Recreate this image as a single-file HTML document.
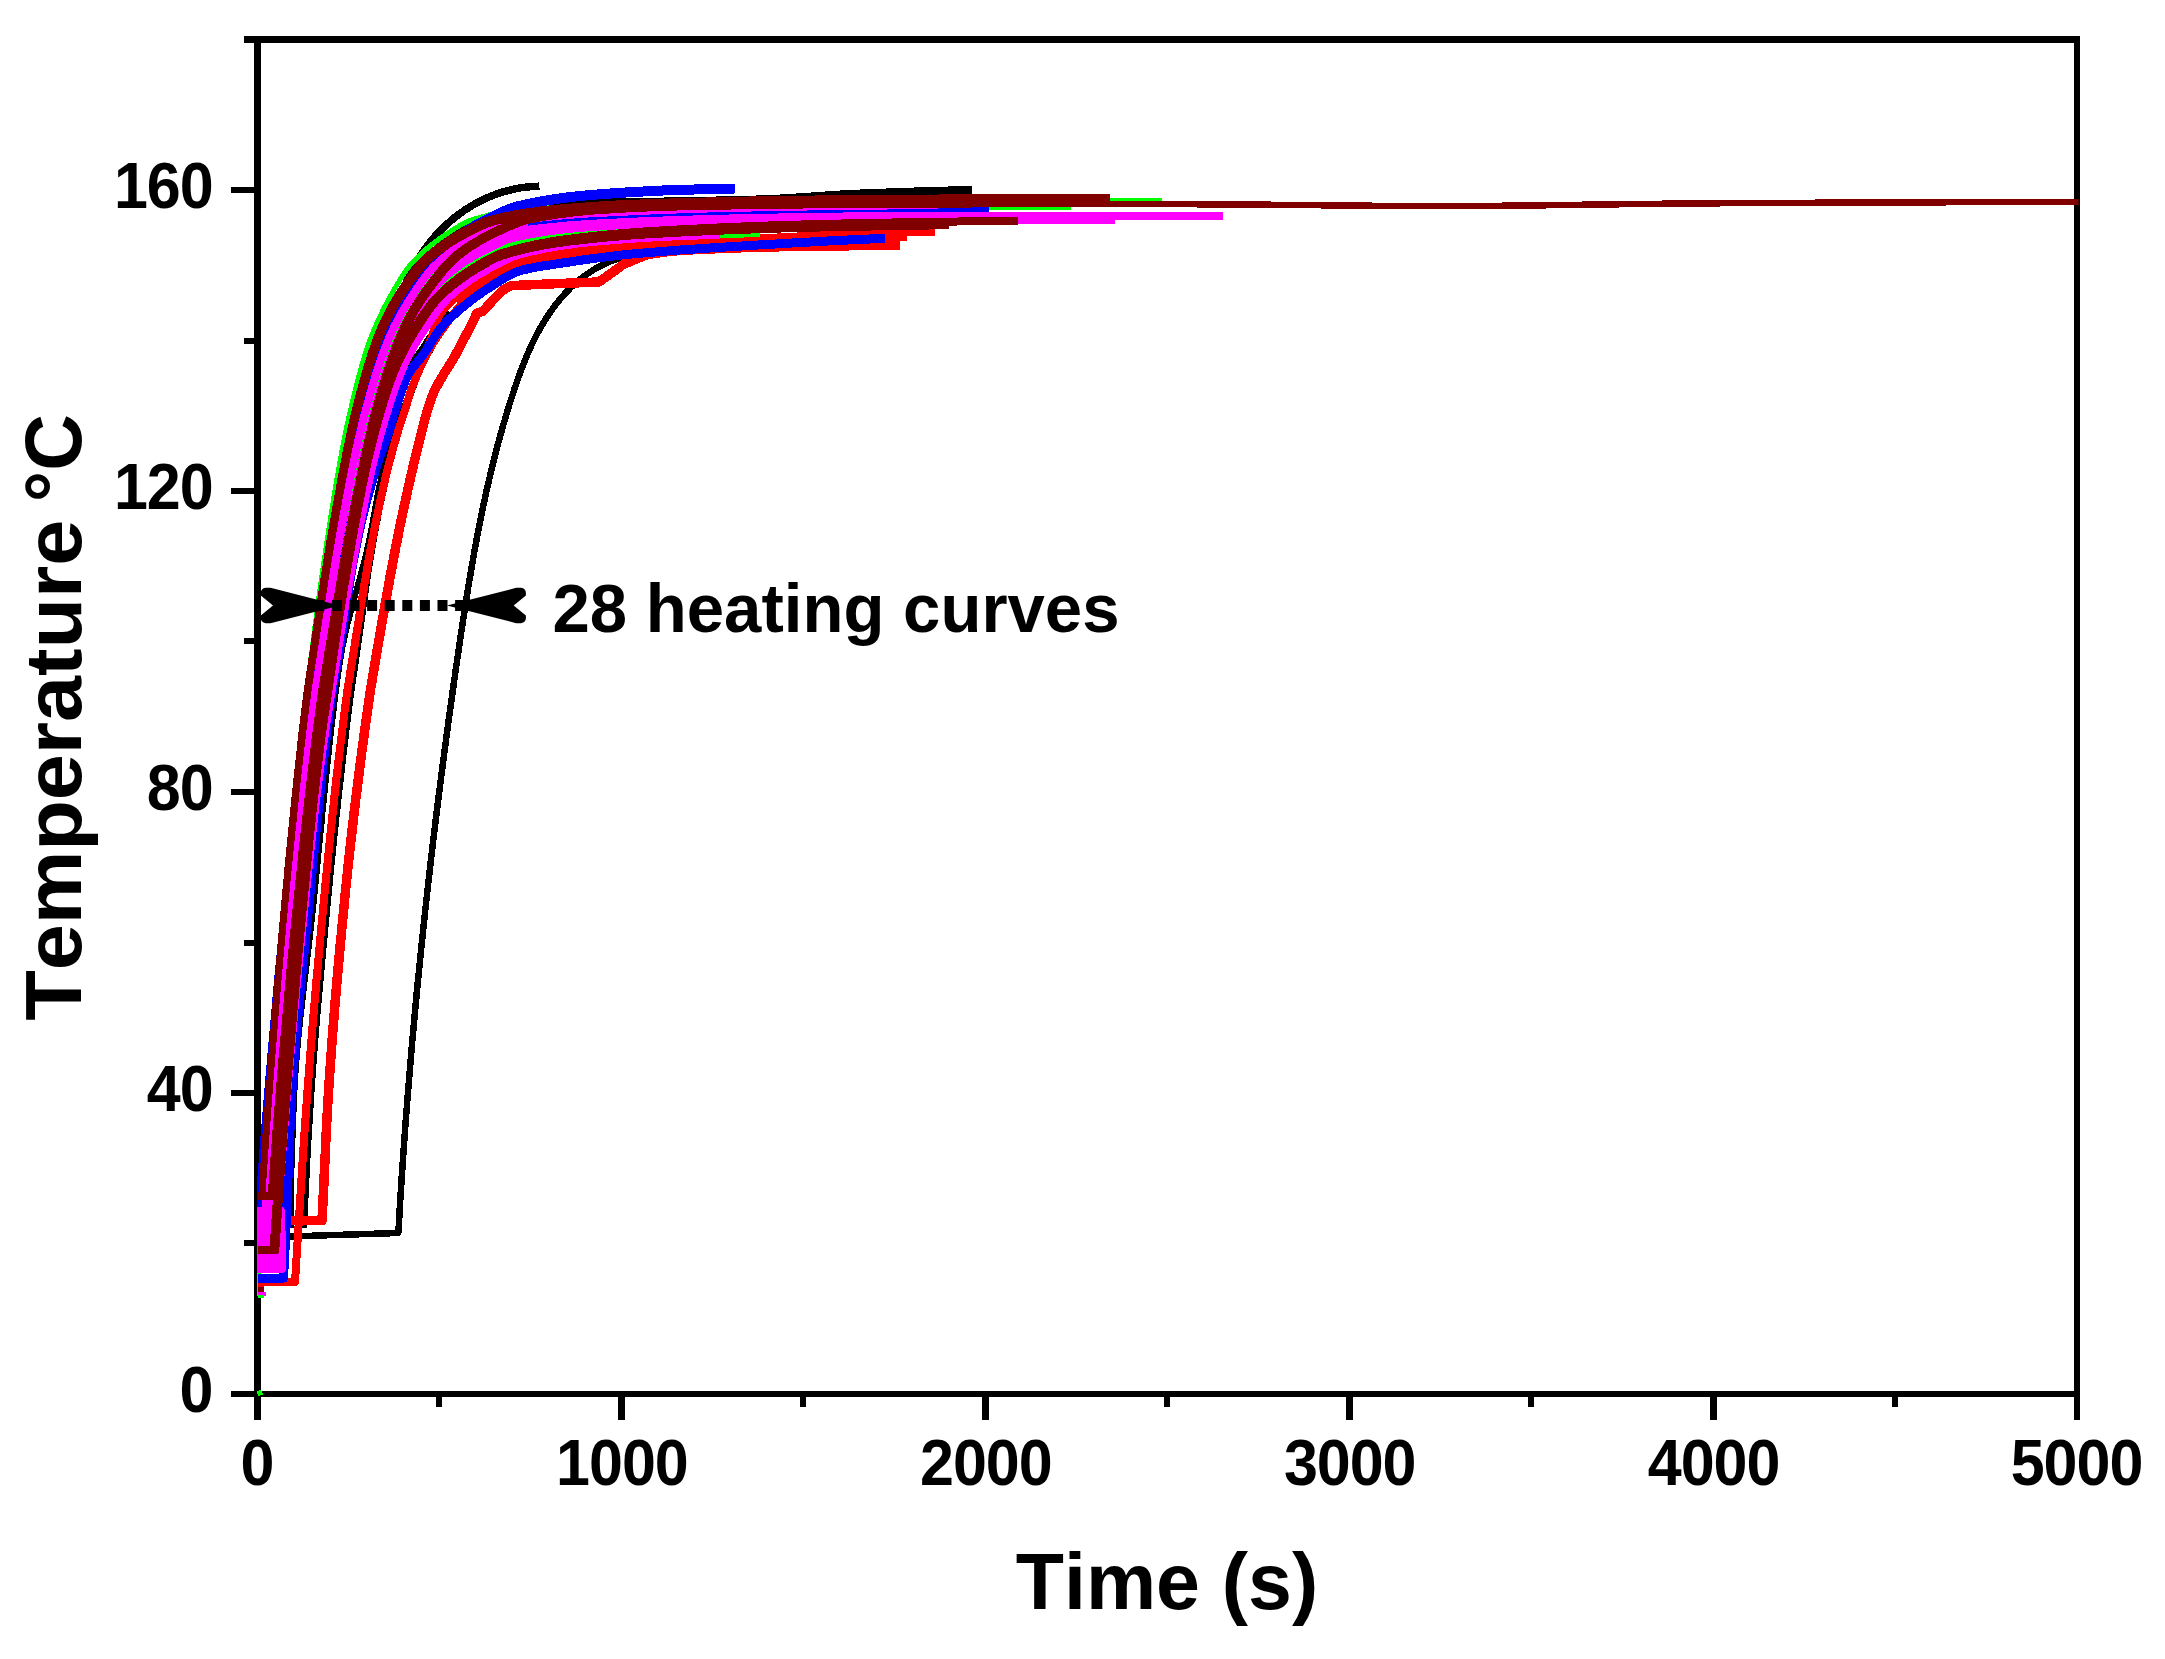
<!DOCTYPE html>
<html lang="en">
<head>
<meta charset="utf-8">
<title>28 heating curves</title>
<style>
html,body{margin:0;padding:0;background:#fff;}
body{width:2165px;height:1659px;overflow:hidden;}
svg{display:block;}
</style>
</head>
<body>
<svg width="2165" height="1659" viewBox="0 0 2165 1659">
<rect width="2165" height="1659" fill="#fff"/>
<g fill="#000" shape-rendering="crispEdges"><rect x="244" y="36" width="1836" height="7"/><rect x="254" y="36" width="7" height="1384"/><rect x="2074" y="36" width="6" height="1384"/><rect x="231" y="1391" width="1849" height="6"/><rect x="231" y="1090" width="23" height="6"/><rect x="231" y="789" width="23" height="6"/><rect x="231" y="488" width="23" height="6"/><rect x="231" y="187" width="23" height="6"/><rect x="244" y="1240" width="10" height="6"/><rect x="244" y="940" width="10" height="6"/><rect x="244" y="638" width="10" height="6"/><rect x="244" y="338" width="10" height="6"/><rect x="618" y="1397" width="7" height="23"/><rect x="982" y="1397" width="7" height="23"/><rect x="1346" y="1397" width="7" height="23"/><rect x="1710" y="1397" width="7" height="23"/><rect x="436" y="1397" width="6" height="10"/><rect x="800" y="1397" width="6" height="10"/><rect x="1164" y="1397" width="6" height="10"/><rect x="1528" y="1397" width="6" height="10"/><rect x="1892" y="1397" width="6" height="10"/></g>
<defs><clipPath id="plot"><rect x="257" y="43" width="1821.5" height="1354"/></clipPath></defs>
<g clip-path="url(#plot)" fill="none" stroke-linejoin="round" stroke-linecap="butt" shape-rendering="crispEdges">
<path stroke="#000000" stroke-width="7.5" d="M300.0,760.0L300.2,758.0L300.5,756.0L300.7,754.0L301.0,752.0L301.3,750.1L301.5,748.1L301.8,746.1L302.0,744.1L302.3,742.1L302.5,740.1L302.8,738.1L303.1,736.1L303.3,734.2L303.6,732.2L303.9,730.2L304.1,728.2L304.4,726.2L304.6,724.2L304.9,722.2L305.2,720.2L305.4,718.3L305.7,716.3L306.0,714.3L306.2,712.3L306.5,710.3L306.8,708.3L307.1,706.4L307.3,704.4L307.6,702.4L307.9,700.4L308.1,698.4L308.4,696.4L308.7,694.5L309.0,692.5L309.3,690.5L309.5,688.5L309.8,686.5L310.1,684.5L310.4,682.6L310.7,680.6L310.9,678.6L311.2,676.6L311.5,674.6L311.8,672.7L312.1,670.7L312.4,668.7L312.7,666.7L312.9,664.7L313.2,662.8L313.5,660.8L313.8,658.8L314.1,656.8L314.4,654.9L314.7,652.9L315.0,650.9L315.3,648.9L315.6,646.9L315.9,645.0L316.2,643.0L316.5,641.0L316.8,639.0L317.1,637.1L317.4,635.1L317.7,633.1L318.0,631.1L318.4,629.2L318.7,627.2L319.0,625.2L319.3,623.2L319.6,621.3L319.9,619.3L320.2,617.3L320.6,615.4L320.9,613.4L321.2,611.4L321.5,609.4L321.9,607.5L322.2,605.5L322.5,603.5L322.8,601.6L323.2,599.6L323.5,597.6L323.8,595.7L324.2,593.7L324.5,591.7L324.8,589.8L325.2,587.8L325.5,585.8L325.9,583.9L326.2,581.9L326.6,579.9L326.9,578.0L327.2,576.0L327.6,574.0L328.0,572.1L328.3,570.1L328.7,568.1L329.0,566.2L329.4,564.2L329.7,562.2L330.1,560.3L330.5,558.3L330.8,556.4L331.2,554.4L331.6,552.4L331.9,550.5L332.3,548.5L332.7,546.5L333.0,544.6L333.4,542.6L333.8,540.7L334.2,538.7L334.6,536.8L334.9,534.8L335.3,532.8L335.7,530.9L336.1,528.9L336.5,527.0L336.9,525.0L337.3,523.1L337.7,521.1L338.1,519.1L338.5,517.2L338.9,515.2L339.3,513.3L339.7,511.3L340.1,509.4L340.5,507.4L340.9,505.5L341.3,503.5L341.8,501.6L342.2,499.6L342.6,497.7L343.0,495.7L343.5,493.8L343.9,491.8L344.3,489.9L344.7,487.9L345.2,486.0L345.6,484.0L346.0,482.1L346.5,480.1L346.9,478.2L347.4,476.2L347.8,474.3L348.3,472.4L348.7,470.4L349.2,468.5L349.6,466.5L350.1,464.6L350.5,462.6L351.0,460.7L351.5,458.8L351.9,456.8L352.4,454.9L352.9,452.9L353.3,451.0L353.8,449.0L354.3,447.1L354.8,445.2L355.3,443.2L355.7,441.3L356.2,439.4L356.7,437.4L357.2,435.5L357.7,433.5L358.2,431.6L358.7,429.7L359.2,427.7L359.7,425.8L360.2,423.9L360.7,421.9L361.2,420.0L361.8,418.1L362.3,416.1L362.8,414.2L363.3,412.3L363.8,410.4L364.4,408.4L364.9,406.5L365.4,404.6L366.0,402.6L366.5,400.7L367.0,398.8L367.6,396.9L368.1,394.9L368.7,393.0L369.2,391.1L369.8,389.2L370.3,387.2L370.9,385.3L371.5,383.4L372.0,381.5L372.6,379.5L373.2,377.6L373.7,375.7L374.3,373.8L374.9,371.9L375.5,369.9L376.1,368.0L376.6,366.1L377.2,364.2L377.8,362.3L378.4,360.3L379.0,358.4L379.6,356.5L380.2,354.6L380.8,352.7L381.4,350.8L382.1,348.9L382.7,346.9L383.3,345.0L383.9,343.1L384.5,341.2L385.2,339.3L385.8,337.4L386.4,335.5L387.1,333.6L387.7,331.7L388.4,329.7L389.0,327.8L389.7,325.9L390.3,324.0L391.0,322.1L391.6,320.2L392.3,318.3L393.0,316.4L393.6,314.5L394.3,312.6L395.0,310.7L395.7,308.8L396.4,306.9L397.1,305.0L397.8,303.1L398.5,301.3L399.2,299.4L399.9,297.5L400.7,295.6L401.4,293.8L402.2,291.9L402.9,290.1L403.7,288.2L404.5,286.4L405.3,284.5L406.1,282.7L406.9,280.9L407.8,279.1L408.6,277.3L409.5,275.5L410.4,273.7L411.3,271.9L412.2,270.2L413.1,268.4L414.0,266.7L415.0,264.9L416.0,263.2L417.0,261.5L418.0,259.8L419.0,258.1L420.0,256.4L421.1,254.8L422.2,253.1L423.3,251.5L424.4,249.8L425.5,248.2L426.7,246.6L427.9,245.0L429.1,243.5L430.3,241.9L431.6,240.4L432.8,238.9L434.1,237.3L435.4,235.9L436.7,234.4L438.1,232.9L439.4,231.5L440.8,230.1L442.2,228.6L443.6,227.3L445.1,225.9L446.5,224.5L448.0,223.2L449.5,221.9L451.0,220.6L452.5,219.3L454.0,218.0L455.6,216.8L457.2,215.6L458.8,214.4L460.4,213.2L462.0,212.1L463.6,210.9L465.3,209.8L466.9,208.7L468.6,207.7L470.3,206.6L472.0,205.6L473.7,204.6L475.5,203.6L477.2,202.7L479.0,201.7L480.8,200.8L482.6,199.9L484.4,199.1L486.2,198.3L488.0,197.4L489.9,196.7L491.7,195.9L493.6,195.2L495.5,194.5L497.4,193.8L499.3,193.1L501.2,192.5L503.1,191.9L505.0,191.4L507.0,190.8L508.9,190.3L510.9,189.8L512.9,189.4L514.9,188.9L516.9,188.6L518.9,188.2L520.9,187.8L522.9,187.5L524.9,187.3L527.0,187.0L529.0,186.8L531.1,186.6L533.2,186.5L535.2,186.3L537.3,186.3L539.4,186.2"/>
<path stroke="#000000" stroke-width="8" d="M300.0,760.0L300.2,758.0L300.4,756.0L300.6,754.0L300.9,752.0L301.1,750.0L301.3,748.0L301.5,746.0L301.7,744.1L302.0,742.1L302.2,740.1L302.4,738.1L302.7,736.1L302.9,734.1L303.1,732.1L303.4,730.1L303.6,728.1L303.9,726.1L304.1,724.2L304.4,722.2L304.6,720.2L304.9,718.2L305.1,716.2L305.4,714.2L305.6,712.2L305.9,710.3L306.1,708.3L306.4,706.3L306.7,704.3L306.9,702.3L307.2,700.3L307.5,698.3L307.8,696.4L308.0,694.4L308.3,692.4L308.6,690.4L308.9,688.4L309.1,686.4L309.4,684.5L309.7,682.5L310.0,680.5L310.3,678.5L310.6,676.5L310.9,674.6L311.1,672.6L311.4,670.6L311.7,668.6L312.0,666.6L312.3,664.7L312.6,662.7L312.9,660.7L313.2,658.7L313.5,656.8L313.8,654.8L314.1,652.8L314.5,650.8L314.8,648.8L315.1,646.9L315.4,644.9L315.7,642.9L316.0,640.9L316.3,639.0L316.7,637.0L317.0,635.0L317.3,633.1L317.6,631.1L317.9,629.1L318.3,627.1L318.6,625.2L318.9,623.2L319.2,621.2L319.6,619.2L319.9,617.3L320.2,615.3L320.6,613.3L320.9,611.4L321.2,609.4L321.6,607.4L321.9,605.5L322.2,603.5L322.6,601.5L322.9,599.5L323.3,597.6L323.6,595.6L324.0,593.6L324.3,591.7L324.7,589.7L325.0,587.7L325.3,585.8L325.7,583.8L326.0,581.8L326.4,579.9L326.7,577.9L327.1,575.9L327.5,574.0L327.8,572.0L328.2,570.1L328.5,568.1L328.9,566.1L329.2,564.2L329.6,562.2L330.0,560.2L330.3,558.3L330.7,556.3L331.0,554.3L331.4,552.4L331.8,550.4L332.2,548.5L332.5,546.5L332.9,544.5L333.3,542.6L333.7,540.6L334.1,538.6L334.5,536.7L334.8,534.7L335.2,532.8L335.6,530.8L336.0,528.8L336.4,526.9L336.8,524.9L337.2,523.0L337.7,521.0L338.1,519.0L338.5,517.1L338.9,515.1L339.3,513.2L339.7,511.2L340.2,509.2L340.6,507.3L341.0,505.3L341.4,503.4L341.9,501.4L342.3,499.5L342.7,497.5L343.2,495.5L343.6,493.6L344.1,491.6L344.5,489.7L345.0,487.7L345.4,485.8L345.9,483.8L346.3,481.9L346.8,479.9L347.2,478.0L347.7,476.0L348.2,474.1L348.6,472.1L349.1,470.2L349.6,468.2L350.0,466.3L350.5,464.3L351.0,462.4L351.5,460.5L351.9,458.5L352.4,456.6L352.9,454.6L353.4,452.7L353.9,450.8L354.4,448.8L354.9,446.9L355.4,444.9L355.9,443.0L356.4,441.1L356.9,439.1L357.4,437.2L357.9,435.3L358.4,433.3L358.9,431.4L359.4,429.5L360.0,427.6L360.5,425.6L361.0,423.7L361.5,421.8L362.0,419.9L362.6,417.9L363.1,416.0L363.6,414.1L364.2,412.2L364.7,410.2L365.2,408.3L365.8,406.4L366.3,404.5L366.9,402.5L367.4,400.6L368.0,398.7L368.6,396.7L369.1,394.8L369.7,392.9L370.3,391.0L370.8,389.1L371.4,387.1L372.0,385.2L372.6,383.3L373.2,381.4L373.8,379.4L374.4,377.5L375.0,375.6L375.6,373.7L376.2,371.8L376.8,369.9L377.4,368.0L378.1,366.1L378.7,364.1L379.3,362.2L380.0,360.3L380.6,358.4L381.3,356.5L381.9,354.6L382.6,352.8L383.2,350.9L383.9,349.0L384.6,347.1L385.3,345.2L385.9,343.3L386.6,341.5L387.3,339.6L388.0,337.7L388.7,335.9L389.4,334.0L390.2,332.1L390.9,330.3L391.6,328.4L392.3,326.6L393.1,324.7L393.8,322.9L394.6,321.1L395.3,319.2L396.1,317.4L396.8,315.5L397.6,313.7L398.4,311.8L399.2,309.9L400.0,308.1L400.8,306.2L401.6,304.3L402.4,302.4L403.2,300.6L404.1,298.7L404.9,296.8L405.8,295.0L406.7,293.1L407.5,291.3L408.4,289.4L409.3,287.6L410.3,285.8L411.2,284.0L412.1,282.2L413.1,280.4L414.1,278.7L415.1,276.9L416.1,275.2L417.1,273.5L418.1,271.8L419.2,270.2L420.3,268.6L421.4,267.0L422.5,265.4L423.6,263.8L424.7,262.3L425.9,260.8L427.1,259.4L428.4,257.9L429.7,256.4L431.1,255.0L432.5,253.6L433.9,252.1L435.3,250.7L436.8,249.3L438.3,248.0L439.9,246.6L441.5,245.3L443.0,244.0L444.7,242.7L446.3,241.4L447.9,240.2L449.6,238.9L451.2,237.8L452.9,236.6L454.5,235.5L456.2,234.4L457.9,233.3L459.5,232.3L461.2,231.3L462.9,230.3L464.6,229.3L466.3,228.3L468.1,227.3L469.9,226.4L471.6,225.5L473.4,224.5L475.3,223.6L477.1,222.7L478.9,221.9L480.8,221.0L482.6,220.2L484.5,219.4L486.4,218.6L488.3,217.9L490.2,217.2L492.0,216.5L493.9,215.9L495.8,215.2L497.7,214.7L499.6,214.1L501.5,213.6L503.4,213.1L505.3,212.5L507.2,212.0L509.1,211.5L511.1,211.0L513.0,210.5L515.0,210.0L516.9,209.5L518.9,209.0L520.8,208.5L522.8,208.0L524.8,207.6L526.7,207.1L528.7,206.7L530.7,206.3L532.7,205.9L534.7,205.5L536.6,205.2L538.6,204.8L540.6,204.5L542.6,204.2L544.6,203.9L546.6,203.7L548.6,203.4L550.6,203.2L552.6,203.1L554.6,202.9L556.6,202.8L558.5,202.7L560.5,202.7L562.5,202.7L564.5,202.6L566.5,202.6L568.5,202.6L570.5,202.5L572.5,202.5L574.5,202.5L576.4,202.5L578.4,202.4L580.4,202.4L582.4,202.4L584.4,202.4L586.4,202.4L588.4,202.3L590.4,202.3L592.4,202.3L594.5,202.3L596.5,202.3L598.5,202.3L600.5,202.3L602.5,202.2L604.5,202.2L606.5,202.2L608.5,202.2L610.5,202.2L612.5,202.2L614.5,202.2L616.5,202.1L618.5,202.1L620.5,202.1L622.5,202.1L624.5,202.1L626.5,202.0L628.5,202.0L630.5,202.0L632.5,202.0L634.5,201.9L636.5,201.9L638.5,201.9L640.5,201.9L642.5,201.8L644.5,201.8L646.5,201.8L648.5,201.7L650.5,201.7L652.5,201.7L654.5,201.6L656.5,201.6L658.5,201.6L660.5,201.5L662.5,201.5L664.5,201.5L666.5,201.4L668.5,201.4L670.5,201.4L672.5,201.3L674.5,201.3L676.5,201.3L678.5,201.2L680.5,201.2L682.5,201.1L684.5,201.1L686.5,201.1L688.5,201.0L690.5,201.0L692.5,200.9L694.5,200.9L696.5,200.9L698.5,200.8L700.5,200.8L702.5,200.7L704.5,200.7L706.5,200.7L708.5,200.6L710.5,200.6L712.5,200.6L714.5,200.5L716.5,200.5L718.5,200.4L720.5,200.4L722.5,200.3L724.5,200.3L726.5,200.3L728.5,200.2L730.5,200.2L732.5,200.1L734.5,200.1L736.5,200.0L738.5,200.0L740.5,199.9L742.5,199.9L744.5,199.8L746.5,199.8L748.5,199.7L750.5,199.7L752.5,199.6L754.5,199.6L756.5,199.5L758.5,199.4L760.5,199.4L762.5,199.3L764.5,199.2L766.5,199.2L768.5,199.1L770.5,199.0L772.5,198.9L774.5,198.8L776.5,198.7L778.5,198.6L780.5,198.5L782.5,198.4L784.5,198.3L786.5,198.2L788.5,198.1L790.5,197.9L792.5,197.8L794.5,197.7L796.4,197.5L798.4,197.4L800.4,197.3L802.4,197.1L804.4,197.0L806.4,196.9L808.4,196.7L810.4,196.6L812.4,196.4L814.4,196.3L816.4,196.2L818.4,196.0L820.4,195.9L822.4,195.7L824.4,195.6L826.4,195.4L828.4,195.3L830.4,195.2L832.4,195.0L834.4,194.9L836.4,194.8L838.4,194.7L840.4,194.5L842.4,194.4L844.4,194.3L846.3,194.2L848.3,194.1L850.3,194.0L852.3,193.9L854.3,193.8L856.3,193.7L858.3,193.6L860.3,193.5L862.3,193.4L864.3,193.3L866.3,193.2L868.3,193.2L870.3,193.1L872.3,193.0L874.3,192.9L876.3,192.8L878.3,192.8L880.3,192.7L882.3,192.6L884.3,192.5L886.3,192.5L888.3,192.4L890.3,192.3L892.3,192.2L894.3,192.2L896.3,192.1L898.3,192.0L900.3,191.9L902.3,191.9L904.3,191.8L906.3,191.7L908.3,191.7L910.3,191.6L912.3,191.5L914.3,191.5L916.3,191.4L918.3,191.3L920.3,191.3L922.3,191.2L924.3,191.1L926.3,191.1L928.3,191.0L930.3,191.0L932.3,190.9L934.3,190.8L936.3,190.8L938.3,190.7L940.3,190.7L942.3,190.6L944.3,190.6L946.3,190.5L948.3,190.5L950.3,190.4L952.3,190.4L954.3,190.3L956.3,190.3L958.3,190.3L960.3,190.2L962.3,190.2L964.3,190.1L966.3,190.1L968.3,190.1L970.3,190.0L972.0,190.0"/>
<path stroke="#000000" stroke-width="6.5" d="M257.5,1237.5L398.0,1233.0L398.3,1232.9L398.5,1230.9L398.6,1228.9L398.7,1227.0L398.8,1225.0L398.9,1223.0L399.0,1221.0L399.1,1219.0L399.3,1217.0L399.4,1215.1L399.5,1213.1L399.6,1211.1L399.7,1209.1L399.9,1207.1L400.0,1205.1L400.1,1203.1L400.2,1201.2L400.3,1199.2L400.5,1197.2L400.6,1195.2L400.7,1193.2L400.8,1191.2L401.0,1189.2L401.1,1187.2L401.2,1185.3L401.4,1183.3L401.5,1181.3L401.6,1179.3L401.7,1177.3L401.9,1175.3L402.0,1173.3L402.1,1171.3L402.3,1169.4L402.4,1167.4L402.5,1165.4L402.7,1163.4L402.8,1161.4L403.0,1159.4L403.1,1157.4L403.2,1155.4L403.4,1153.4L403.5,1151.5L403.7,1149.5L403.8,1147.5L403.9,1145.5L404.1,1143.5L404.2,1141.5L404.4,1139.5L404.5,1137.5L404.7,1135.5L404.8,1133.6L404.9,1131.6L405.1,1129.6L405.2,1127.6L405.4,1125.6L405.5,1123.6L405.7,1121.6L405.8,1119.6L406.0,1117.6L406.1,1115.6L406.3,1113.7L406.5,1111.7L406.6,1109.7L406.8,1107.7L406.9,1105.7L407.1,1103.7L407.2,1101.7L407.4,1099.7L407.5,1097.7L407.7,1095.7L407.9,1093.7L408.0,1091.8L408.2,1089.8L408.3,1087.8L408.5,1085.8L408.7,1083.8L408.8,1081.8L409.0,1079.8L409.2,1077.8L409.3,1075.8L409.5,1073.8L409.7,1071.8L409.8,1069.8L410.0,1067.9L410.2,1065.9L410.3,1063.9L410.5,1061.9L410.7,1059.9L410.8,1057.9L411.0,1055.9L411.2,1053.9L411.4,1051.9L411.5,1049.9L411.7,1047.9L411.9,1046.0L412.1,1044.0L412.2,1042.0L412.4,1040.0L412.6,1038.0L412.8,1036.0L412.9,1034.0L413.1,1032.0L413.3,1030.0L413.5,1028.0L413.7,1026.0L413.8,1024.0L414.0,1022.0L414.2,1020.1L414.4,1018.1L414.6,1016.1L414.8,1014.1L414.9,1012.1L415.1,1010.1L415.3,1008.1L415.5,1006.1L415.7,1004.1L415.9,1002.1L416.1,1000.1L416.3,998.1L416.5,996.2L416.6,994.2L416.8,992.2L417.0,990.2L417.2,988.2L417.4,986.2L417.6,984.2L417.8,982.2L418.0,980.2L418.2,978.2L418.4,976.2L418.6,974.2L418.8,972.3L419.0,970.3L419.2,968.3L419.4,966.3L419.6,964.3L419.8,962.3L420.0,960.3L420.2,958.3L420.4,956.3L420.6,954.3L420.8,952.3L421.0,950.4L421.2,948.4L421.4,946.4L421.6,944.4L421.8,942.4L422.0,940.4L422.3,938.4L422.5,936.4L422.7,934.4L422.9,932.4L423.1,930.4L423.3,928.5L423.5,926.5L423.7,924.5L423.9,922.5L424.2,920.5L424.4,918.5L424.6,916.5L424.8,914.5L425.0,912.5L425.2,910.5L425.5,908.6L425.7,906.6L425.9,904.6L426.1,902.6L426.3,900.6L426.6,898.6L426.8,896.6L427.0,894.6L427.2,892.6L427.4,890.6L427.7,888.7L427.9,886.7L428.1,884.7L428.3,882.7L428.6,880.7L428.8,878.7L429.0,876.7L429.2,874.7L429.5,872.8L429.7,870.8L429.9,868.8L430.2,866.8L430.4,864.8L430.6,862.8L430.8,860.8L431.1,858.8L431.3,856.8L431.5,854.9L431.8,852.9L432.0,850.9L432.2,848.9L432.5,846.9L432.7,844.9L433.0,842.9L433.2,841.0L433.4,839.0L433.7,837.0L433.9,835.0L434.1,833.0L434.4,831.0L434.6,829.0L434.9,827.0L435.1,825.1L435.4,823.1L435.6,821.1L435.8,819.1L436.1,817.1L436.3,815.1L436.6,813.2L436.8,811.2L437.1,809.2L437.3,807.2L437.6,805.2L437.8,803.2L438.1,801.2L438.3,799.3L438.5,797.3L438.8,795.3L439.1,793.3L439.3,791.3L439.6,789.3L439.8,787.4L440.1,785.4L440.3,783.4L440.6,781.4L440.8,779.4L441.1,777.4L441.3,775.5L441.6,773.5L441.8,771.5L442.1,769.5L442.4,767.5L442.6,765.6L442.9,763.6L443.1,761.6L443.4,759.6L443.7,757.6L443.9,755.7L444.2,753.7L444.4,751.7L444.7,749.7L445.0,747.7L445.2,745.8L445.5,743.8L445.8,741.8L446.0,739.8L446.3,737.8L446.5,735.9L446.8,733.9L447.1,731.9L447.3,729.9L447.6,727.9L447.9,726.0L448.2,724.0L448.4,722.0L448.7,720.0L449.0,718.1L449.2,716.1L449.5,714.1L449.8,712.1L450.1,710.2L450.3,708.2L450.6,706.2L450.9,704.2L451.1,702.3L451.4,700.3L451.7,698.3L452.0,696.3L452.3,694.4L452.5,692.4L452.8,690.4L453.1,688.4L453.4,686.5L453.6,684.5L453.9,682.5L454.2,680.5L454.5,678.6L454.8,676.6L455.1,674.6L455.3,672.6L455.6,670.7L455.9,668.7L456.2,666.7L456.5,664.8L456.8,662.8L457.0,660.8L457.3,658.9L457.6,656.9L457.9,654.9L458.2,652.9L458.5,651.0L458.8,649.0L459.1,647.0L459.3,645.1L459.6,643.1L459.9,641.1L460.2,639.2L460.5,637.2L460.8,635.2L461.1,633.3L461.4,631.3L461.7,629.3L462.0,627.4L462.3,625.4L462.6,623.4L462.9,621.5L463.2,619.5L463.5,617.5L463.8,615.6L464.1,613.6L464.4,611.6L464.7,609.7L465.0,607.7L465.3,605.7L465.6,603.8L465.9,601.8L466.2,599.9L466.5,597.9L466.8,595.9L467.2,594.0L467.5,592.0L467.8,590.0L468.1,588.1L468.4,586.1L468.8,584.2L469.1,582.2L469.4,580.2L469.7,578.3L470.1,576.3L470.4,574.4L470.7,572.4L471.1,570.4L471.4,568.5L471.7,566.5L472.1,564.6L472.4,562.6L472.8,560.7L473.1,558.7L473.4,556.7L473.8,554.8L474.1,552.8L474.5,550.9L474.9,548.9L475.2,547.0L475.6,545.0L475.9,543.1L476.3,541.1L476.7,539.1L477.0,537.2L477.4,535.2L477.8,533.3L478.2,531.3L478.5,529.4L478.9,527.4L479.3,525.5L479.7,523.5L480.1,521.6L480.5,519.6L480.8,517.7L481.2,515.7L481.6,513.8L482.0,511.8L482.4,509.9L482.9,507.9L483.3,506.0L483.7,504.0L484.1,502.1L484.5,500.1L484.9,498.2L485.4,496.2L485.8,494.3L486.2,492.3L486.6,490.4L487.1,488.5L487.5,486.5L488.0,484.6L488.4,482.6L488.9,480.7L489.3,478.7L489.8,476.8L490.2,474.8L490.7,472.9L491.2,471.0L491.6,469.0L492.1,467.1L492.6,465.1L493.0,463.2L493.5,461.3L494.0,459.3L494.5,457.4L495.0,455.4L495.5,453.5L496.0,451.6L496.5,449.6L497.0,447.7L497.5,445.7L498.0,443.8L498.6,441.9L499.1,439.9L499.6,438.0L500.1,436.1L500.7,434.1L501.2,432.2L501.8,430.3L502.3,428.3L502.9,426.4L503.4,424.5L504.0,422.5L504.6,420.6L505.1,418.7L505.7,416.7L506.3,414.8L506.9,412.9L507.4,410.9L508.0,409.0L508.6,407.1L509.2,405.1L509.8,403.2L510.4,401.3L511.1,399.3L511.7,397.4L512.3,395.5L512.9,393.6L513.6,391.6L514.2,389.7L514.8,387.8L515.5,385.9L516.1,384.0L516.8,382.0L517.5,380.1L518.1,378.2L518.8,376.3L519.5,374.4L520.2,372.5L520.9,370.6L521.6,368.7L522.4,366.8L523.1,364.9L523.8,363.0L524.6,361.2L525.4,359.3L526.1,357.4L526.9,355.6L527.7,353.7L528.5,351.9L529.3,350.0L530.1,348.2L531.0,346.4L531.8,344.5L532.7,342.7L533.6,340.9L534.5,339.1L535.4,337.3L536.3,335.6L537.2,333.8L538.1,332.0L539.1,330.3L540.1,328.5L541.0,326.8L542.0,325.1L543.0,323.4L544.1,321.7L545.1,320.0L546.2,318.3L547.2,316.6L548.3,315.0L549.4,313.3L550.6,311.7L551.7,310.1L552.9,308.4L554.0,306.8L555.2,305.3L556.5,303.7L557.7,302.1L558.9,300.6L560.2,299.1L561.5,297.6L562.8,296.1L564.1,294.6L565.4,293.1L566.8,291.7L568.2,290.3L569.5,288.9L570.9,287.5L572.4,286.1L573.8,284.8L575.3,283.5L576.7,282.2L578.2,280.9L579.7,279.7L581.2,278.4L582.8,277.2L584.3,276.1L585.9,274.9L587.5,273.8L589.1,272.7L590.7,271.6L592.3,270.6L593.9,269.6L595.6,268.6L597.3,267.7L599.0,266.7L600.7,265.9L602.4,265.0L604.1,264.2L605.9,263.3L607.6,262.6L609.4,261.8L611.2,261.1L613.0,260.4L614.8,259.7L616.6,259.0L618.5,258.4L620.3,257.8L622.2,257.2L624.1,256.7L625.9,256.1L627.8,255.6L629.7,255.1L631.7,254.6L633.6,254.2L635.5,253.8L637.5,253.3L639.4,253.0L641.4,252.6L643.3,252.2L645.3,251.9L647.3,251.6L649.3,251.3L651.3,251.0L653.3,250.7L655.3,250.5L657.3,250.2L659.3,250.0L661.4,249.8L663.4,249.6L665.4,249.4L667.5,249.2L669.5,249.1L671.6,248.9L673.7,248.8L675.7,248.7L677.8,248.6L679.9,248.5L681.9,248.4L684.0,248.3L686.1,248.2L688.2,248.2L690.3,248.1L692.4,248.0L694.4,248.0L696.5,248.0L698.6,247.9L700.7,247.9L702.8,247.9L704.9,247.9L707.0,247.9L709.1,247.9L711.2,247.9L713.2,247.9L715.3,247.9L717.4,247.9L719.5,247.9L721.6,247.9L723.7,247.9L725.7,247.9L727.8,248.0L729.9,248.0L732.0,248.0L734.0,248.0L736.1,248.0L738.1,248.0L740.2,248.0L742.2,248.0L744.3,248.0L746.3,248.0L748.3,248.0L750.4,248.0L752.4,247.9L754.4,247.9L756.4,247.9L758.4,247.8L760.4,247.8L762.4,247.7L764.3,247.6L766.3,247.6L768.3,247.5L770.2,247.4L772.1,247.3L774.1,247.2L776.0,247.1L777.9,246.9L779.8,246.8L781.7,246.6L783.6,246.4L785.4,246.3L787.3,246.1L789.1,245.8L791.0,245.6L792.8,245.4L794.6,245.1L796.4,244.8L798.2,244.5L800.0,244.2"/>
<path stroke="#000000" stroke-width="6" d="M290.5,1228.0L290.5,1226.0L290.5,1224.0L290.5,1222.0L290.5,1220.0L290.5,1218.0L290.5,1216.0L290.6,1214.0L290.6,1212.0L290.6,1210.0L290.6,1208.0L290.6,1206.0L290.7,1204.0L290.7,1202.0L290.7,1200.0L290.8,1198.0L290.8,1196.0L290.8,1194.0L290.9,1192.0L290.9,1190.0L291.0,1188.0L291.0,1186.0L291.0,1184.0L291.1,1182.0L291.1,1180.0L291.2,1178.0L291.2,1176.0L291.3,1174.0L291.4,1172.0L291.4,1170.0L291.5,1168.0L291.5,1166.0L291.6,1164.0L291.7,1162.0L291.7,1160.0L291.8,1158.0L291.8,1156.0L291.9,1154.0L292.0,1152.0L292.1,1150.0L292.1,1148.0L292.2,1146.0L292.3,1144.0L292.3,1142.0L292.4,1140.0L292.5,1138.0L292.6,1136.0L292.6,1134.0L292.7,1132.0L292.8,1130.0L292.9,1128.0L292.9,1126.0L293.0,1124.0L293.1,1122.0L293.2,1120.0L293.3,1118.0L293.3,1116.0L293.4,1114.0L293.5,1112.0L293.6,1110.0L293.7,1108.0L293.8,1106.0L293.8,1104.0L293.9,1102.0L294.0,1100.0L294.1,1098.1L294.2,1096.1L294.3,1094.1L294.4,1092.1L294.5,1090.1L294.6,1088.1L294.7,1086.1L294.8,1084.1L294.9,1082.1L295.0,1080.1L295.2,1078.1L295.3,1076.1L295.4,1074.1L295.6,1072.1L295.7,1070.1L295.8,1068.1L296.0,1066.2L296.1,1064.2L296.3,1062.2L296.5,1060.2L296.6,1058.2L296.8,1056.2L296.9,1054.2L297.1,1052.2L297.3,1050.2L297.5,1048.2L297.6,1046.2L297.8,1044.2L298.0,1042.3L298.2,1040.3L298.4,1038.3L298.6,1036.3L298.8,1034.3L299.0,1032.3L299.2,1030.3L299.4,1028.3L299.6,1026.3L299.8,1024.3L300.0,1022.4L300.2,1020.4L300.4,1018.4L300.6,1016.4L300.8,1014.4L301.0,1012.4L301.3,1010.4L301.5,1008.4L301.7,1006.4L301.9,1004.4L302.1,1002.5L302.4,1000.5L302.6,998.5L302.8,996.5L303.1,994.5L303.3,992.5L303.5,990.5L303.7,988.5L304.0,986.5L304.2,984.6L304.4,982.6L304.7,980.6L304.9,978.6L305.1,976.6L305.4,974.6L305.6,972.6L305.9,970.6L306.1,968.7L306.3,966.7L306.6,964.7L306.8,962.7L307.0,960.7L307.3,958.7L307.5,956.7L307.7,954.7L308.0,952.7L308.2,950.8L308.5,948.8L308.7,946.8L308.9,944.8L309.2,942.8L309.4,940.8L309.6,938.8L309.9,936.8L310.1,934.8L310.3,932.9L310.5,930.9L310.8,928.9L311.0,926.9L311.2,924.9L311.4,922.9L311.7,920.9L311.9,918.9L312.1,916.9L312.3,915.0L312.5,913.0L312.8,911.0L313.0,909.0L313.2,907.0L313.4,905.0L313.6,903.0L313.8,901.0L314.0,899.0L314.2,897.1L314.4,895.1L314.6,893.1L314.8,891.1L315.0,889.1L315.2,887.1L315.4,885.1L315.6,883.1L315.8,881.1L316.0,879.1L316.2,877.1L316.4,875.2L316.6,873.2L316.8,871.2L317.0,869.2L317.2,867.2L317.4,865.2L317.6,863.2L317.8,861.2L318.0,859.2L318.2,857.2L318.3,855.2L318.5,853.3L318.7,851.3L318.9,849.3L319.1,847.3L319.3,845.3L319.5,843.3L319.7,841.3L319.9,839.3L320.1,837.3L320.3,835.3L320.5,833.3L320.7,831.4L320.9,829.4L321.1,827.4L321.3,825.4L321.5,823.4L321.7,821.4L321.8,819.4L322.0,817.4L322.2,815.4L322.4,813.4L322.6,811.4L322.8,809.5L323.0,807.5L323.2,805.5L323.4,803.5L323.6,801.5L323.8,799.5L324.0,797.5L324.2,795.5L324.4,793.5L324.6,791.5L324.8,789.6L325.0,787.6L325.2,785.6L325.4,783.6L325.6,781.6L325.8,779.6L326.0,777.6L326.3,775.6L326.5,773.6L326.7,771.6L326.9,769.7L327.1,767.7L327.3,765.7L327.5,763.7L327.7,761.7L327.9,759.7L328.1,757.7L328.4,755.7L328.6,753.7L328.8,751.8L329.0,749.8L329.2,747.8L329.4,745.8L329.7,743.8L329.9,741.8L330.1,739.8L330.3,737.8L330.5,735.9L330.8,733.9L331.0,731.9L331.2,729.9L331.4,727.9L331.7,725.9L331.9,723.9L332.1,722.0L332.4,720.0L332.6,718.0L332.8,716.0L333.1,714.0L333.3,712.0L333.6,710.0L333.8,708.1L334.0,706.1L334.3,704.1L334.5,702.1L334.8,700.1L335.0,698.1L335.3,696.2L335.5,694.2L335.8,692.2L336.0,690.2L336.3,688.2L336.6,686.2L336.8,684.2L337.1,682.3L337.3,680.3L337.6,678.3L337.9,676.3L338.2,674.3L338.5,672.3L338.7,670.4L339.0,668.4L339.3,666.4L339.6,664.4L339.9,662.4L340.2,660.5L340.6,658.5L340.9,656.5L341.2,654.6L341.5,652.6L341.9,650.6L342.2,648.7L342.6,646.7L343.0,644.7L343.4,642.8L343.8,640.8L344.2,638.9L344.6,636.9L345.0,635.0L345.4,633.0L345.9,631.1L346.3,629.1L346.8,627.2L347.2,625.3L347.7,623.3L348.2,621.4L348.7,619.4L349.2,617.5L349.7,615.6L350.2,613.6L350.7,611.7L351.2,609.7L351.7,607.8L352.2,605.9L352.7,603.9L353.2,602.0L353.8,600.1L354.3,598.1L354.8,596.2L355.4,594.3L355.9,592.3L356.4,590.4L357.0,588.5L357.5,586.5L358.0,584.6L358.5,582.7L359.1,580.7L359.6,578.8L360.1,576.9L360.6,574.9L361.2,573.0L361.7,571.1L362.2,569.1L362.7,567.2L363.2,565.3L363.7,563.3L364.2,561.4L364.7,559.4L365.2,557.5L365.6,555.6L366.1,553.6L366.6,551.7L367.0,549.7L367.5,547.8L367.9,545.8L368.3,543.9L368.8,541.9L369.2,540.0L369.6,538.0L370.0,536.0L370.4,534.1L370.8,532.1L371.1,530.1L371.5,528.2L371.9,526.2L372.3,524.2L372.6,522.3L373.0,520.3L373.3,518.3L373.7,516.3L374.1,514.4L374.4,512.4L374.8,510.4L375.1,508.4L375.5,506.5L375.8,504.5L376.2,502.5L376.6,500.6L376.9,498.6L377.3,496.6L377.7,494.7L378.1,492.7L378.5,490.7L378.9,488.8L379.3,486.8L379.7,484.9L380.1,482.9L380.5,481.0L380.9,479.0L381.4,477.1L381.8,475.1L382.3,473.2L382.8,471.3L383.3,469.3L383.8,467.4L384.3,465.5L384.8,463.6L385.3,461.7L385.9,459.7L386.4,457.8L387.0,455.9L387.6,454.0L388.2,452.1L388.8,450.2L389.4,448.3L390.0,446.4L390.6,444.5L391.3,442.6L391.9,440.7L392.6,438.8L393.2,436.9L393.9,435.0L394.6,433.1L395.2,431.2L395.9,429.3L396.6,427.4L397.3,425.5L398.0,423.7L398.7,421.8L399.4,419.9L400.1,418.0L400.8,416.2L401.5,414.3L402.2,412.4L402.9,410.5L403.7,408.7L404.4,406.8L405.1,404.9L405.8,403.1L406.5,401.2L407.3,399.3L408.0,397.5L408.7,395.6L409.4,393.8L410.2,391.9L410.9,390.0L411.7,388.2L412.4,386.3L413.2,384.5L414.0,382.6L414.8,380.8L415.5,378.9L416.3,377.1L417.1,375.3L418.0,373.4L418.8,371.6L419.6,369.8L420.4,368.0L421.3,366.1L422.1,364.3L423.0,362.5L423.8,360.7L424.7,358.9L425.6,357.1L426.5,355.4L427.4,353.6L428.3,351.8L429.3,350.1L430.3,348.3L431.2,346.6L432.2,344.8L433.2,343.1L434.2,341.4L434.7,340.6"/>
<path stroke="#000000" stroke-width="8" d="M303.2,1228.0L303.3,1226.0L303.4,1224.0L303.4,1222.0L303.5,1220.0L303.6,1218.0L303.7,1216.0L303.8,1214.0L303.9,1212.0L304.0,1210.0L304.1,1208.0L304.1,1206.0L304.2,1204.0L304.3,1202.0L304.4,1200.0L304.5,1198.0L304.6,1196.0L304.7,1194.0L304.8,1192.0L304.9,1190.0L305.0,1188.0L305.1,1186.0L305.2,1184.0L305.3,1182.0L305.4,1180.0L305.5,1178.0L305.6,1176.0L305.7,1174.0L305.8,1172.0L305.9,1170.1L306.0,1168.1L306.1,1166.1L306.2,1164.1L306.3,1162.1L306.4,1160.1L306.5,1158.1L306.6,1156.1L306.8,1154.1L306.9,1152.1L307.0,1150.1L307.1,1148.1L307.2,1146.1L307.3,1144.1L307.4,1142.1L307.5,1140.1L307.7,1138.1L307.8,1136.1L307.9,1134.1L308.0,1132.1L308.1,1130.1L308.3,1128.1L308.4,1126.1L308.5,1124.1L308.6,1122.1L308.7,1120.1L308.9,1118.1L309.0,1116.1L309.1,1114.1L309.2,1112.2L309.4,1110.2L309.5,1108.2L309.6,1106.2L309.7,1104.2L309.9,1102.2L310.0,1100.2L310.1,1098.2L310.2,1096.2L310.4,1094.2L310.5,1092.2L310.6,1090.2L310.8,1088.2L310.9,1086.2L311.1,1084.2L311.2,1082.2L311.3,1080.2L311.5,1078.2L311.6,1076.2L311.8,1074.2L311.9,1072.3L312.0,1070.3L312.2,1068.3L312.3,1066.3L312.5,1064.3L312.6,1062.3L312.8,1060.3L312.9,1058.3L313.1,1056.3L313.2,1054.3L313.4,1052.3L313.6,1050.3L313.7,1048.3L313.9,1046.3L314.0,1044.3L314.2,1042.3L314.3,1040.3L314.5,1038.4L314.7,1036.4L314.8,1034.4L315.0,1032.4L315.2,1030.4L315.3,1028.4L315.5,1026.4L315.7,1024.4L315.8,1022.4L316.0,1020.4L316.2,1018.4L316.3,1016.4L316.5,1014.4L316.7,1012.4L316.8,1010.4L317.0,1008.5L317.2,1006.5L317.4,1004.5L317.5,1002.5L317.7,1000.5L317.9,998.5L318.1,996.5L318.2,994.5L318.4,992.5L318.6,990.5L318.8,988.5L318.9,986.5L319.1,984.5L319.3,982.5L319.5,980.6L319.7,978.6L319.8,976.6L320.0,974.6L320.2,972.6L320.4,970.6L320.6,968.6L320.8,966.6L320.9,964.6L321.1,962.6L321.3,960.6L321.5,958.6L321.7,956.7L321.9,954.7L322.1,952.7L322.3,950.7L322.4,948.7L322.6,946.7L322.8,944.7L323.0,942.7L323.2,940.7L323.4,938.7L323.6,936.7L323.8,934.7L324.0,932.8L324.1,930.8L324.3,928.8L324.5,926.8L324.7,924.8L324.9,922.8L325.1,920.8L325.3,918.8L325.5,916.8L325.7,914.8L325.9,912.8L326.1,910.9L326.2,908.9L326.4,906.9L326.6,904.9L326.8,902.9L327.0,900.9L327.2,898.9L327.4,896.9L327.6,894.9L327.8,892.9L328.0,891.0L328.2,889.0L328.4,887.0L328.6,885.0L328.8,883.0L329.0,881.0L329.2,879.0L329.4,877.0L329.5,875.0L329.7,873.0L329.9,871.1L330.1,869.1L330.3,867.1L330.5,865.1L330.7,863.1L330.9,861.1L331.1,859.1L331.4,857.1L331.6,855.1L331.8,853.1L332.0,851.2L332.2,849.2L332.4,847.2L332.6,845.2L332.8,843.2L333.0,841.2L333.2,839.2L333.4,837.2L333.6,835.2L333.8,833.2L334.0,831.3L334.2,829.3L334.5,827.3L334.7,825.3L334.9,823.3L335.1,821.3L335.3,819.3L335.5,817.3L335.7,815.3L335.9,813.4L336.2,811.4L336.4,809.4L336.6,807.4L336.8,805.4L337.0,803.4L337.2,801.4L337.5,799.4L337.7,797.4L337.9,795.5L338.1,793.5L338.3,791.5L338.6,789.5L338.8,787.5L339.0,785.5L339.2,783.5L339.5,781.5L339.7,779.6L339.9,777.6L340.1,775.6L340.4,773.6L340.6,771.6L340.8,769.6L341.1,767.6L341.3,765.6L341.5,763.7L341.7,761.7L342.0,759.7L342.2,757.7L342.4,755.7L342.7,753.7L342.9,751.7L343.1,749.8L343.4,747.8L343.6,745.8L343.9,743.8L344.1,741.8L344.3,739.8L344.6,737.8L344.8,735.9L345.1,733.9L345.3,731.9L345.5,729.9L345.8,727.9L346.0,725.9L346.3,723.9L346.5,722.0L346.8,720.0L347.0,718.0L347.3,716.0L347.5,714.0L347.8,712.0L348.0,710.1L348.3,708.1L348.5,706.1L348.8,704.1L349.0,702.1L349.3,700.1L349.5,698.2L349.8,696.2L350.1,694.2L350.3,692.2L350.6,690.2L350.9,688.2L351.2,686.3L351.4,684.3L351.7,682.3L352.0,680.3L352.3,678.3L352.6,676.4L352.9,674.4L353.2,672.4L353.5,670.4L353.8,668.5L354.1,666.5L354.4,664.5L354.7,662.5L354.9,660.5L355.2,658.6L355.5,656.6L355.8,654.6L356.1,652.6L356.4,650.6L356.7,648.7L357.0,646.7L357.3,644.7L357.5,642.7L357.8,640.7L358.1,638.8L358.4,636.8L358.7,634.8L358.9,632.8L359.2,630.8L359.5,628.9L359.8,626.9L360.0,624.9L360.3,622.9L360.6,620.9L360.9,618.9L361.1,617.0L361.4,615.0L361.7,613.0L362.0,611.0L362.2,609.0L362.5,607.1L362.8,605.1L363.1,603.1L363.3,601.1L363.6,599.1L363.9,597.1L364.2,595.2L364.4,593.2L364.7,591.2L365.0,589.2L365.3,587.2L365.6,585.3L365.9,583.3L366.2,581.3L366.4,579.3L366.7,577.3L367.0,575.4L367.3,573.4L367.6,571.4L367.9,569.4L368.2,567.5L368.5,565.5L368.8,563.5L369.2,561.5L369.5,559.6L369.8,557.6L370.1,555.6L370.4,553.6L370.8,551.7L371.1,549.7L371.4,547.7L371.8,545.8L372.1,543.8L372.5,541.8L372.8,539.9L373.2,537.9L373.5,535.9L373.9,534.0L374.2,532.0L374.6,530.0L375.0,528.1L375.3,526.1L375.7,524.1L376.1,522.2L376.5,520.2L376.9,518.2L377.2,516.3L377.6,514.3L378.0,512.3L378.4,510.4L378.8,508.4L379.2,506.5L379.6,504.5L380.1,502.5L380.5,500.6L380.9,498.6L381.3,496.7L381.7,494.7L382.2,492.8L382.6,490.8L383.0,488.9L383.5,486.9L383.9,484.9L384.4,483.0L384.8,481.0L385.2,479.1L385.7,477.2L386.2,475.2L386.6,473.3L387.1,471.3L387.5,469.4L388.0,467.4L388.5,465.5L389.0,463.6L389.5,461.6L390.0,459.7L390.5,457.8L391.0,455.8L391.6,453.9L392.1,452.0L392.6,450.0L393.2,448.1L393.7,446.2L394.3,444.3L394.8,442.3L395.4,440.4L395.9,438.5L396.5,436.6L397.1,434.7L397.7,432.7L398.2,430.8L398.8,428.9L399.4,427.0L400.0,425.1L400.6,423.2L401.2,421.3L401.7,419.3L402.3,417.4L402.9,415.5L403.5,413.6L404.1,411.7L404.7,409.8L405.3,407.9L406.0,405.9L406.6,404.0L407.2,402.1L407.8,400.2L408.5,398.3L409.1,396.4L409.8,394.5L410.4,392.6L411.1,390.8L411.8,388.9L412.5,387.0L413.2,385.1L413.9,383.3L414.6,381.4L415.3,379.6L416.0,377.7L416.8,375.9L417.6,374.0L418.3,372.2L419.1,370.4L419.9,368.6L420.8,366.8L421.6,365.0L422.5,363.2L423.4,361.4L424.3,359.6L425.2,357.8L426.1,356.0L427.0,354.2L428.0,352.5L429.0,350.7L429.9,349.0L430.9,347.2L431.9,345.4L432.9,343.7L433.9,342.0L434.7,340.6"/>
<path stroke="#000000" stroke-width="6" d="M372.0,480.0L372.5,478.1L372.9,476.1L373.4,474.2L373.9,472.2L374.4,470.3L374.8,468.3L375.3,466.4L375.8,464.5L376.3,462.5L376.8,460.6L377.3,458.6L377.8,456.7L378.4,454.8L378.9,452.8L379.4,450.9L379.9,449.0L380.4,447.1L381.0,445.1L381.5,443.2L382.0,441.3L382.6,439.3L383.1,437.4L383.7,435.5L384.2,433.6L384.7,431.6L385.3,429.7L385.8,427.8L386.4,425.9L387.0,424.0L387.5,422.0L388.1,420.1L388.7,418.2L389.3,416.3L389.9,414.4L390.5,412.5L391.1,410.6L391.7,408.7L392.3,406.8L392.9,404.9L393.5,403.0L394.2,401.0L394.8,399.1L395.4,397.2L396.0,395.2L396.6,393.3L397.2,391.4L397.9,389.5L398.5,387.6L399.2,385.7L399.9,383.8L400.6,381.9L401.3,380.1L402.1,378.2L402.9,376.4L403.7,374.7L404.5,372.9L405.5,371.2L406.4,369.5L407.5,367.8L408.7,366.2L409.8,364.6L411.1,363.0L412.3,361.4L413.6,359.9L414.9,358.3L416.2,356.7L417.4,355.1L418.6,353.5L419.8,351.9L421.0,350.2L422.1,348.6L423.2,346.9L424.3,345.3L425.4,343.6L426.5,341.9L427.6,340.2L428.7,338.5L429.8,336.9L431.0,335.2L432.1,333.6L433.2,331.9L434.4,330.3L435.6,328.7L436.9,327.2L438.1,325.6L439.4,324.1L440.7,322.6L442.0,321.1L443.4,319.7L444.8,318.2L446.2,316.8L447.6,315.4L449.0,313.9L450.0,313.0"/>
<path stroke="#ff0000" stroke-width="8" d="M257.5,1282.0L295.0,1282.0L295.1,1280.0L295.2,1278.0L295.4,1276.0L295.5,1274.0L295.6,1272.0L295.7,1270.0L295.9,1268.0L296.0,1266.0L296.1,1264.0L296.2,1262.0L296.4,1260.0L296.5,1258.0L296.6,1256.1L296.7,1254.1L296.9,1252.1L297.0,1250.1L297.1,1248.1L297.2,1246.1L297.4,1244.1L297.5,1242.1L297.6,1240.1L297.8,1238.1L297.9,1236.1L298.0,1234.1L298.1,1232.1L298.3,1230.1L298.4,1228.1L298.5,1226.1L298.6,1224.1L298.8,1222.1L298.9,1220.1L299.0,1218.1L299.1,1216.1L299.3,1214.1L299.4,1212.1L299.5,1210.1L299.6,1208.1L299.8,1206.1L299.9,1204.2L300.0,1202.2L300.1,1200.2L300.3,1198.2L300.4,1196.2L300.5,1194.2L300.6,1192.2L300.8,1190.2L300.9,1188.2L301.0,1186.2L301.1,1184.2L301.3,1182.2L301.4,1180.2L301.5,1178.2L301.6,1176.2L301.8,1174.2L301.9,1172.2L302.0,1170.2L302.1,1168.2L302.3,1166.2L302.4,1164.2L302.5,1162.2L302.7,1160.2L302.8,1158.2L302.9,1156.2L303.1,1154.2L303.2,1152.3L303.3,1150.3L303.4,1148.3L303.6,1146.3L303.7,1144.3L303.8,1142.3L304.0,1140.3L304.1,1138.3L304.2,1136.3L304.4,1134.3L304.5,1132.3L304.7,1130.3L304.8,1128.3L304.9,1126.3L305.1,1124.3L305.2,1122.3L305.3,1120.3L305.5,1118.3L305.6,1116.3L305.8,1114.3L305.9,1112.3L306.0,1110.4L306.2,1108.4L306.3,1106.4L306.5,1104.4L306.6,1102.4L306.8,1100.4L306.9,1098.4L307.1,1096.4L307.2,1094.4L307.4,1092.4L307.5,1090.4L307.7,1088.4L307.8,1086.4L308.0,1084.4L308.1,1082.4L308.3,1080.4L308.4,1078.4L308.6,1076.5L308.7,1074.5L308.9,1072.5L309.0,1070.5L309.2,1068.5L309.3,1066.5L309.5,1064.5L309.6,1062.5L309.8,1060.5L310.0,1058.5L310.1,1056.5L310.3,1054.5L310.4,1052.5L310.6,1050.5L310.8,1048.5L310.9,1046.5L311.1,1044.5L311.2,1042.6L311.4,1040.6L311.6,1038.6L311.7,1036.6L311.9,1034.6L312.0,1032.6L312.2,1030.6L312.4,1028.6L312.5,1026.6L312.7,1024.6L312.9,1022.6L313.0,1020.6L313.2,1018.6L313.4,1016.6L313.5,1014.6L313.7,1012.7L313.9,1010.7L314.0,1008.7L314.2,1006.7L314.4,1004.7L314.5,1002.7L314.7,1000.7L314.9,998.7L315.1,996.7L315.2,994.7L315.4,992.7L315.6,990.7L315.7,988.7L315.9,986.7L316.1,984.8L316.3,982.8L316.4,980.8L316.6,978.8L316.8,976.8L317.0,974.8L317.1,972.8L317.3,970.8L317.5,968.8L317.7,966.8L317.9,964.8L318.0,962.8L318.2,960.8L318.4,958.9L318.6,956.9L318.8,954.9L318.9,952.9L319.1,950.9L319.3,948.9L319.5,946.9L319.7,944.9L319.9,942.9L320.0,940.9L320.2,938.9L320.4,936.9L320.6,935.0L320.8,933.0L321.0,931.0L321.1,929.0L321.3,927.0L321.5,925.0L321.7,923.0L321.9,921.0L322.1,919.0L322.3,917.0L322.5,915.0L322.6,913.0L322.8,911.1L323.0,909.1L323.2,907.1L323.4,905.1L323.6,903.1L323.8,901.1L324.0,899.1L324.2,897.1L324.4,895.1L324.6,893.1L324.8,891.2L325.0,889.2L325.1,887.2L325.3,885.2L325.5,883.2L325.7,881.2L325.9,879.2L326.1,877.2L326.3,875.2L326.5,873.2L326.7,871.2L326.9,869.3L327.1,867.3L327.3,865.3L327.5,863.3L327.7,861.3L327.9,859.3L328.1,857.3L328.3,855.3L328.5,853.3L328.7,851.3L328.9,849.4L329.1,847.4L329.3,845.4L329.5,843.4L329.7,841.4L329.9,839.4L330.1,837.4L330.3,835.4L330.5,833.4L330.7,831.4L330.9,829.5L331.1,827.5L331.3,825.5L331.6,823.5L331.8,821.5L332.0,819.5L332.2,817.5L332.4,815.5L332.6,813.5L332.8,811.5L333.0,809.6L333.2,807.6L333.5,805.6L333.7,803.6L333.9,801.6L334.1,799.6L334.3,797.6L334.5,795.6L334.8,793.6L335.0,791.7L335.2,789.7L335.4,787.7L335.6,785.7L335.9,783.7L336.1,781.7L336.3,779.7L336.5,777.7L336.8,775.7L337.0,773.8L337.2,771.8L337.4,769.8L337.7,767.8L337.9,765.8L338.1,763.8L338.4,761.8L338.6,759.9L338.8,757.9L339.1,755.9L339.3,753.9L339.5,751.9L339.8,749.9L340.0,747.9L340.2,746.0L340.5,744.0L340.7,742.0L341.0,740.0L341.2,738.0L341.5,736.0L341.7,734.0L342.0,732.1L342.2,730.1L342.5,728.1L342.7,726.1L343.0,724.1L343.2,722.1L343.5,720.2L343.7,718.2L344.0,716.2L344.2,714.2L344.5,712.2L344.7,710.2L345.0,708.3L345.3,706.3L345.5,704.3L345.8,702.3L346.1,700.3L346.3,698.4L346.6,696.4L346.9,694.4L347.2,692.4L347.4,690.4L347.7,688.5L348.0,686.5L348.3,684.5L348.6,682.5L349.0,680.6L349.3,678.6L349.6,676.6L349.9,674.6L350.2,672.7L350.5,670.7L350.9,668.7L351.2,666.7L351.5,664.8L351.8,662.8L352.1,660.8L352.5,658.8L352.8,656.9L353.1,654.9L353.4,652.9L353.8,650.9L354.1,649.0L354.4,647.0L354.7,645.0L355.0,643.0L355.3,641.1L355.6,639.1L356.0,637.1L356.3,635.1L356.6,633.2L356.9,631.2L357.2,629.2L357.5,627.2L357.8,625.3L358.2,623.3L358.5,621.3L358.8,619.3L359.1,617.3L359.4,615.4L359.7,613.4L360.0,611.4L360.4,609.4L360.7,607.5L361.0,605.5L361.3,603.5L361.6,601.5L361.9,599.6L362.3,597.6L362.6,595.6L362.9,593.6L363.2,591.7L363.6,589.7L363.9,587.7L364.2,585.8L364.5,583.8L364.9,581.8L365.2,579.8L365.5,577.9L365.9,575.9L366.2,573.9L366.6,571.9L366.9,570.0L367.2,568.0L367.6,566.0L367.9,564.1L368.3,562.1L368.6,560.1L369.0,558.2L369.3,556.2L369.7,554.2L370.0,552.3L370.4,550.3L370.8,548.3L371.1,546.4L371.5,544.4L371.9,542.4L372.3,540.5L372.6,538.5L373.0,536.5L373.4,534.6L373.8,532.6L374.2,530.7L374.5,528.7L374.9,526.7L375.3,524.8L375.7,522.8L376.1,520.8L376.5,518.9L376.9,516.9L377.3,515.0L377.7,513.0L378.1,511.0L378.5,509.1L379.0,507.1L379.4,505.2L379.8,503.2L380.2,501.3L380.6,499.3L381.1,497.3L381.5,495.4L381.9,493.4L382.4,491.5L382.8,489.5L383.2,487.6L383.7,485.6L384.1,483.7L384.6,481.7L385.1,479.8L385.5,477.8L386.0,475.9L386.4,474.0L386.9,472.0L387.4,470.1L387.9,468.1L388.3,466.2L388.8,464.3L389.3,462.3L389.8,460.4L390.4,458.5L390.9,456.5L391.4,454.6L391.9,452.7L392.5,450.7L393.0,448.8L393.5,446.9L394.1,445.0L394.6,443.0L395.2,441.1L395.8,439.2L396.3,437.3L396.9,435.4L397.5,433.4L398.0,431.5L398.6,429.6L399.2,427.7L399.8,425.8L400.4,423.9L401.0,422.0L401.7,420.1L402.3,418.2L402.9,416.3L403.6,414.4L404.2,412.5L404.8,410.6L405.4,408.7L406.0,406.8L406.6,404.9L407.1,402.9L407.7,401.0L408.3,399.1L408.8,397.2L409.4,395.3L410.0,393.4L410.6,391.5L411.3,389.6L412.0,387.7L412.7,385.8L413.4,384.0L414.2,382.1L414.9,380.2L415.7,378.4L416.5,376.6L417.3,374.7L418.1,372.9L418.9,371.1L419.7,369.2L420.5,367.4L421.4,365.6L422.3,363.8L423.1,362.0L424.0,360.2L424.9,358.4L425.8,356.7L426.7,354.9L427.7,353.1L428.6,351.3L429.5,349.6L430.5,347.8L431.5,346.0L432.5,344.3L433.5,342.6L434.5,340.9L435.6,339.2L436.7,337.5L437.8,335.9L439.0,334.3L440.2,332.6L441.3,331.0L442.5,329.4L443.7,327.8L444.9,326.2L446.0,324.5L447.2,322.9L448.3,321.3L449.5,319.6L450.6,318.0L451.8,316.3L452.9,314.7L454.1,313.1L455.3,311.5L456.5,309.9L457.7,308.3L459.0,306.8L460.3,305.2L461.5,303.7L462.8,302.1L464.2,300.6L465.5,299.1L466.9,297.7L468.3,296.2L469.7,294.8L471.1,293.5L472.6,292.1L474.0,290.7L475.5,289.4L477.1,288.1L478.6,286.8L480.2,285.6L481.8,284.3L483.4,283.1L485.0,281.9L486.6,280.8L488.2,279.7L489.9,278.5L491.6,277.5L493.3,276.4L495.0,275.3L496.7,274.3L498.5,273.3L500.2,272.3L502.0,271.4L503.8,270.6L505.6,269.7L507.4,268.9L509.2,268.1L511.1,267.4L513.0,266.6L514.8,265.9L516.7,265.1L518.6,264.5L520.5,263.8L522.4,263.2L524.3,262.6L526.2,262.0L528.2,261.5L530.1,261.0L532.0,260.5L534.0,260.1L535.9,259.6L537.9,259.2L539.8,258.8L541.8,258.5L543.8,258.1L545.7,257.7L547.7,257.4L549.7,257.1L551.7,256.7L553.7,256.4L555.6,256.1L557.6,255.8L559.6,255.6L561.6,255.3L563.6,255.0L565.5,254.7L567.5,254.5L569.5,254.2L571.5,253.9L573.5,253.7L575.4,253.4L577.4,253.2L579.4,253.0L581.4,252.7L583.4,252.5L585.4,252.3L587.4,252.0L589.3,251.8L591.3,251.6L593.3,251.4L595.3,251.2L597.3,250.9L599.3,250.7L601.3,250.5L603.3,250.3L605.3,250.1L607.3,249.9L609.3,249.7L611.2,249.5L613.2,249.3L615.2,249.2L617.2,249.0L619.2,248.8L621.2,248.6L623.2,248.4L625.2,248.2L627.2,248.1L629.2,247.9L631.2,247.7L633.2,247.5L635.2,247.3L637.1,247.2L639.1,247.0L641.1,246.8L643.1,246.7L645.1,246.5L647.1,246.4L649.1,246.2L651.1,246.0L653.1,245.9L655.1,245.7L657.1,245.6L659.1,245.4L661.1,245.3L663.1,245.1L665.1,245.0L667.1,244.8L669.0,244.7L671.0,244.5L673.0,244.4L675.0,244.3L677.0,244.1L679.0,244.0L681.0,243.8L683.0,243.7L685.0,243.5L687.0,243.4L689.0,243.3L691.0,243.1L693.0,243.0L695.0,242.9L697.0,242.7L699.0,242.6L701.0,242.4L703.0,242.3L705.0,242.2L707.0,242.0L709.0,241.9L710.9,241.7L712.9,241.6L714.9,241.5L716.9,241.3L718.9,241.2L720.9,241.0L722.9,240.9L724.9,240.8L726.9,240.6L728.9,240.5L730.9,240.3L732.9,240.2L734.9,240.1L736.9,239.9L738.9,239.8L740.9,239.7L742.9,239.5L744.9,239.4L746.9,239.3L748.9,239.1L750.9,239.0L752.9,238.9L754.8,238.8L756.8,238.6L758.8,238.5L760.8,238.4L762.8,238.3L764.8,238.1L766.8,238.0L768.8,237.9L770.8,237.8L772.8,237.7L774.8,237.6L776.8,237.5L778.8,237.4L780.8,237.3L782.8,237.2L784.8,237.1L786.8,237.0L788.8,236.8L790.8,236.7L792.8,236.7L794.8,236.6L796.8,236.5L798.8,236.4L800.8,236.3L802.8,236.2L804.8,236.1L806.8,236.0L808.8,235.9L810.8,235.8L812.8,235.7L814.8,235.6L816.8,235.5L818.8,235.4L820.8,235.4L822.8,235.3L824.8,235.2L826.8,235.1L828.8,235.0L830.7,234.9L832.7,234.8L834.7,234.8L836.7,234.7L838.7,234.6L840.7,234.5L842.7,234.4L844.7,234.4L846.7,234.3L848.7,234.2L850.7,234.1L852.7,234.1L854.7,234.0L856.7,233.9L858.7,233.8L860.7,233.8L862.7,233.7L864.7,233.6L866.7,233.6L868.7,233.5L870.7,233.4L872.7,233.4L874.7,233.3L876.7,233.2L878.7,233.1L880.7,233.1L882.7,233.0L884.7,232.9L886.7,232.9L888.7,232.8L890.7,232.8L892.7,232.7L894.7,232.6L896.7,232.6L898.7,232.5L900.7,232.4L902.7,232.4L904.7,232.3L906.7,232.3L908.7,232.2L910.7,232.1L912.7,232.1L914.7,232.0L916.7,232.0L918.7,231.9L920.7,231.9L922.7,231.8L924.7,231.8L926.7,231.7L928.7,231.7L930.7,231.6L932.7,231.6L934.7,231.5L935.0,231.5"/>
<path stroke="#ff0000" stroke-width="9.5" d="M257.5,1220.7L322.0,1220.7L322.1,1218.7L322.2,1216.7L322.3,1214.7L322.4,1212.7L322.5,1210.7L322.6,1208.7L322.7,1206.7L322.8,1204.7L322.9,1202.7L323.0,1200.7L323.1,1198.7L323.2,1196.7L323.3,1194.7L323.4,1192.7L323.5,1190.7L323.6,1188.7L323.7,1186.7L323.8,1184.7L323.9,1182.7L323.9,1180.7L324.0,1178.7L324.1,1176.8L324.2,1174.8L324.3,1172.8L324.4,1170.8L324.5,1168.8L324.6,1166.8L324.7,1164.8L324.8,1162.8L324.9,1160.8L325.0,1158.8L325.1,1156.8L325.2,1154.8L325.3,1152.8L325.4,1150.8L325.4,1148.8L325.5,1146.8L325.6,1144.8L325.7,1142.8L325.8,1140.8L325.9,1138.8L326.0,1136.8L326.1,1134.8L326.2,1132.8L326.3,1130.8L326.4,1128.8L326.5,1126.8L326.6,1124.8L326.7,1122.8L326.8,1120.8L326.9,1118.8L327.0,1116.8L327.1,1114.8L327.3,1112.8L327.4,1110.8L327.5,1108.8L327.6,1106.8L327.7,1104.8L327.8,1102.8L327.9,1100.8L328.1,1098.9L328.2,1096.9L328.3,1094.9L328.4,1092.9L328.6,1090.9L328.7,1088.9L328.8,1086.9L328.9,1084.9L329.1,1082.9L329.2,1080.9L329.3,1078.9L329.5,1076.9L329.6,1074.9L329.7,1072.9L329.9,1070.9L330.0,1068.9L330.2,1066.9L330.3,1064.9L330.4,1062.9L330.6,1060.9L330.7,1058.9L330.9,1056.9L331.0,1055.0L331.2,1053.0L331.3,1051.0L331.4,1049.0L331.6,1047.0L331.7,1045.0L331.9,1043.0L332.0,1041.0L332.2,1039.0L332.3,1037.0L332.5,1035.0L332.7,1033.0L332.8,1031.0L333.0,1029.0L333.1,1027.0L333.3,1025.0L333.4,1023.0L333.6,1021.0L333.8,1019.1L333.9,1017.1L334.1,1015.1L334.3,1013.1L334.4,1011.1L334.6,1009.1L334.7,1007.1L334.9,1005.1L335.1,1003.1L335.2,1001.1L335.4,999.1L335.6,997.1L335.8,995.1L335.9,993.1L336.1,991.1L336.3,989.1L336.4,987.2L336.6,985.2L336.8,983.2L337.0,981.2L337.1,979.2L337.3,977.2L337.5,975.2L337.7,973.2L337.9,971.2L338.0,969.2L338.2,967.2L338.4,965.2L338.6,963.2L338.8,961.3L338.9,959.3L339.1,957.3L339.3,955.3L339.5,953.3L339.7,951.3L339.9,949.3L340.0,947.3L340.2,945.3L340.4,943.3L340.6,941.3L340.8,939.3L341.0,937.4L341.2,935.4L341.4,933.4L341.5,931.4L341.7,929.4L341.9,927.4L342.1,925.4L342.3,923.4L342.5,921.4L342.7,919.4L342.9,917.4L343.1,915.5L343.3,913.5L343.5,911.5L343.7,909.5L343.9,907.5L344.1,905.5L344.3,903.5L344.4,901.5L344.6,899.5L344.8,897.6L345.0,895.6L345.2,893.6L345.4,891.6L345.6,889.6L345.8,887.6L346.0,885.6L346.3,883.6L346.5,881.6L346.7,879.6L346.9,877.7L347.1,875.7L347.3,873.7L347.5,871.7L347.7,869.7L347.9,867.7L348.1,865.7L348.3,863.7L348.6,861.7L348.8,859.8L349.0,857.8L349.2,855.8L349.4,853.8L349.6,851.8L349.9,849.8L350.1,847.8L350.3,845.8L350.5,843.9L350.7,841.9L351.0,839.9L351.2,837.9L351.4,835.9L351.7,833.9L351.9,831.9L352.1,829.9L352.3,828.0L352.6,826.0L352.8,824.0L353.0,822.0L353.3,820.0L353.5,818.0L353.7,816.0L354.0,814.0L354.2,812.1L354.4,810.1L354.7,808.1L354.9,806.1L355.2,804.1L355.4,802.1L355.6,800.1L355.9,798.2L356.1,796.2L356.4,794.2L356.6,792.2L356.9,790.2L357.1,788.2L357.4,786.2L357.6,784.3L357.9,782.3L358.1,780.3L358.4,778.3L358.6,776.3L358.9,774.3L359.1,772.3L359.4,770.4L359.6,768.4L359.9,766.4L360.2,764.4L360.4,762.4L360.7,760.4L360.9,758.5L361.2,756.5L361.5,754.5L361.7,752.5L362.0,750.5L362.3,748.5L362.5,746.6L362.8,744.6L363.1,742.6L363.3,740.6L363.6,738.6L363.9,736.6L364.1,734.7L364.4,732.7L364.7,730.7L364.9,728.7L365.2,726.7L365.5,724.8L365.8,722.8L366.0,720.8L366.3,718.8L366.6,716.8L366.9,714.9L367.2,712.9L367.4,710.9L367.7,708.9L368.0,706.9L368.3,705.0L368.6,703.0L368.9,701.0L369.1,699.0L369.4,697.1L369.7,695.1L370.0,693.1L370.3,691.1L370.6,689.1L370.9,687.2L371.3,685.2L371.6,683.2L371.9,681.2L372.2,679.3L372.5,677.3L372.9,675.3L373.2,673.4L373.5,671.4L373.9,669.4L374.2,667.4L374.5,665.5L374.9,663.5L375.2,661.5L375.6,659.5L375.9,657.6L376.2,655.6L376.6,653.6L376.9,651.7L377.3,649.7L377.6,647.7L377.9,645.8L378.3,643.8L378.6,641.8L379.0,639.8L379.3,637.9L379.6,635.9L380.0,633.9L380.3,632.0L380.7,630.0L381.0,628.0L381.3,626.0L381.7,624.1L382.0,622.1L382.4,620.1L382.7,618.2L383.1,616.2L383.4,614.2L383.8,612.2L384.1,610.3L384.4,608.3L384.8,606.3L385.1,604.4L385.5,602.4L385.8,600.4L386.2,598.5L386.6,596.5L386.9,594.5L387.3,592.5L387.6,590.6L388.0,588.6L388.3,586.6L388.7,584.7L389.0,582.7L389.4,580.7L389.8,578.8L390.1,576.8L390.5,574.8L390.9,572.9L391.2,570.9L391.6,568.9L392.0,567.0L392.3,565.0L392.7,563.0L393.1,561.1L393.5,559.1L393.8,557.1L394.2,555.2L394.6,553.2L395.0,551.3L395.3,549.3L395.7,547.3L396.1,545.4L396.5,543.4L396.9,541.4L397.3,539.5L397.7,537.5L398.1,535.6L398.4,533.6L398.8,531.6L399.2,529.7L399.6,527.7L400.0,525.8L400.4,523.8L400.8,521.9L401.3,519.9L401.7,517.9L402.1,516.0L402.5,514.0L402.9,512.1L403.3,510.1L403.7,508.2L404.2,506.2L404.6,504.3L405.0,502.3L405.4,500.3L405.9,498.4L406.3,496.4L406.7,494.5L407.2,492.5L407.6,490.6L408.0,488.6L408.5,486.7L408.9,484.7L409.4,482.8L409.8,480.8L410.3,478.9L410.7,476.9L411.2,475.0L411.6,473.0L412.1,471.1L412.5,469.1L413.0,467.2L413.4,465.2L413.9,463.3L414.4,461.3L414.8,459.4L415.3,457.4L415.8,455.5L416.2,453.6L416.7,451.6L417.2,449.7L417.7,447.7L418.1,445.8L418.6,443.8L419.1,441.9L419.6,440.0L420.1,438.0L420.6,436.1L421.0,434.1L421.5,432.2L422.0,430.3L422.5,428.3L423.0,426.4L423.5,424.5L424.0,422.5L424.5,420.6L425.0,418.6L425.6,416.7L426.1,414.8L426.7,412.9L427.2,410.9L427.8,409.0L428.4,407.1L429.0,405.2L429.7,403.3L430.3,401.4L431.0,399.5L431.7,397.7L432.4,395.8L433.2,393.9L433.9,392.1L434.8,390.3L435.6,388.5L436.5,386.7L437.5,385.0L438.4,383.2L439.4,381.5L440.5,379.7L441.5,378.0L442.5,376.3L443.5,374.6L444.5,372.8L445.6,371.1L446.6,369.4L447.7,367.8L448.8,366.1L449.9,364.4L451.0,362.7L452.0,361.0L453.1,359.3L454.1,357.6L455.0,355.8L456.0,354.1L456.9,352.3L457.9,350.5L458.8,348.8L459.7,347.0L460.6,345.2L461.5,343.4L462.5,341.6L463.4,339.9L464.3,338.1L465.3,336.4L466.2,334.6L467.2,332.8L468.1,331.1L469.1,329.3L470.0,327.5L470.9,325.8L471.8,324.0L472.7,322.2L473.5,320.4L474.4,318.5L475.2,316.7L475.5,316.0L476.5,313.6L483.0,311.0L494.6,298.4L503.1,290.0L511.3,285.6L560.0,283.5L599.0,282.0L624.0,264.0L648.0,254.4L650.0,254.1L652.0,253.8L653.9,253.5L655.9,253.3L657.9,253.0L659.9,252.7L661.9,252.4L663.9,252.1L665.9,251.9L667.8,251.6L669.8,251.4L671.8,251.2L673.8,251.0L675.8,250.8L677.8,250.7L679.8,250.5L681.8,250.4L683.7,250.3L685.7,250.2L687.7,250.0L689.7,249.9L691.7,249.8L693.7,249.7L695.7,249.6L697.7,249.5L699.7,249.4L701.7,249.3L703.7,249.2L705.7,249.1L707.7,249.0L709.7,248.9L711.7,248.8L713.7,248.8L715.7,248.7L717.7,248.6L719.7,248.5L721.7,248.4L723.7,248.3L725.7,248.3L727.7,248.2L729.7,248.1L731.7,248.1L733.7,248.0L735.7,247.9L737.7,247.8L739.7,247.8L741.7,247.7L743.7,247.7L745.7,247.6L747.7,247.5L749.7,247.5L751.7,247.4L753.7,247.4L755.7,247.3L757.7,247.3L759.7,247.2L761.7,247.2L763.7,247.1L765.7,247.1L767.7,247.0L769.7,247.0L771.7,246.9L773.7,246.9L775.7,246.8L777.7,246.8L779.7,246.7L781.7,246.7L783.7,246.7L785.7,246.6L787.7,246.6L789.7,246.5L791.7,246.5L793.7,246.5L795.7,246.4L797.7,246.4L799.7,246.4L801.7,246.3L803.7,246.3L805.7,246.3L807.7,246.2L809.7,246.2L811.7,246.2L813.7,246.2L815.7,246.1L817.7,246.1L819.7,246.1L821.7,246.1L823.7,246.0L825.7,246.0L827.7,246.0L829.7,246.0L831.7,245.9L833.7,245.9L835.7,245.9L837.7,245.9L839.7,245.9L841.7,245.8L843.7,245.8L845.7,245.8L847.7,245.8L849.7,245.7L851.7,245.7L853.7,245.7L855.7,245.7L857.7,245.6L859.7,245.6L861.7,245.6L863.7,245.6L865.7,245.5L867.7,245.5L869.7,245.5L871.7,245.4L873.7,245.4L875.7,245.4L877.7,245.4L879.7,245.3L881.7,245.3L883.7,245.3L885.7,245.2L887.7,245.2L889.7,245.2L891.7,245.1L893.7,245.1L895.7,245.1L897.7,245.0L899.7,245.0L900.0,245.0"/>
<path stroke="#ff0000" stroke-width="7.5" d="M295.0,1282.0L295.1,1280.0L295.2,1278.0L295.4,1276.0L295.5,1274.0L295.6,1272.0L295.7,1270.0L295.9,1268.0L296.0,1266.0L296.1,1264.0L296.2,1262.0L296.4,1260.0L296.5,1258.0L296.6,1256.1L296.7,1254.1L296.9,1252.1L297.0,1250.1L297.1,1248.1L297.2,1246.1L297.4,1244.1L297.5,1242.1L297.6,1240.1L297.8,1238.1L297.9,1236.1L298.0,1234.1L298.1,1232.1L298.3,1230.1L298.4,1228.1L298.5,1226.1L298.6,1224.1L298.8,1222.1L298.9,1220.1L299.0,1218.1L299.1,1216.1L299.3,1214.1L299.4,1212.1L299.5,1210.1L299.6,1208.1L299.8,1206.1L299.9,1204.2L300.0,1202.2L300.1,1200.2L300.3,1198.2L300.4,1196.2L300.5,1194.2L300.6,1192.2L300.8,1190.2L300.9,1188.2L301.0,1186.2L301.1,1184.2L301.3,1182.2L301.4,1180.2L301.5,1178.2L301.6,1176.2L301.8,1174.2L301.9,1172.2L302.0,1170.2L302.1,1168.2L302.3,1166.2L302.4,1164.2L302.5,1162.2L302.7,1160.2L302.8,1158.2L302.9,1156.2L303.1,1154.2L303.2,1152.3L303.3,1150.3L303.4,1148.3L303.6,1146.3L303.7,1144.3L303.8,1142.3L304.0,1140.3L304.1,1138.3L304.2,1136.3L304.4,1134.3L304.5,1132.3L304.7,1130.3L304.8,1128.3L304.9,1126.3L305.1,1124.3L305.2,1122.3L305.3,1120.3L305.5,1118.3L305.6,1116.3L305.8,1114.3L305.9,1112.3L306.0,1110.4L306.2,1108.4L306.3,1106.4L306.5,1104.4L306.6,1102.4L306.8,1100.4L306.9,1098.4L307.1,1096.4L307.2,1094.4L307.4,1092.4L307.5,1090.4L307.7,1088.4L307.8,1086.4L308.0,1084.4L308.1,1082.4L308.3,1080.4L308.4,1078.4L308.6,1076.5L308.7,1074.5L308.9,1072.5L309.0,1070.5L309.2,1068.5L309.3,1066.5L309.5,1064.5L309.6,1062.5L309.8,1060.5L310.0,1058.5L310.1,1056.5L310.3,1054.5L310.4,1052.5L310.6,1050.5L310.8,1048.5L310.9,1046.5L311.1,1044.5L311.2,1042.6L311.4,1040.6L311.6,1038.6L311.7,1036.6L311.9,1034.6L312.0,1032.6L312.2,1030.6L312.4,1028.6L312.5,1026.6L312.7,1024.6L312.9,1022.6L313.0,1020.6L313.2,1018.6L313.4,1016.6L313.5,1014.6L313.7,1012.7L313.9,1010.7L314.0,1008.7L314.2,1006.7L314.4,1004.7L314.5,1002.7L314.7,1000.7L314.9,998.7L315.1,996.7L315.2,994.7L315.4,992.7L315.6,990.7L315.7,988.7L315.9,986.7L316.1,984.8L316.3,982.8L316.4,980.8L316.6,978.8L316.8,976.8L317.0,974.8L317.1,972.8L317.3,970.8L317.5,968.8L317.7,966.8L317.9,964.8L318.0,962.8L318.2,960.8L318.4,958.9L318.6,956.9L318.8,954.9L318.9,952.9L319.1,950.9L319.3,948.9L319.5,946.9L319.7,944.9L319.9,942.9L320.0,940.9L320.2,938.9L320.4,936.9L320.6,935.0L320.8,933.0L321.0,931.0L321.1,929.0L321.3,927.0L321.5,925.0L321.7,923.0L321.9,921.0L322.1,919.0L322.3,917.0L322.5,915.0L322.6,913.0L322.8,911.1L323.0,909.1L323.2,907.1L323.4,905.1L323.6,903.1L323.8,901.1L324.0,899.1L324.2,897.1L324.4,895.1L324.6,893.1L324.8,891.2L325.0,889.2L325.1,887.2L325.3,885.2L325.5,883.2L325.7,881.2L325.9,879.2L326.1,877.2L326.3,875.2L326.5,873.2L326.7,871.2L326.9,869.3L327.1,867.3L327.3,865.3L327.5,863.3L327.7,861.3L327.9,859.3L328.1,857.3L328.3,855.3L328.5,853.3L328.7,851.3L328.9,849.4L329.1,847.4L329.3,845.4L329.5,843.4L329.7,841.4L329.9,839.4L330.1,837.4L330.3,835.4L330.5,833.4L330.7,831.4L330.9,829.5L331.1,827.5L331.3,825.5L331.6,823.5L331.8,821.5L332.0,819.5L332.2,817.5L332.4,815.5L332.6,813.5L332.8,811.5L333.0,809.6L333.2,807.6L333.5,805.6L333.7,803.6L333.9,801.6L334.1,799.6L334.3,797.6L334.5,795.6L334.8,793.6L335.0,791.7L335.2,789.7L335.4,787.7L335.6,785.7L335.9,783.7L336.1,781.7L336.3,779.7L336.5,777.7L336.8,775.7L337.0,773.8L337.2,771.8L337.4,769.8L337.7,767.8L337.9,765.8L338.1,763.8L338.4,761.8L338.6,759.9L338.8,757.9L339.1,755.9L339.3,753.9L339.5,751.9L339.8,749.9L340.0,747.9L340.2,746.0L340.5,744.0L340.7,742.0L341.0,740.0L341.2,738.0L341.5,736.0L341.7,734.0L342.0,732.1L342.2,730.1L342.5,728.1L342.7,726.1L343.0,724.1L343.2,722.1L343.5,720.2L343.7,718.2L344.0,716.2L344.2,714.2L344.5,712.2L344.7,710.2L345.0,708.3L345.3,706.3L345.5,704.3L345.8,702.3L346.1,700.3L346.3,698.4L346.6,696.4L346.9,694.4L347.2,692.4L347.4,690.4L347.7,688.5L348.0,686.5L348.3,684.5L348.6,682.5L349.0,680.6L349.3,678.6L349.6,676.6L349.9,674.6L350.2,672.7L350.5,670.7L350.9,668.7L351.2,666.7L351.5,664.8L351.8,662.8L352.1,660.8L352.5,658.8L352.8,656.9L353.1,654.9L353.4,652.9L353.8,650.9L354.1,649.0L354.4,647.0L354.7,645.0L355.0,643.0L355.3,641.1L355.6,639.1L356.0,637.1L356.3,635.1L356.6,633.2L356.9,631.2L357.2,629.2L357.5,627.2L357.8,625.3L358.2,623.3L358.5,621.3L358.8,619.3L359.1,617.3L359.4,615.4L359.7,613.4L360.0,611.4L360.4,609.4L360.7,607.5L361.0,605.5L361.3,603.5L361.6,601.5L361.9,599.6L362.3,597.6L362.6,595.6L362.9,593.6L363.2,591.7L363.6,589.7L363.9,587.7L364.2,585.8L364.5,583.8L364.9,581.8L365.2,579.8L365.5,577.9L365.9,575.9L366.2,573.9L366.6,571.9L366.9,570.0L367.2,568.0L367.6,566.0L367.9,564.1L368.3,562.1L368.6,560.1L369.0,558.2L369.3,556.2L369.7,554.2L370.0,552.3L370.4,550.3L370.8,548.3L371.1,546.4L371.5,544.4L371.9,542.4L372.3,540.5L372.6,538.5L373.0,536.5L373.4,534.6L373.8,532.6L374.2,530.7L374.5,528.7L374.9,526.7L375.3,524.8L375.7,522.8L376.1,520.8L376.5,518.9L376.9,516.9L377.3,515.0L377.7,513.0L378.1,511.0L378.5,509.1L379.0,507.1L379.4,505.2L379.8,503.2L380.2,501.3L380.6,499.3L381.1,497.3L381.5,495.4L381.9,493.4L382.4,491.5L382.8,489.5L383.2,487.6L383.7,485.6L384.1,483.7L384.6,481.7L385.1,479.8L385.5,477.8L386.0,475.9L386.4,474.0L386.9,472.0L387.4,470.1L387.9,468.1L388.3,466.2L388.8,464.3L389.3,462.3L389.8,460.4L390.4,458.5L390.9,456.5L391.4,454.6L391.9,452.7L392.5,450.7L393.0,448.8L393.5,446.9L394.1,445.0L394.6,443.0L395.2,441.1L395.8,439.2L396.3,437.3L396.9,435.4L397.5,433.4L398.0,431.5L398.6,429.6L399.2,427.7L399.8,425.8L400.4,423.9L401.0,422.0L401.7,420.1L402.3,418.2L402.9,416.3L403.6,414.4L404.2,412.5L404.8,410.6L405.4,408.7L406.0,406.8L406.6,404.9L407.1,402.9L407.7,401.0L408.3,399.1L408.8,397.2L409.4,395.3L410.0,393.4L410.6,391.5L411.3,389.6L412.0,387.7L412.7,385.8L413.5,384.0L414.2,382.1L415.0,380.3L415.8,378.4L416.5,376.6L417.3,374.7L418.0,372.9L418.8,371.0L419.5,369.2L420.3,367.3L421.1,365.5L421.8,363.6L422.5,361.8L423.3,359.9L424.0,358.0L424.7,356.2L425.4,354.3L426.0,352.4L426.7,350.5L427.3,348.6L428.0,346.7L428.6,344.8L429.2,342.9L429.9,341.0L430.6,339.1L431.3,337.3L431.9,335.4L432.6,333.4L433.3,331.5L433.9,329.6L434.6,327.7L435.2,325.7L435.9,323.8L436.7,322.0L437.4,320.1L438.2,318.3L439.1,316.6L440.0,314.9L441.1,313.3L442.2,311.7L443.5,310.2L444.8,308.6L446.2,307.1L447.6,305.7L449.1,304.3L450.6,302.9L452.0,301.5L453.5,300.1L455.0,298.8L456.5,297.5L458.0,296.3L459.6,295.0L461.2,293.8L462.8,292.6L464.5,291.4L466.1,290.3L467.7,289.1L469.4,287.9L471.0,286.8L472.6,285.7L474.3,284.6L476.0,283.5L477.7,282.4L479.4,281.3L481.1,280.3L482.8,279.3L484.5,278.3L486.3,277.3L488.0,276.3L489.8,275.4L491.6,274.5L493.4,273.6L495.2,272.7L497.0,271.9L498.8,271.0L500.6,270.2L502.5,269.4L504.3,268.6L506.1,267.7L507.9,266.9L509.8,266.1L511.6,265.3L513.5,264.5L515.3,263.7L517.2,263.0L519.0,262.2L520.9,261.5L522.8,260.8L524.7,260.2L526.6,259.5L528.5,258.9L530.4,258.4L532.3,257.9L534.2,257.4L536.1,256.9L538.1,256.4L540.0,255.9L542.0,255.4L543.9,255.0L545.9,254.6L547.9,254.2L549.8,253.8L551.8,253.4L553.8,253.0L555.7,252.7L557.7,252.4L559.7,252.0L561.7,251.7L563.6,251.4L565.6,251.2L567.6,250.9L569.6,250.6L571.5,250.3L573.5,250.0L575.5,249.7L577.5,249.4L579.5,249.2L581.4,248.9L583.4,248.6L585.4,248.4L587.4,248.1L589.4,247.9L591.4,247.6L593.4,247.4L595.4,247.2L597.4,246.9L599.3,246.7L601.3,246.5L603.3,246.3L605.3,246.1L607.3,245.9L609.3,245.7L611.3,245.5L613.3,245.4L615.3,245.2L617.3,245.1L619.3,244.9L621.3,244.8L623.3,244.7L625.3,244.5L627.3,244.4L629.3,244.3L631.3,244.2L633.3,244.2L635.2,244.1L637.2,244.0L639.2,243.9L641.2,243.8L643.2,243.8L645.2,243.7L647.2,243.6L649.2,243.5L651.2,243.5L653.2,243.4L655.2,243.3L657.2,243.3L659.2,243.2L661.2,243.1L663.2,243.1L665.2,243.0L667.2,243.0L669.2,242.9L671.2,242.8L673.2,242.8L675.2,242.7L677.2,242.7L679.2,242.6L681.2,242.6L683.2,242.5L685.2,242.5L687.2,242.4L689.2,242.4L691.2,242.4L693.2,242.3L695.2,242.3L697.2,242.2L699.2,242.2L701.2,242.1L703.2,242.1L705.2,242.1L707.2,242.0L709.2,242.0L711.2,241.9L713.2,241.9L715.2,241.9L717.2,241.8L719.2,241.8L721.2,241.7L723.2,241.7L725.2,241.7L727.2,241.6L729.2,241.6L731.2,241.6L733.2,241.5L735.2,241.5L737.2,241.4L739.2,241.4L741.2,241.4L743.2,241.3L745.2,241.3L747.2,241.2L749.2,241.2L751.2,241.2L753.2,241.1L755.2,241.1L757.2,241.0L759.2,241.0L761.2,241.0L763.2,240.9L765.2,240.9L767.2,240.8L769.2,240.8L771.2,240.7L773.2,240.7L775.2,240.6L777.2,240.6L779.2,240.5L781.2,240.5L783.2,240.4L785.2,240.4L787.2,240.3L789.2,240.3L791.2,240.2L793.2,240.1L795.2,240.1L797.2,240.0L799.2,240.0L801.2,239.9L803.2,239.9L805.2,239.8L807.2,239.8L809.2,239.7L811.2,239.7L813.2,239.6L815.2,239.6L817.2,239.5L819.2,239.4L821.2,239.4L823.2,239.3L825.2,239.3L827.2,239.2L829.2,239.2L831.2,239.1L833.2,239.1L835.2,239.0L837.2,239.0L839.2,238.9L841.2,238.8L843.2,238.8L845.2,238.7L847.2,238.7L849.2,238.6L851.2,238.6L853.2,238.5L855.2,238.5L857.2,238.4L859.2,238.3L861.2,238.3L863.2,238.2L865.2,238.2L867.2,238.1L869.2,238.1L871.2,238.0L873.2,238.0L875.2,237.9L877.2,237.8L879.2,237.8L881.2,237.7L883.2,237.7L885.2,237.6L887.2,237.6L889.2,237.5L891.2,237.5L893.2,237.4L895.2,237.3L897.2,237.3L899.2,237.2L901.2,237.2L903.2,237.1L905.2,237.1L907.0,237.0"/>
<path stroke="#00ff00" stroke-width="5" d="M257.5,1296.2L258.6,1277.2L259.7,1258.4L260.8,1239.9L261.9,1221.7L263.0,1203.9L264.1,1186.6L265.1,1169.8L266.2,1153.2L267.3,1136.9L268.4,1120.7L269.5,1104.7L270.6,1089.0L271.7,1073.4L272.8,1058.1L273.9,1043.0L275.0,1028.2L276.1,1013.6L277.2,999.3L278.2,985.2L279.3,971.4L280.4,957.9L281.5,944.5L282.6,931.2L283.7,918.0L284.8,904.9L285.9,892.0L287.0,879.3L288.1,866.7L289.2,854.3L290.3,842.1L291.3,830.1L292.4,818.4L293.5,806.9L294.6,795.6L295.7,784.6L296.8,773.8L297.9,763.4L299.0,753.2L300.1,743.4L301.2,734.2L302.3,725.4L303.4,716.9L304.4,708.5L305.5,700.1L306.6,691.7L307.7,683.1L308.8,674.6L309.9,666.0L311.0,657.5L312.1,649.0L313.2,640.5L314.3,632.0L315.4,623.7L316.5,615.4L317.5,607.2L318.6,599.1L319.7,591.1L320.8,583.3L321.9,575.6L323.0,568.1L324.1,560.8L325.2,553.5L326.3,546.3L327.4,539.1L328.5,532.0L329.6,524.9L330.6,517.9L331.7,511.0L332.8,504.1L333.9,497.3L335.0,490.6L336.1,484.0L337.2,477.5L338.3,471.1L339.4,464.9L340.5,458.8L341.6,452.9L342.7,447.1L343.7,441.4L344.8,436.0L345.9,430.7L347.0,425.6L348.1,420.7L349.2,415.8L350.3,411.0L351.4,406.2L352.5,401.6L353.6,397.0L354.7,392.5L355.8,388.1L356.8,383.8L357.9,379.6L359.0,375.5L360.1,371.5L361.2,367.6L362.3,363.7L363.4,360.0L364.5,356.4L365.6,353.0L366.7,349.6L367.8,346.4L368.9,343.2L369.9,340.2L371.0,337.3L372.1,334.5L373.2,331.8L374.3,329.1L375.4,326.5L376.5,324.0L377.6,321.5L378.7,319.1L379.8,316.7L380.9,314.4L382.0,312.2L383.0,310.0L384.1,307.9L385.2,305.7L386.3,303.7L387.4,301.6L388.5,299.6L389.6,297.6L390.7,295.6L391.8,293.7L392.9,291.8L394.0,289.8L395.1,287.9L396.1,286.0L397.2,284.2L398.3,282.4L399.4,280.6L400.5,278.8L401.6,277.1L402.7,275.4L403.8,273.7L404.9,272.1L406.0,270.6L407.1,269.1L408.2,267.7L409.2,266.3L410.3,265.0L411.4,263.8L412.5,262.5L413.6,261.4L414.7,260.2L415.8,259.1L416.9,257.9L418.0,256.9L419.1,255.8L420.2,254.7L421.3,253.7L422.3,252.7L423.4,251.7L424.5,250.7L425.6,249.7L426.7,248.8L427.8,247.8L428.9,246.9L430.0,246.0L431.1,245.1L432.2,244.2L433.3,243.4L434.4,242.5L435.4,241.7L436.5,240.9L437.6,240.1L438.7,239.3L439.8,238.5L440.9,237.7L442.0,236.9L443.1,236.2L444.2,235.4L445.3,234.7L446.4,234.0L447.5,233.3L448.5,232.5L449.6,231.8L450.7,231.1L451.8,230.4L452.9,229.7L454.0,229.0L455.1,228.3L456.2,227.6L457.3,227.0L458.4,226.3L459.5,225.7L460.6,225.0L461.6,224.4L462.7,223.8L463.8,223.3L464.9,222.7L466.0,222.2L467.1,221.7L468.2,221.2L469.3,220.8L470.4,220.4L471.5,220.0L472.6,219.6L473.7,219.3L474.7,219.0L475.8,218.6L476.9,218.3L478.0,218.0L479.1,217.6L480.2,217.3L481.3,217.0L482.4,216.7L483.5,216.4L484.6,216.1L485.7,215.8L486.8,215.5L487.8,215.2L488.9,214.9L490.0,214.6L491.1,214.4L492.2,214.1L493.3,213.8L494.4,213.6L495.5,213.3L496.6,213.1L497.7,212.8L498.8,212.6L499.9,212.3L500.9,212.1L502.0,211.8L503.1,211.6L504.2,211.4L505.3,211.2L506.4,210.9L507.5,210.7L508.6,210.5L509.7,210.3L510.8,210.1L511.9,209.9L513.0,209.7L514.0,209.5L515.1,209.3L516.2,209.1L517.3,208.9L518.4,208.8L519.5,208.6L520.6,208.4L521.7,208.2L522.8,208.1L523.9,207.9L525.0,207.8L526.1,207.6L527.1,207.4L528.2,207.3L529.3,207.1L530.4,207.0L531.5,206.9L532.6,206.7L533.7,206.6L534.8,206.5L535.9,206.3L537.0,206.2L538.1,206.1L539.2,205.9L540.3,205.8L541.3,205.7L542.4,205.5L543.5,205.4L544.6,205.3L545.7,205.2L546.8,205.1L547.9,204.9L548.6,204.9"/>
<path stroke="#00ff00" stroke-width="7" d="M257.5,1243.5L270.7,1243.5L271.8,1227.8L272.9,1212.2L273.9,1196.9L275.0,1181.7L276.1,1166.8L277.2,1152.3L278.3,1138.1L279.4,1124.2L280.5,1110.5L281.6,1097.0L282.7,1083.6L283.8,1070.4L284.9,1057.3L286.0,1044.3L287.0,1031.6L288.1,1018.9L289.2,1006.5L290.3,994.3L291.4,982.2L292.5,970.3L293.6,958.6L294.7,947.1L295.8,935.8L296.9,924.7L298.0,913.6L299.1,902.7L300.1,891.8L301.2,881.0L302.3,870.3L303.4,859.8L304.5,849.3L305.6,839.0L306.7,828.8L307.8,818.8L308.9,808.9L310.0,799.2L311.1,789.7L312.2,780.3L313.2,771.2L314.3,762.2L315.4,753.4L316.5,744.9L317.6,736.5L318.7,728.5L319.8,720.8L320.9,713.5L322.0,706.4L323.1,699.5L324.2,692.6L325.3,685.7L326.3,678.7L327.4,671.7L328.5,664.7L329.6,657.6L330.7,650.6L331.8,643.5L332.9,636.5L334.0,629.6L335.1,622.6L336.2,615.8L337.3,608.9L338.4,602.2L339.4,595.5L340.5,588.9L341.6,582.5L342.7,576.1L343.8,569.8L344.9,563.7L346.0,557.7L347.1,551.7L348.2,545.8L349.3,539.9L350.4,534.0L351.5,528.2L352.5,522.4L353.6,516.6L354.7,510.9L355.8,505.3L356.9,499.7L358.0,494.2L359.1,488.7L360.2,483.4L361.3,478.1L362.4,472.9L363.5,467.9L364.6,462.9L365.6,458.0L366.7,453.3L367.8,448.6L368.9,444.1L370.0,439.7L371.1,435.5L372.2,431.4L373.3,427.3L374.4,423.3L375.5,419.4L376.6,415.5L377.7,411.7L378.7,407.9L379.8,404.2L380.9,400.6L382.0,397.0L383.1,393.5L384.2,390.1L385.3,386.7L386.4,383.4L387.5,380.2L388.6,377.1L389.7,374.0L390.8,371.0L391.8,368.1L392.9,365.3L394.0,362.6L395.1,359.9L396.2,357.3L397.3,354.9L398.4,352.5L399.5,350.2L400.6,347.9L401.7,345.7L402.8,343.5L403.9,341.4L404.9,339.3L406.0,337.3L407.1,335.3L408.2,333.4L409.3,331.5L410.4,329.7L411.5,327.9L412.6,326.1L413.7,324.3L414.8,322.6L415.9,320.9L417.0,319.3L418.0,317.6L419.1,316.0L420.2,314.4L421.3,312.8L422.4,311.2L423.5,309.6L424.6,308.0L425.7,306.5L426.8,305.0L427.9,303.4L429.0,301.9L430.1,300.5L431.1,299.0L432.2,297.6L433.3,296.2L434.4,294.8L435.5,293.5L436.6,292.2L437.7,290.9L438.8,289.7L439.9,288.5L441.0,287.4L442.1,286.3L443.2,285.2L444.2,284.2L445.3,283.2L446.4,282.3L447.5,281.3L448.6,280.4L449.7,279.5L450.8,278.6L451.9,277.7L453.0,276.8L454.1,276.0L455.2,275.1L456.3,274.3L457.3,273.5L458.4,272.7L459.5,271.9L460.6,271.1L461.7,270.4L462.8,269.6L463.9,268.9L465.0,268.2L466.1,267.5L467.2,266.7L468.3,266.1L469.4,265.4L470.4,264.7L471.5,264.0L472.6,263.4L473.7,262.7L474.8,262.1L475.9,261.5L477.0,260.8L478.1,260.2L479.2,259.6L480.3,259.0L481.4,258.4L482.5,257.8L483.5,257.2L484.6,256.7L485.7,256.1L486.8,255.5L487.9,255.0L489.0,254.4L490.1,253.8L491.2,253.3L492.3,252.7L493.4,252.2L494.5,251.6L495.6,251.1L496.6,250.6L497.7,250.0L498.8,249.5L499.9,249.0L501.0,248.5L502.1,248.1L503.2,247.6L504.3,247.2L505.4,246.7L506.5,246.3L507.6,246.0L508.7,245.6L509.8,245.3L510.8,244.9L511.9,244.6L513.0,244.4L514.1,244.1L515.2,243.8L516.3,243.6L517.4,243.3L518.5,243.1L519.6,242.8L520.7,242.6L521.8,242.3L522.9,242.1L523.9,241.8L525.0,241.6L526.1,241.4L527.2,241.1L528.3,240.9L529.4,240.7L530.5,240.5L531.6,240.2L532.7,240.0L533.8,239.8L534.9,239.6L536.0,239.4L537.0,239.2L538.1,239.0L539.2,238.8L540.3,238.6L541.4,238.4L542.5,238.2L543.6,238.1L544.7,237.9L545.8,237.7L546.9,237.5L548.0,237.3L549.1,237.2L550.1,237.0L551.2,236.8L552.3,236.7L553.4,236.5L554.5,236.4L555.6,236.2L556.7,236.0L557.8,235.9L558.9,235.8L560.0,235.6L561.1,235.5L562.2,235.3L563.2,235.2L564.3,235.1L565.4,234.9L566.5,234.8L567.6,234.7L568.7,234.5L569.8,234.4L570.9,234.3L572.0,234.2L573.1,234.1L574.2,233.9L575.3,233.8L576.3,233.7L577.4,233.6L578.5,233.5L579.6,233.4L580.7,233.3L581.8,233.2L582.9,233.1L584.0,233.0L585.1,232.9L586.2,232.8L587.3,232.7L588.4,232.7L589.4,232.6L590.5,232.5L591.6,232.4L592.7,232.3L593.8,232.2L594.9,232.1L596.0,232.0L597.1,231.9L598.2,231.9L605.5,231.3L612.7,230.8L620.0,230.3L627.3,229.9L634.6,229.4L641.8,229.0L649.1,228.7L656.4,228.4L663.7,228.1L671.0,227.8L678.2,227.6L685.5,227.4L692.8,227.2L700.1,227.0L707.3,226.8L714.6,226.6L721.9,226.4L729.2,226.2L736.5,226.0L743.7,225.9L751.0,225.7L758.3,225.5L765.6,225.4L767.0,225.4"/>
<path stroke="#00ff00" stroke-width="7" d="M257.5,1243.5L264.2,1243.5L265.3,1227.6L266.3,1211.8L267.4,1196.2L268.5,1180.8L269.6,1165.7L270.7,1150.9L271.8,1136.5L272.9,1122.4L274.0,1108.5L275.1,1094.8L276.2,1081.2L277.3,1067.7L278.4,1054.4L279.4,1041.3L280.5,1028.3L281.6,1015.5L282.7,1002.9L283.8,990.4L284.9,978.1L286.0,966.1L287.1,954.2L288.2,942.5L289.3,931.0L290.4,919.7L291.5,908.5L292.5,897.3L293.6,886.2L294.7,875.3L295.8,864.4L296.9,853.7L298.0,843.1L299.1,832.6L300.2,822.2L301.3,812.0L302.4,802.0L303.5,792.1L304.6,782.4L305.6,772.9L306.7,763.6L307.8,754.4L308.9,745.5L310.0,736.8L311.1,728.3L312.2,720.1L313.3,712.3L314.4,704.9L315.5,697.7L316.6,690.6L317.7,683.6L318.7,676.6L319.8,669.4L320.9,662.3L322.0,655.1L323.1,647.9L324.2,640.8L325.3,633.6L326.4,626.5L327.5,619.4L328.6,612.3L329.7,605.3L330.8,598.4L331.8,591.5L332.9,584.7L334.0,578.0L335.1,571.4L336.2,564.9L337.3,558.5L338.4,552.2L339.5,546.1L340.6,540.0L341.7,534.0L342.8,528.0L343.9,522.0L344.9,516.0L346.0,510.1L347.1,504.2L348.2,498.4L349.3,492.7L350.4,487.0L351.5,481.3L352.6,475.8L353.7,470.3L354.8,464.9L355.9,459.7L357.0,454.5L358.0,449.4L359.1,444.4L360.2,439.6L361.3,434.8L362.4,430.2L363.5,425.7L364.6,421.4L365.7,417.2L366.8,413.1L367.9,409.0L369.0,405.0L370.1,401.0L371.2,397.1L372.2,393.2L373.3,389.5L374.4,385.7L375.5,382.1L376.6,378.5L377.7,375.0L378.8,371.5L379.9,368.2L381.0,364.9L382.1,361.7L383.2,358.5L384.3,355.5L385.3,352.5L386.4,349.6L387.5,346.8L388.6,344.1L389.7,341.5L390.8,338.9L391.9,336.5L393.0,334.1L394.1,331.7L395.2,329.5L396.3,327.2L397.4,325.1L398.4,323.0L399.5,320.9L400.6,318.9L401.7,316.9L402.8,315.0L403.9,313.1L405.0,311.2L406.1,309.4L407.2,307.6L408.3,305.8L409.4,304.0L410.5,302.3L411.5,300.6L412.6,299.0L413.7,297.3L414.8,295.7L415.9,294.0L417.0,292.4L418.1,290.8L419.2,289.2L420.3,287.6L421.4,286.1L422.5,284.5L423.6,283.0L424.6,281.5L425.7,280.0L426.8,278.6L427.9,277.2L429.0,275.8L430.1,274.5L431.2,273.2L432.3,271.9L433.4,270.7L434.5,269.5L435.6,268.3L436.7,267.3L437.7,266.2L438.8,265.2L439.9,264.2L441.0,263.2L442.1,262.3L443.2,261.3L444.3,260.4L445.4,259.5L446.5,258.6L447.6,257.7L448.7,256.8L449.8,256.0L450.8,255.1L451.9,254.3L453.0,253.5L454.1,252.7L455.2,251.9L456.3,251.1L457.4,250.4L458.5,249.6L459.6,248.9L460.7,248.1L461.8,247.4L462.9,246.7L463.9,246.0L465.0,245.3L466.1,244.6L467.2,243.9L468.3,243.3L469.4,242.6L470.5,242.0L471.6,241.3L472.7,240.7L473.8,240.1L474.9,239.4L476.0,238.8L477.0,238.2L478.1,237.6L479.2,237.0L480.3,236.4L481.4,235.8L482.5,235.3L483.6,234.7L484.7,234.1L485.8,233.5L486.9,232.9L488.0,232.4L489.1,231.8L490.1,231.2L491.2,230.7L492.3,230.2L493.4,229.6L494.5,229.1L495.6,228.6L496.7,228.2L497.8,227.7L498.9,227.3L500.0,226.8L501.1,226.4L502.2,226.0L503.2,225.7L504.3,225.3L505.4,225.0L506.5,224.7L507.6,224.5L508.7,224.2L509.8,223.9L510.9,223.6L512.0,223.3L513.1,223.1L514.2,222.8L515.3,222.6L516.3,222.3L517.4,222.0L518.5,221.8L519.6,221.5L520.7,221.3L521.8,221.0L522.9,220.8L524.0,220.6L525.1,220.3L526.2,220.1L527.3,219.9L528.4,219.7L529.4,219.4L530.5,219.2L531.6,219.0L532.7,218.8L533.8,218.6L534.9,218.4L536.0,218.2L537.1,218.0L538.2,217.8L539.3,217.6L540.4,217.4L541.5,217.2L542.5,217.0L543.6,216.8L544.7,216.7L545.8,216.5L546.9,216.3L548.0,216.1L549.1,216.0L550.2,215.8L551.3,215.6L552.4,215.5L553.5,215.3L554.6,215.2L555.6,215.0L556.7,214.9L557.8,214.7L558.9,214.6L560.0,214.4L561.1,214.3L562.2,214.2L563.3,214.0L564.4,213.9L565.5,213.8L566.6,213.6L567.7,213.5L568.7,213.4L569.8,213.3L570.9,213.1L572.0,213.0L573.1,212.9L574.2,212.8L575.3,212.7L576.4,212.6L577.5,212.5L578.6,212.4L579.7,212.3L580.8,212.2L581.8,212.1L582.9,212.0L584.0,211.9L585.0,211.8"/>
<path stroke="#00ff00" stroke-width="7" d="M257.5,1243.5L274.5,1243.5L275.6,1228.3L276.7,1213.3L277.7,1198.5L278.8,1183.9L279.9,1169.5L281.0,1155.4L282.1,1141.6L283.2,1128.2L284.3,1115.0L285.4,1101.9L286.5,1088.9L287.6,1076.1L288.7,1063.4L289.8,1050.9L290.8,1038.5L291.9,1026.3L293.0,1014.2L294.1,1002.3L295.2,990.6L296.3,979.0L297.4,967.6L298.5,956.5L299.6,945.4L300.7,934.6L301.8,923.9L302.9,913.3L303.9,902.7L305.0,892.2L306.1,881.8L307.2,871.5L308.3,861.4L309.4,851.3L310.5,841.4L311.6,831.6L312.7,821.9L313.8,812.4L314.9,803.1L316.0,793.9L317.0,784.9L318.1,776.0L319.2,767.4L320.3,758.9L321.4,750.6L322.5,742.6L323.6,734.8L324.7,727.4L325.8,720.3L326.9,713.4L328.0,706.7L329.1,700.1L330.1,693.4L331.2,686.6L332.3,679.8L333.4,673.0L334.5,666.2L335.6,659.4L336.7,652.6L337.8,645.8L338.9,639.0L340.0,632.3L341.1,625.6L342.2,619.0L343.2,612.4L344.3,605.9L345.4,599.5L346.5,593.2L347.6,587.0L348.7,580.9L349.8,574.8L350.9,568.9L352.0,563.2L353.1,557.4L354.2,551.7L355.3,546.0L356.3,540.3L357.4,534.6L358.5,529.0L359.6,523.5L360.7,517.9L361.8,512.5L362.9,507.1L364.0,501.8L365.1,496.5L366.2,491.3L367.3,486.2L368.4,481.2L369.4,476.3L370.5,471.5L371.6,466.7L372.7,462.1L373.8,457.6L374.9,453.3L376.0,449.0L377.1,444.9L378.2,440.9L379.3,436.9L380.4,433.1L381.5,429.2L382.5,425.4L383.6,421.7L384.7,418.0L385.8,414.4L386.9,410.9L388.0,407.4L389.1,404.0L390.2,400.6L391.3,397.3L392.4,394.1L393.5,390.9L394.6,387.8L395.6,384.8L396.7,381.9L397.8,379.0L398.9,376.2L400.0,373.5L401.1,370.9L402.2,368.4L403.3,365.9L404.4,363.5L405.5,361.2L406.6,359.0L407.7,356.8L408.7,354.6L409.8,352.5L410.9,350.5L412.0,348.5L413.1,346.5L414.2,344.6L415.3,342.7L416.4,340.9L417.5,339.1L418.6,337.3L419.7,335.6L420.8,333.9L421.8,332.2L422.9,330.6L424.0,328.9L425.1,327.3L426.2,325.7L427.3,324.1L428.4,322.6L429.5,321.0L430.6,319.5L431.7,318.0L432.8,316.4L433.9,314.9L434.9,313.5L436.0,312.0L437.1,310.5L438.2,309.1L439.3,307.7L440.4,306.3L441.5,305.0L442.6,303.7L443.7,302.4L444.8,301.1L445.9,299.9L447.0,298.7L448.0,297.6L449.1,296.4L450.2,295.4L451.3,294.4L452.4,293.4L453.5,292.4L454.6,291.5L455.7,290.6L456.8,289.7L457.9,288.8L459.0,287.9L460.1,287.0L461.2,286.2L462.2,285.4L463.3,284.5L464.4,283.7L465.5,282.9L466.6,282.1L467.7,281.4L468.8,280.6L469.9,279.9L471.0,279.1L472.1,278.4L473.2,277.7L474.3,277.0L475.3,276.3L476.4,275.6L477.5,274.9L478.6,274.2L479.7,273.6L480.8,272.9L481.9,272.3L483.0,271.7L484.1,271.0L485.2,270.4L486.3,269.8L487.4,269.2L488.4,268.6L489.5,268.0L490.6,267.4L491.7,266.8L492.8,266.3L493.9,265.7L495.0,265.1L496.1,264.6L497.2,264.0L498.3,263.5L499.4,262.9L500.5,262.4L501.5,261.8L502.6,261.3L503.7,260.7L504.8,260.2L505.9,259.7L507.0,259.2L508.1,258.7L509.2,258.2L510.3,257.7L511.4,257.2L512.5,256.8L513.6,256.3L514.6,255.9L515.7,255.5L516.8,255.1L517.9,254.8L519.0,254.4L520.1,254.1L521.2,253.8L522.3,253.5L523.4,253.3L524.5,253.0L525.6,252.7L526.7,252.5L527.7,252.2L528.8,252.0L529.9,251.7L531.0,251.5L532.1,251.2L533.2,251.0L534.3,250.7L535.4,250.5L536.5,250.3L537.6,250.0L538.7,249.8L539.8,249.6L540.8,249.4L541.9,249.1L543.0,248.9L544.1,248.7L545.2,248.5L546.3,248.3L547.4,248.1L548.5,247.9L549.6,247.7L550.7,247.5L551.8,247.3L552.9,247.1L553.9,246.9L555.0,246.7L556.1,246.5L557.2,246.4L558.3,246.2L559.4,246.0L560.5,245.8L561.6,245.7L562.7,245.5L563.8,245.3L564.9,245.2L566.0,245.0L567.0,244.9L568.1,244.7L569.2,244.6L570.3,244.4L571.4,244.3L572.5,244.1L573.6,244.0L574.7,243.8L575.8,243.7L576.9,243.6L578.0,243.4L579.1,243.3L580.1,243.2L581.2,243.0L582.3,242.9L583.4,242.8L584.5,242.7L585.6,242.6L586.7,242.4L587.8,242.3L588.9,242.2L590.0,242.1L591.1,242.0L592.2,241.9L593.2,241.8L594.3,241.7L595.4,241.6L596.5,241.5L597.6,241.4L598.7,241.3L599.8,241.2L600.9,241.1L602.0,241.0L609.3,240.4L616.5,239.8L623.8,239.3L631.1,238.7L638.4,238.3L645.6,237.8L652.9,237.4L660.2,237.0L667.5,236.6L674.8,236.3L682.0,236.0L689.3,235.8L696.6,235.5L703.9,235.3L711.1,235.0L718.4,234.8L725.7,234.6L733.0,234.3L740.3,234.1L747.5,233.9L754.8,233.7L759.7,233.6"/>
<path stroke="#00ff00" stroke-width="5" d="M257.5,1243.5L258.6,1227.6L259.7,1211.8L260.8,1196.1L261.9,1180.8L263.0,1165.6L264.1,1150.8L265.1,1136.4L266.2,1122.3L267.3,1108.4L268.4,1094.6L269.5,1081.0L270.6,1067.6L271.7,1054.3L272.8,1041.1L273.9,1028.1L275.0,1015.3L276.1,1002.6L277.2,990.2L278.2,977.9L279.3,965.8L280.4,953.8L281.5,942.1L282.6,930.6L283.7,919.3L284.8,908.0L285.9,896.9L287.0,885.8L288.1,874.9L289.2,864.0L290.3,853.3L291.3,842.6L292.4,832.1L293.5,821.7L294.6,811.5L295.7,801.4L296.8,791.5L297.9,781.7L299.0,772.1L300.1,762.7L301.2,753.5L302.3,744.5L303.4,735.7L304.4,727.1L305.5,718.7L306.6,710.7L307.7,703.0L308.8,695.7L309.9,688.5L311.0,681.5L312.1,674.6L313.2,667.6L314.3,660.6L315.4,653.5L316.5,646.4L317.5,639.3L318.6,632.2L319.7,625.1L320.8,618.0L321.9,611.0L323.0,604.0L324.1,597.0L325.2,590.2L326.3,583.3L327.4,576.6L328.5,569.9L329.6,563.4L330.6,556.9L331.7,550.6L332.8,544.4L333.9,538.3L335.0,532.3L336.1,526.3L337.2,520.4L338.3,514.4L339.4,508.5L340.5,502.7L341.6,496.9L342.7,491.1L343.7,485.4L344.8,479.8L345.9,474.2L347.0,468.7L348.1,463.2L349.2,457.9L350.3,452.6L351.4,447.5L352.5,442.4L353.6,437.4L354.7,432.6L355.8,427.8L356.8,423.2L357.9,418.7L359.0,414.4L360.1,410.2L361.2,406.1L362.3,402.0L363.4,398.0L364.5,394.1L365.6,390.2L366.7,386.4L367.8,382.6L368.9,378.9L369.9,375.3L371.0,371.7L372.1,368.2L373.2,364.7L374.3,361.4L375.4,358.1L376.5,354.9L377.6,351.7L378.7,348.6L379.8,345.6L380.9,342.7L382.0,339.9L383.0,337.2L384.1,334.5L385.2,331.9L386.3,329.5L387.4,327.1L388.5,324.7L389.6,322.4L390.7,320.2L391.8,318.1L392.9,315.9L394.0,313.9L395.1,311.8L396.1,309.9L397.2,307.9L398.3,306.0L399.4,304.2L400.5,302.4L401.6,300.6L402.7,298.8L403.8,297.1L404.9,295.4L406.0,293.8L407.1,292.1L408.2,290.5L409.2,288.9L410.3,287.3L411.4,285.7L412.5,284.1L413.6,282.6L414.7,281.0L415.8,279.5L416.9,278.0L418.0,276.5L419.1,275.0L420.2,273.6L421.3,272.1L422.3,270.7L423.4,269.3L424.5,268.0L425.6,266.7L426.7,265.4L427.8,264.1L428.9,262.9L430.0,261.8L431.1,260.6L432.2,259.6L433.3,258.5L434.4,257.5L435.4,256.6L436.5,255.6L437.6,254.7L438.7,253.8L439.8,252.9L440.9,252.0L442.0,251.2L443.1,250.3L444.2,249.5L445.3,248.7L446.4,247.8L447.5,247.0L448.5,246.3L449.6,245.5L450.7,244.7L451.8,244.0L452.9,243.3L454.0,242.5L455.1,241.8L456.2,241.1L457.3,240.4L458.4,239.7L459.5,239.1L460.6,238.4L461.6,237.8L462.7,237.1L463.8,236.5L464.9,235.9L466.0,235.2L467.1,234.6L468.2,234.0L469.3,233.4L470.4,232.9L471.5,232.3L472.6,231.7L473.7,231.1L474.7,230.6L475.8,230.0L476.9,229.5L478.0,228.9L479.1,228.4L480.2,227.8L481.3,227.3L482.4,226.7L483.5,226.2L484.6,225.7L485.7,225.1L486.8,224.6L487.8,224.1L488.9,223.6L490.0,223.1L491.1,222.6L492.2,222.2L493.3,221.7L494.4,221.3L495.5,220.9L496.6,220.5L497.7,220.1L498.8,219.7L499.9,219.4L500.9,219.0L502.0,218.7L503.1,218.5L504.2,218.2L505.3,217.9L506.4,217.7L507.5,217.5L508.6,217.2L509.7,217.0L510.8,216.7L511.9,216.5L513.0,216.3L514.0,216.1L515.1,215.8L516.2,215.6L517.3,215.4L518.4,215.2L519.5,215.0L520.6,214.8L521.7,214.6L522.8,214.4L523.9,214.2L525.0,214.0L526.1,213.8L527.1,213.6L528.2,213.4L529.3,213.2L530.4,213.0L531.5,212.9L532.6,212.7L533.7,212.5L534.8,212.3L535.9,212.2L537.0,212.0L538.1,211.8L539.2,211.7L540.3,211.5L541.3,211.4L542.4,211.2L543.5,211.1L544.6,210.9L545.7,210.8L546.8,210.7L547.9,210.5L549.0,210.4L550.1,210.2L551.2,210.1L552.3,210.0L553.4,209.9L554.4,209.7L555.5,209.6L556.6,209.5L557.7,209.4L558.8,209.3L559.9,209.2L561.0,209.0L562.1,208.9L563.2,208.8L564.3,208.7L565.4,208.6L566.5,208.5L567.5,208.4L568.6,208.3L569.7,208.3L570.8,208.2L571.9,208.1L573.0,208.0L574.1,207.9L575.2,207.8L576.3,207.7L577.4,207.7L578.5,207.6L579.6,207.5L580.6,207.4L581.7,207.4L582.8,207.3L583.9,207.2L585.0,207.1L592.3,206.7L599.6,206.2L606.8,205.8L614.1,205.4L621.4,205.0L628.7,204.7L636.0,204.4L643.2,204.1L650.5,203.9L657.8,203.7L665.1,203.5L672.3,203.3L679.6,203.2L686.9,203.0L694.2,202.9L701.5,202.8L708.7,202.6L716.0,202.5L723.3,202.4L730.6,202.3L737.8,202.1L745.1,202.0L752.4,201.9L759.7,201.8L767.0,201.7L774.2,201.6L781.5,201.6L788.8,201.5L796.1,201.4L803.4,201.3L810.6,201.3L817.9,201.2L825.2,201.2L832.5,201.1L839.7,201.1L847.0,201.0L854.3,201.0L861.6,201.0L868.9,200.9L876.1,200.9L883.4,200.9L890.7,200.9L898.0,200.8L905.2,200.8L912.5,200.8L919.8,200.8L927.1,200.7L934.4,200.7L941.6,200.7L948.9,200.7L956.2,200.6L963.5,200.6L970.7,200.6L978.0,200.6L985.3,200.6L992.6,200.6L999.9,200.5L1007.1,200.5L1014.4,200.5L1021.7,200.5L1029.0,200.5L1036.2,200.5L1043.5,200.4L1050.8,200.4L1058.1,200.4L1065.4,200.4L1072.6,200.4L1079.9,200.4L1087.2,200.4L1094.5,200.4L1101.7,200.3L1109.0,200.3L1116.3,200.3L1123.6,200.3L1130.9,200.3L1138.1,200.3L1145.4,200.3L1152.7,200.3L1160.0,200.3L1162.2,200.3"/>
<path stroke="#00ff00" stroke-width="5" d="M257.5,1243.5L269.8,1243.5L270.9,1226.7L272.0,1210.0L273.1,1193.6L274.2,1177.4L275.3,1161.6L276.4,1146.1L277.5,1131.0L278.6,1116.3L279.7,1101.7L280.8,1087.3L281.9,1073.0L282.9,1058.9L284.0,1045.0L285.1,1031.3L286.2,1017.8L287.3,1004.4L288.4,991.2L289.5,978.3L290.6,965.5L291.7,953.0L292.8,940.7L293.9,928.6L295.0,916.7L296.0,904.9L297.1,893.2L298.2,881.6L299.3,870.1L300.4,858.7L301.5,847.5L302.6,836.4L303.7,825.4L304.8,814.6L305.9,803.9L307.0,793.5L308.1,783.2L309.1,773.1L310.2,763.2L311.3,753.5L312.4,744.1L313.5,734.9L314.6,725.9L315.7,717.2L316.8,708.9L317.9,701.0L319.0,693.4L320.1,686.0L321.2,678.6L322.2,671.3L323.3,663.9L324.4,656.5L325.5,649.0L326.6,641.5L327.7,634.1L328.8,626.6L329.9,619.2L331.0,611.8L332.1,604.4L333.2,597.1L334.3,589.9L335.3,582.8L336.4,575.7L337.5,568.8L338.6,562.0L339.7,555.2L340.8,548.7L341.9,542.2L343.0,535.9L344.1,529.6L345.2,523.3L346.3,517.1L347.4,510.9L348.4,504.8L349.5,498.7L350.6,492.6L351.7,486.6L352.8,480.7L353.9,474.9L355.0,469.1L356.1,463.5L357.2,457.9L358.3,452.4L359.4,447.0L360.5,441.8L361.5,436.7L362.6,431.7L363.7,426.8L364.8,422.1L365.9,417.5L367.0,413.0L368.1,408.7L369.2,404.5L370.3,400.3L371.4,396.2L372.5,392.1L373.6,388.2L374.6,384.2L375.7,380.4L376.8,376.6L377.9,372.9L379.0,369.2L380.1,365.7L381.2,362.2L382.3,358.8L383.4,355.5L384.5,352.3L385.6,349.1L386.7,346.1L387.7,343.1L388.8,340.3L389.9,337.5L391.0,334.8L392.1,332.3L393.2,329.8L394.3,327.3L395.4,325.0L396.5,322.7L397.6,320.5L398.7,318.3L399.8,316.1L400.8,314.1L401.9,312.0L403.0,310.0L404.1,308.1L405.2,306.2L406.3,304.3L407.4,302.5L408.5,300.7L409.6,299.0L410.7,297.2L411.8,295.5L412.9,293.8L413.9,292.1L415.0,290.5L416.1,288.8L417.2,287.2L418.3,285.6L419.4,284.0L420.5,282.4L421.6,280.8L422.7,279.3L423.8,277.8L424.9,276.3L426.0,274.8L427.0,273.4L428.1,272.0L429.2,270.6L430.3,269.3L431.4,268.0L432.5,266.7L433.6,265.5L434.7,264.4L435.8,263.3L436.9,262.2L438.0,261.2L439.1,260.3L440.1,259.3L441.2,258.3L442.3,257.4L443.4,256.5L444.5,255.6L445.6,254.7L446.7,253.8L447.8,253.0L448.9,252.2L450.0,251.3L451.1,250.5L452.2,249.7L453.2,249.0L454.3,248.2L455.4,247.4L456.5,246.7L457.6,246.0L458.7,245.2L459.8,244.5L460.9,243.8L462.0,243.1L463.1,242.5L464.2,241.8L465.3,241.1L466.3,240.5L467.4,239.9L468.5,239.2L469.6,238.6L470.7,238.0L471.8,237.4L472.9,236.8L474.0,236.2L475.1,235.6L476.2,235.1L477.3,234.5L478.4,233.9L479.4,233.4L480.5,232.8L481.6,232.2L482.7,231.7L483.8,231.1L484.9,230.6L486.0,230.0L487.1,229.5L488.2,229.0L489.3,228.4L490.4,227.9L491.5,227.4L492.5,227.0L493.6,226.5L494.7,226.1L495.8,225.7L496.9,225.2L498.0,224.9L499.1,224.5L500.2,224.2L501.3,223.9L502.4,223.6L503.5,223.3L504.6,223.1L505.6,222.8L506.7,222.6L507.8,222.3L508.9,222.1L510.0,221.8L511.1,221.6L512.2,221.4L513.3,221.2L514.4,220.9L515.5,220.7L516.6,220.5L517.7,220.3L518.7,220.1L519.8,219.9L520.9,219.7L522.0,219.5L523.1,219.3L524.2,219.1L525.3,218.9L526.4,218.7L527.5,218.5L528.6,218.3L529.7,218.2L530.8,218.0L531.9,217.8L532.9,217.6L534.0,217.5L535.1,217.3L536.2,217.2L537.3,217.0L538.4,216.8L539.5,216.7L540.6,216.5L541.7,216.4L542.8,216.3L543.9,216.1L545.0,216.0L546.0,215.8L547.1,215.7L548.2,215.6L549.3,215.5L550.4,215.3L551.5,215.2L552.6,215.1L553.7,215.0L554.8,214.9L555.9,214.8L557.0,214.6L558.1,214.5L559.1,214.4L560.2,214.3L561.3,214.2L562.4,214.1L563.5,214.0L564.6,214.0L565.7,213.9L566.8,213.8L567.9,213.7L569.0,213.6L570.1,213.5L571.2,213.5L572.2,213.4L573.3,213.3L574.4,213.2L575.5,213.2L576.6,213.1L577.7,213.0L578.8,212.9L579.9,212.9L581.0,212.8L582.1,212.7L583.2,212.7L584.3,212.6L585.3,212.5L586.4,212.4L587.5,212.4L588.6,212.3L589.7,212.3L590.8,212.2L591.9,212.1L593.0,212.1L594.1,212.0L595.2,211.9L596.3,211.9L597.4,211.8L604.6,211.4L611.9,211.1L619.2,210.8L626.5,210.5L633.7,210.2L641.0,210.0L648.3,209.8L655.6,209.6L662.9,209.5L670.1,209.4L677.4,209.2L684.7,209.1L692.0,209.0L699.2,208.9L706.5,208.8L713.8,208.7L721.1,208.6L728.4,208.5L735.6,208.4L742.9,208.3L750.2,208.3L757.5,208.2L764.7,208.1L772.0,208.0L779.3,208.0L786.6,207.9L793.9,207.9L801.1,207.8L808.4,207.8L815.7,207.8L823.0,207.7L830.2,207.7L837.5,207.7L844.8,207.7L852.1,207.7L859.4,207.7L866.6,207.6L873.9,207.6L881.2,207.6L888.5,207.6L895.8,207.6L903.0,207.6L910.3,207.6L917.6,207.6L924.9,207.5L932.1,207.5L939.4,207.5L946.7,207.5L954.0,207.5L961.3,207.5L968.5,207.5L975.8,207.5L983.1,207.5L990.4,207.4L997.6,207.4L1004.9,207.4L1012.2,207.4L1019.5,207.4L1026.8,207.4L1034.0,207.4L1041.3,207.4L1048.6,207.4L1055.9,207.4L1063.1,207.4L1070.4,207.4L1071.2,207.4"/>
<path stroke="#0000ff" stroke-width="10" d="M257.5,1243.5L258.6,1228.4L259.7,1213.4L260.8,1198.5L261.9,1183.9L263.0,1169.4L264.1,1155.3L265.1,1141.4L266.2,1127.9L267.3,1114.7L268.4,1101.5L269.5,1088.5L270.6,1075.7L271.7,1062.9L272.8,1050.3L273.9,1037.8L275.0,1025.5L276.1,1013.3L277.2,1001.3L278.2,989.5L279.3,977.8L280.4,966.2L281.5,954.9L282.6,943.7L283.7,932.6L284.8,921.8L285.9,911.1L287.0,900.5L288.1,889.9L289.2,879.4L290.3,869.0L291.3,858.7L292.4,848.5L293.5,838.4L294.6,828.4L295.7,818.6L296.8,808.8L297.9,799.2L299.0,789.7L300.1,780.4L301.2,771.3L302.3,762.3L303.4,753.4L304.4,744.8L305.5,736.3L306.6,728.0L307.7,719.9L308.8,712.0L309.9,704.4L311.0,697.2L312.1,690.2L313.2,683.5L314.3,676.8L315.4,670.2L316.5,663.6L317.5,656.8L318.6,650.1L319.7,643.3L320.8,636.5L321.9,629.8L323.0,623.0L324.1,616.3L325.2,609.5L326.3,602.9L327.4,596.2L328.5,589.6L329.6,583.1L330.6,576.6L331.7,570.1L332.8,563.8L333.9,557.6L335.0,551.4L336.1,545.3L337.2,539.4L338.3,533.6L339.4,527.8L340.5,522.1L341.6,516.4L342.7,510.8L343.7,505.1L344.8,499.5L345.9,493.9L347.0,488.4L348.1,482.9L349.2,477.5L350.3,472.1L351.4,466.8L352.5,461.5L353.6,456.3L354.7,451.2L355.8,446.2L356.8,441.2L357.9,436.4L359.0,431.6L360.1,426.9L361.2,422.3L362.3,417.9L363.4,413.5L364.5,409.3L365.6,405.2L366.7,401.2L367.8,397.3L368.9,393.4L369.9,389.6L371.0,385.8L372.1,382.1L373.2,378.4L374.3,374.8L375.4,371.3L376.5,367.8L377.6,364.3L378.7,361.0L379.8,357.6L380.9,354.4L382.0,351.2L383.0,348.1L384.1,345.0L385.2,342.0L386.3,339.1L387.4,336.2L388.5,333.5L389.6,330.8L390.7,328.1L391.8,325.6L392.9,323.1L394.0,320.7L395.1,318.4L396.1,316.2L397.2,313.9L398.3,311.8L399.4,309.7L400.5,307.6L401.6,305.6L402.7,303.6L403.8,301.7L404.9,299.8L406.0,298.0L407.1,296.2L408.2,294.4L409.2,292.6L410.3,290.9L411.4,289.2L412.5,287.6L413.6,285.9L414.7,284.3L415.8,282.7L416.9,281.2L418.0,279.6L419.1,278.1L420.2,276.5L421.3,275.0L422.3,273.5L423.4,272.0L424.5,270.5L425.6,269.0L426.7,267.6L427.8,266.1L428.9,264.7L430.0,263.3L431.1,261.9L432.2,260.6L433.3,259.2L434.4,257.9L435.4,256.6L436.5,255.4L437.6,254.2L438.7,253.0L439.8,251.8L440.9,250.7L442.0,249.6L443.1,248.6L444.2,247.6L445.3,246.7L446.4,245.7L447.5,244.8L448.5,243.9L449.6,243.0L450.7,242.2L451.8,241.3L452.9,240.5L454.0,239.6L455.1,238.8L456.2,238.0L457.3,237.2L458.4,236.4L459.5,235.7L460.6,234.9L461.6,234.1L462.7,233.4L463.8,232.7L464.9,232.0L466.0,231.3L467.1,230.6L468.2,229.9L469.3,229.2L470.4,228.5L471.5,227.9L472.6,227.2L473.7,226.6L474.7,226.0L475.8,225.3L476.9,224.7L478.0,224.1L479.1,223.5L480.2,222.9L481.3,222.3L482.4,221.8L483.5,221.2L484.6,220.6L485.7,220.1L486.8,219.5L487.8,219.0L488.9,218.4L490.0,217.9L491.1,217.3L492.2,216.8L493.3,216.3L494.4,215.7L495.5,215.2L496.6,214.7L497.7,214.1L498.8,213.6L499.9,213.1L500.9,212.6L502.0,212.1L503.1,211.6L504.2,211.1L505.3,210.6L506.4,210.2L507.5,209.7L508.6,209.3L509.7,208.9L510.8,208.5L511.9,208.1L513.0,207.7L514.0,207.4L515.1,207.0L516.2,206.7L517.3,206.4L518.4,206.2L519.5,205.9L520.6,205.7L521.7,205.4L522.8,205.2L523.9,204.9L525.0,204.7L526.1,204.4L527.1,204.2L528.2,204.0L529.3,203.8L530.4,203.5L531.5,203.3L532.6,203.1L533.7,202.9L534.8,202.7L535.9,202.4L537.0,202.2L538.1,202.0L539.2,201.8L540.3,201.6L541.3,201.4L542.4,201.2L543.5,201.0L544.6,200.8L545.7,200.7L546.8,200.5L547.9,200.3L549.0,200.1L550.1,199.9L551.2,199.8L552.3,199.6L553.4,199.4L554.4,199.3L555.5,199.1L556.6,198.9L557.7,198.8L558.8,198.6L559.9,198.5L561.0,198.3L562.1,198.1L563.2,198.0L564.3,197.9L565.4,197.7L566.5,197.6L567.5,197.4L568.6,197.3L569.7,197.2L570.8,197.0L571.9,196.9L573.0,196.8L574.1,196.6L575.2,196.5L576.3,196.4L577.4,196.3L578.5,196.2L579.6,196.1L580.6,195.9L581.7,195.8L582.8,195.7L583.9,195.6L585.0,195.5L592.3,194.9L599.6,194.3L606.8,193.8L614.1,193.2L621.4,192.8L628.7,192.3L636.0,191.9L643.2,191.5L650.5,191.1L657.8,190.7L665.1,190.4L672.3,190.1L679.6,189.9L686.9,189.7L694.2,189.5L701.5,189.3L708.7,189.1L716.0,188.9L723.3,188.7L730.6,188.6L734.9,188.5"/>
<path stroke="#0000ff" stroke-width="9" d="M257.5,1278.0L283.5,1278.0L283.6,1276.0L283.7,1274.0L283.8,1272.0L283.9,1270.0L284.1,1268.0L284.2,1266.0L284.3,1264.0L284.4,1262.0L284.5,1260.0L284.6,1258.0L284.7,1256.0L284.8,1254.0L284.9,1252.0L285.0,1250.0L285.1,1248.0L285.2,1246.0L285.3,1244.0L285.4,1242.0L285.5,1240.1L285.6,1238.1L285.7,1236.1L285.7,1234.1L285.8,1232.1L285.9,1230.1L286.0,1228.1L286.1,1226.1L286.2,1224.1L286.3,1222.1L286.3,1220.1L286.4,1218.1L286.5,1216.1L286.6,1214.1L286.7,1212.1L286.7,1210.1L286.8,1208.1L286.9,1206.1L287.0,1204.1L287.1,1202.1L287.1,1200.1L287.2,1198.1L287.3,1196.1L287.4,1194.1L287.4,1192.1L287.5,1190.1L287.6,1188.1L287.7,1186.1L287.7,1184.1L287.8,1182.1L287.9,1180.1L288.0,1178.1L288.1,1176.1L288.1,1174.1L288.2,1172.1L288.3,1170.1L288.4,1168.1L288.4,1166.1L288.5,1164.1L288.6,1162.1L288.7,1160.1L288.8,1158.1L288.8,1156.1L288.9,1154.1L289.0,1152.1L289.1,1150.1L289.2,1148.1L289.2,1146.1L289.3,1144.1L289.4,1142.1L289.5,1140.1L289.6,1138.1L289.7,1136.1L289.8,1134.1L289.9,1132.1L290.0,1130.1L290.0,1128.1L290.1,1126.1L290.2,1124.1L290.3,1122.1L290.4,1120.1L290.5,1118.1L290.6,1116.1L290.7,1114.2L290.8,1112.2L290.9,1110.2L291.0,1108.2L291.2,1106.2L291.3,1104.2L291.4,1102.2L291.5,1100.2L291.6,1098.2L291.7,1096.2L291.8,1094.2L292.0,1092.2L292.1,1090.2L292.2,1088.2L292.3,1086.2L292.5,1084.2L292.6,1082.2L292.7,1080.2L292.9,1078.2L293.0,1076.2L293.2,1074.2L293.3,1072.3L293.4,1070.3L293.6,1068.3L293.7,1066.3L293.9,1064.3L294.0,1062.3L294.2,1060.3L294.3,1058.3L294.5,1056.3L294.6,1054.3L294.8,1052.3L295.0,1050.3L295.1,1048.3L295.3,1046.3L295.5,1044.3L295.6,1042.4L295.8,1040.4L296.0,1038.4L296.1,1036.4L296.3,1034.4L296.5,1032.4L296.6,1030.4L296.8,1028.4L297.0,1026.4L297.2,1024.4L297.4,1022.4L297.5,1020.4L297.7,1018.4L297.9,1016.5L298.1,1014.5L298.3,1012.5L298.4,1010.5L298.6,1008.5L298.8,1006.5L299.0,1004.5L299.2,1002.5L299.4,1000.5L299.6,998.5L299.8,996.5L300.0,994.5L300.1,992.5L300.3,990.6L300.5,988.6L300.7,986.6L300.9,984.6L301.1,982.6L301.3,980.6L301.5,978.6L301.7,976.6L301.9,974.6L302.1,972.6L302.3,970.6L302.5,968.7L302.7,966.7L302.9,964.7L303.1,962.7L303.3,960.7L303.5,958.7L303.7,956.7L303.9,954.7L304.1,952.7L304.3,950.7L304.5,948.7L304.7,946.8L304.9,944.8L305.1,942.8L305.3,940.8L305.5,938.8L305.7,936.8L305.9,934.8L306.1,932.8L306.3,930.8L306.5,928.8L306.7,926.8L306.9,924.9L307.1,922.9L307.3,920.9L307.5,918.9L307.7,916.9L307.9,914.9L308.1,912.9L308.3,910.9L308.5,908.9L308.7,906.9L308.9,905.0L309.1,903.0L309.3,901.0L309.5,899.0L309.7,897.0L309.9,895.0L310.1,893.0L310.3,891.0L310.5,889.0L310.7,887.0L310.9,885.1L311.1,883.1L311.2,881.1L311.4,879.1L311.6,877.1L311.8,875.1L312.0,873.1L312.2,871.1L312.4,869.1L312.6,867.1L312.8,865.1L313.0,863.1L313.2,861.2L313.4,859.2L313.6,857.2L313.8,855.2L314.0,853.2L314.1,851.2L314.3,849.2L314.5,847.2L314.7,845.2L314.9,843.2L315.1,841.2L315.3,839.2L315.5,837.3L315.7,835.3L315.9,833.3L316.1,831.3L316.3,829.3L316.5,827.3L316.7,825.3L316.9,823.3L317.1,821.3L317.3,819.3L317.5,817.3L317.7,815.4L317.9,813.4L318.1,811.4L318.3,809.4L318.5,807.4L318.7,805.4L318.9,803.4L319.1,801.4L319.3,799.4L319.5,797.4L319.8,795.5L320.0,793.5L320.2,791.5L320.4,789.5L320.6,787.5L320.8,785.5L321.0,783.5L321.2,781.5L321.5,779.5L321.7,777.5L321.9,775.6L322.1,773.6L322.3,771.6L322.5,769.6L322.8,767.6L323.0,765.6L323.2,763.6L323.4,761.6L323.7,759.7L323.9,757.7L324.1,755.7L324.3,753.7L324.6,751.7L324.8,749.7L325.0,747.7L325.3,745.8L325.5,743.8L325.8,741.8L326.0,739.8L326.2,737.8L326.5,735.8L326.7,733.8L327.0,731.9L327.2,729.9L327.5,727.9L327.7,725.9L327.9,723.9L328.2,721.9L328.5,720.0L328.7,718.0L329.0,716.0L329.2,714.0L329.5,712.0L329.7,710.1L330.0,708.1L330.3,706.1L330.5,704.1L330.8,702.1L331.1,700.2L331.4,698.2L331.6,696.2L331.9,694.2L332.2,692.2L332.5,690.3L332.8,688.3L333.2,686.3L333.5,684.3L333.8,682.4L334.2,680.4L334.5,678.4L334.8,676.5L335.2,674.5L335.5,672.5L335.9,670.5L336.2,668.6L336.6,666.6L336.9,664.6L337.2,662.7L337.6,660.7L337.9,658.7L338.3,656.7L338.6,654.8L338.9,652.8L339.3,650.8L339.6,648.9L339.9,646.9L340.2,644.9L340.5,642.9L340.9,641.0L341.2,639.0L341.5,637.0L341.8,635.0L342.1,633.0L342.4,631.1L342.7,629.1L343.0,627.1L343.3,625.1L343.6,623.1L343.9,621.2L344.2,619.2L344.5,617.2L344.8,615.2L345.1,613.2L345.4,611.3L345.7,609.3L346.0,607.3L346.2,605.3L346.5,603.3L346.8,601.4L347.1,599.4L347.4,597.4L347.7,595.4L348.0,593.4L348.3,591.5L348.7,589.5L349.0,587.5L349.3,585.5L349.6,583.6L349.9,581.6L350.2,579.6L350.5,577.6L350.9,575.7L351.2,573.7L351.5,571.7L351.8,569.7L352.2,567.8L352.5,565.8L352.9,563.8L353.2,561.9L353.6,559.9L353.9,557.9L354.3,556.0L354.7,554.0L355.0,552.1L355.4,550.1L355.8,548.1L356.2,546.2L356.6,544.2L357.0,542.3L357.4,540.3L357.8,538.4L358.2,536.4L358.6,534.5L359.0,532.5L359.5,530.6L359.9,528.6L360.4,526.6L360.8,524.7L361.3,522.8L361.7,520.8L362.2,518.9L362.7,516.9L363.1,515.0L363.6,513.0L364.1,511.1L364.6,509.1L365.1,507.2L365.6,505.3L366.1,503.3L366.6,501.4L367.1,499.4L367.7,497.5L368.2,495.6L368.7,493.6L369.2,491.7L369.8,489.8L370.3,487.8L370.9,485.9L371.4,484.0L372.0,482.1L372.5,480.2L373.1,478.2L373.6,476.3L374.2,474.4L374.8,472.5L375.3,470.6L375.9,468.7L376.5,466.8L377.1,464.9L377.7,463.0L378.4,461.1L379.0,459.2L379.7,457.3L380.4,455.4L381.1,453.5L381.7,451.6L382.4,449.8L383.1,447.9L383.8,446.0L384.5,444.1L385.2,442.2L385.9,440.4L386.5,438.5L387.2,436.6L387.8,434.7L388.5,432.8L389.1,430.9L389.7,429.0L390.3,427.1L390.9,425.2L391.4,423.3L392.0,421.3L392.6,419.4L393.1,417.5L393.7,415.6L394.2,413.6L394.8,411.7L395.4,409.8L396.0,407.9L396.6,406.0L397.3,404.1L397.9,402.2L398.5,400.2L399.1,398.3L399.7,396.4L400.3,394.5L401.0,392.5L401.6,390.6L402.3,388.7L403.0,386.8L403.7,384.9L404.4,383.1L405.1,381.2L405.9,379.4L406.7,377.6L407.6,375.9L408.4,374.1L409.4,372.4L410.4,370.8L411.6,369.2L412.8,367.6L414.0,366.0L415.3,364.4L416.6,362.9L417.9,361.3L419.2,359.8L420.5,358.2L421.7,356.6L422.9,355.0L424.1,353.3L425.2,351.7L426.3,350.0L427.4,348.3L428.5,346.6L429.6,344.9L430.6,343.2L431.7,341.5L432.8,339.8L433.9,338.1L435.0,336.4L436.1,334.7L437.2,333.1L438.4,331.5L439.5,329.9L440.7,328.3L442.0,326.8L443.3,325.3L444.6,323.9L445.9,322.4L447.3,321.0L448.7,319.6L450.2,318.2L451.6,316.8L453.1,315.4L454.6,314.1L456.1,312.8L457.6,311.4L459.2,310.1L460.7,308.8L462.3,307.5L463.8,306.3L465.4,305.0L466.9,303.7L468.5,302.5L470.0,301.2L471.6,300.0L473.2,298.8L474.8,297.6L476.4,296.4L478.0,295.2L479.7,294.0L481.3,292.9L482.9,291.7L484.6,290.6L486.3,289.5L488.0,288.5L489.6,287.4L491.3,286.3L493.0,285.2L494.7,284.1L496.5,282.9L498.2,281.8L499.9,280.7L501.6,279.7L503.4,278.6L505.1,277.6L506.9,276.6L508.7,275.6L510.5,274.7L512.3,273.9L514.1,273.0L515.9,272.3L517.7,271.6L519.6,271.0L521.4,270.4L523.3,269.9L525.2,269.4L527.1,269.0L529.0,268.5L530.9,268.1L532.9,267.7L534.8,267.3L536.8,267.0L538.8,266.6L540.8,266.3L542.8,266.0L544.8,265.7L546.8,265.4L548.8,265.1L550.8,264.8L552.8,264.5L554.8,264.2L556.8,263.9L558.8,263.6L560.8,263.3L562.7,263.0L564.7,262.7L566.7,262.4L568.7,262.1L570.6,261.8L572.6,261.5L574.6,261.2L576.6,260.9L578.6,260.6L580.5,260.3L582.5,260.0L584.5,259.7L586.5,259.5L588.5,259.2L590.4,258.9L592.4,258.6L594.4,258.4L596.4,258.1L598.4,257.8L600.4,257.6L602.4,257.3L604.3,257.1L606.3,256.8L608.3,256.6L610.3,256.3L612.3,256.1L614.3,255.9L616.3,255.6L618.2,255.4L620.2,255.2L622.2,255.0L624.2,254.8L626.2,254.6L628.2,254.4L630.2,254.2L632.2,254.0L634.1,253.8L636.1,253.6L638.1,253.4L640.1,253.3L642.1,253.1L644.1,252.9L646.1,252.7L648.1,252.6L650.1,252.4L652.1,252.2L654.1,252.1L656.0,251.9L658.0,251.7L660.0,251.6L662.0,251.4L664.0,251.3L666.0,251.1L668.0,250.9L670.0,250.8L672.0,250.6L674.0,250.5L676.0,250.3L678.0,250.2L680.0,250.0L682.0,249.9L684.0,249.8L686.0,249.6L688.0,249.5L690.0,249.3L692.0,249.2L693.9,249.1L695.9,248.9L697.9,248.8L699.9,248.7L701.9,248.5L703.9,248.4L705.9,248.3L707.9,248.1L709.9,248.0L711.9,247.9L713.9,247.7L715.9,247.6L717.9,247.5L719.9,247.4L721.9,247.2L723.9,247.1L725.9,247.0L727.9,246.9L729.9,246.7L731.9,246.6L733.9,246.5L735.9,246.4L737.9,246.2L739.9,246.1L741.9,246.0L743.9,245.9L745.9,245.8L747.9,245.6L749.9,245.5L751.9,245.4L753.8,245.3L755.8,245.1L757.8,245.0L759.8,244.9L761.8,244.8L763.8,244.7L765.8,244.5L767.8,244.4L769.8,244.3L771.8,244.2L773.8,244.1L775.8,243.9L777.8,243.8L779.8,243.7L781.8,243.6L783.8,243.5L785.8,243.4L787.8,243.2L789.8,243.1L791.8,243.0L793.8,242.9L795.8,242.8L797.8,242.7L799.8,242.6L801.8,242.5L803.8,242.3L805.8,242.2L807.8,242.1L809.8,242.0L811.7,241.9L813.7,241.8L815.7,241.7L817.7,241.6L819.7,241.5L821.7,241.4L823.7,241.3L825.7,241.2L827.7,241.0L829.7,240.9L831.7,240.8L833.7,240.7L835.7,240.6L837.7,240.5L839.7,240.4L841.7,240.3L843.7,240.2L845.7,240.1L847.7,240.0L849.7,239.9L851.7,239.8L853.7,239.7L855.7,239.6L857.7,239.5L859.7,239.4L861.7,239.4L863.7,239.3L865.7,239.2L867.7,239.1L869.7,239.0L871.7,238.9L873.7,238.8L875.7,238.7L877.7,238.6L879.7,238.5L881.7,238.4L883.7,238.4L885.0,238.3"/>
<path stroke="#0000ff" stroke-width="5" d="M257.5,1243.5L279.9,1243.5L281.0,1223.6L282.1,1204.0L283.2,1184.6L284.3,1165.7L285.4,1147.4L286.4,1129.6L287.5,1112.2L288.6,1095.0L289.7,1078.0L290.8,1061.3L291.9,1044.8L293.0,1028.6L294.1,1012.7L295.2,997.1L296.3,981.7L297.4,966.6L298.5,951.9L299.5,937.4L300.6,923.3L301.7,909.3L302.8,895.4L303.9,881.7L305.0,868.1L306.1,854.7L307.2,841.5L308.3,828.5L309.4,815.8L310.5,803.3L311.6,791.1L312.6,779.2L313.7,767.5L314.8,756.2L315.9,745.2L317.0,734.6L318.1,724.4L319.2,714.8L320.3,705.7L321.4,696.9L322.5,688.1L323.6,679.3L324.7,670.4L325.7,661.4L326.8,652.5L327.9,643.5L329.0,634.6L330.1,625.8L331.2,617.0L332.3,608.3L333.4,599.7L334.5,591.2L335.6,582.9L336.7,574.7L337.8,566.7L338.8,558.9L339.9,551.3L341.0,543.7L342.1,536.2L343.2,528.7L344.3,521.3L345.4,514.0L346.5,506.7L347.6,499.6L348.7,492.5L349.8,485.5L350.9,478.7L351.9,472.0L353.0,465.5L354.1,459.1L355.2,452.9L356.3,446.9L357.4,441.1L358.5,435.5L359.6,430.1L360.7,424.9L361.8,419.8L362.9,414.7L364.0,409.8L365.0,405.0L366.1,400.2L367.2,395.6L368.3,391.0L369.4,386.6L370.5,382.3L371.6,378.1L372.7,374.0L373.8,370.0L374.9,366.2L376.0,362.5L377.1,358.9L378.2,355.5L379.2,352.2L380.3,349.0L381.4,346.0L382.5,343.1L383.6,340.2L384.7,337.5L385.8,334.8L386.9,332.2L388.0,329.7L389.1,327.2L390.2,324.8L391.3,322.5L392.3,320.2L393.4,317.9L394.5,315.8L395.6,313.6L396.7,311.5L397.8,309.4L398.9,307.4L400.0,305.3L401.1,303.3L402.2,301.3L403.3,299.3L404.4,297.4L405.4,295.5L406.5,293.6L407.6,291.7L408.7,289.9L409.8,288.2L410.9,286.5L412.0,284.8L413.1,283.2L414.2,281.7L415.3,280.3L416.4,278.9L417.5,277.6L418.5,276.4L419.6,275.1L420.7,273.9L421.8,272.7L422.9,271.6L424.0,270.5L425.1,269.4L426.2,268.3L427.3,267.2L428.4,266.2L429.5,265.2L430.6,264.2L431.6,263.2L432.7,262.2L433.8,261.3L434.9,260.3L436.0,259.4L437.1,258.5L438.2,257.7L439.3,256.8L440.4,256.0L441.5,255.1L442.6,254.3L443.7,253.5L444.7,252.7L445.8,251.9L446.9,251.1L448.0,250.4L449.1,249.6L450.2,248.9L451.3,248.1L452.4,247.4L453.5,246.7L454.6,245.9L455.7,245.2L456.8,244.5L457.8,243.8L458.9,243.1L460.0,242.4L461.1,241.8L462.2,241.1L463.3,240.5L464.4,239.9L465.5,239.4L466.6,238.8L467.7,238.3L468.8,237.8L469.9,237.4L470.9,237.0L472.0,236.6L473.1,236.3L474.2,235.9L475.3,235.6L476.4,235.2L477.5,234.9L478.6,234.6L479.7,234.3L480.8,233.9L481.9,233.6L483.0,233.3L484.0,233.0L485.1,232.7L486.2,232.4L487.3,232.1L488.4,231.8L489.5,231.6L490.6,231.3L491.7,231.0L492.8,230.7L493.9,230.5L495.0,230.2L496.1,230.0L497.1,229.7L498.2,229.5L499.3,229.2L500.4,229.0L501.5,228.8L502.6,228.5L503.7,228.3L504.8,228.1L505.9,227.9L507.0,227.7L508.1,227.5L509.2,227.3L510.2,227.1L511.3,226.9L512.4,226.7L513.5,226.5L514.6,226.3L515.7,226.2L516.8,226.0L517.9,225.8L519.0,225.7L520.1,225.5L521.2,225.3L522.3,225.2L523.3,225.0L524.4,224.9L525.5,224.7L526.6,224.6L527.7,224.5L528.8,224.3L529.9,224.2L531.0,224.1L532.1,223.9L533.2,223.8L534.3,223.7L535.4,223.5L536.4,223.4L537.5,223.3L538.6,223.2L539.7,223.0L540.8,222.9L541.9,222.8L543.0,222.7L544.1,222.6L545.2,222.4L546.3,222.3L547.4,222.2L548.5,222.1L549.5,222.0L550.6,221.9L551.7,221.8L552.8,221.6L553.9,221.5L555.0,221.4L556.1,221.3L557.2,221.2L558.3,221.1L559.4,221.0L560.5,220.9L561.6,220.8L562.6,220.7L563.7,220.6L564.8,220.5L565.9,220.4L567.0,220.3L568.1,220.2L569.2,220.2L570.3,220.1L571.4,220.0L572.5,219.9L573.6,219.8L574.7,219.7L575.7,219.6L576.8,219.6L577.9,219.5L579.0,219.4L580.1,219.3L581.2,219.2L582.3,219.2L583.4,219.1L584.5,219.0L585.6,218.9L586.7,218.9L587.8,218.8L588.8,218.7L589.9,218.7L591.0,218.6L592.1,218.5L593.2,218.5L594.3,218.4L595.4,218.3L596.5,218.3L597.6,218.2L598.7,218.2L599.8,218.1L600.9,218.1L601.9,218.0L603.0,217.9L604.1,217.9L605.2,217.8L606.3,217.8L607.4,217.7L614.7,217.4L622.0,217.0L629.2,216.7L636.5,216.3L643.8,216.0L651.1,215.7L658.4,215.4L665.6,215.2L672.9,214.9L680.2,214.6L687.5,214.4L694.7,214.2L702.0,213.9L709.3,213.7L716.6,213.5L723.9,213.4L731.1,213.2L738.4,213.0L745.7,212.9L753.0,212.7L760.2,212.6L767.5,212.5L774.8,212.3L782.1,212.2L789.4,212.1L796.6,212.0L803.9,211.8L811.2,211.7L818.5,211.6L825.7,211.5L833.0,211.4L840.3,211.3L847.6,211.2L854.9,211.1L862.1,211.0L869.4,210.9L876.7,210.9L884.0,210.8L891.2,210.7L898.5,210.6L905.8,210.5L913.1,210.5L920.4,210.4L927.6,210.3L934.9,210.3L942.2,210.2L949.5,210.1L956.8,210.1L964.0,210.0L971.3,209.9L978.6,209.9L985.9,209.8L988.9,209.8"/>
<path stroke="#ff00ff" stroke-width="8" d="M257.5,1269.1L261.6,1269.1L262.7,1252.7L263.8,1236.5L264.9,1220.4L266.0,1204.6L267.1,1189.1L268.2,1173.9L269.3,1159.1L270.3,1144.7L271.4,1130.4L272.5,1116.3L273.6,1102.3L274.7,1088.5L275.8,1074.8L276.9,1061.3L278.0,1048.0L279.1,1034.9L280.2,1021.9L281.3,1009.1L282.4,996.5L283.5,984.1L284.5,971.9L285.6,959.9L286.7,948.1L287.8,936.5L288.9,924.9L290.0,913.5L291.1,902.1L292.2,890.8L293.3,879.7L294.4,868.6L295.5,857.7L296.6,847.0L297.6,836.3L298.7,825.9L299.8,815.5L300.9,805.4L302.0,795.4L303.1,785.7L304.2,776.1L305.3,766.7L306.4,757.5L307.5,748.6L308.6,739.9L309.7,731.5L310.7,723.5L311.8,715.8L312.9,708.4L314.0,701.1L315.1,693.9L316.2,686.7L317.3,679.4L318.4,672.1L319.5,664.7L320.6,657.3L321.7,650.0L322.8,642.6L323.8,635.3L324.9,628.0L326.0,620.8L327.1,613.6L328.2,606.4L329.3,599.4L330.4,592.4L331.5,585.5L332.6,578.7L333.7,572.0L334.8,565.5L335.9,559.0L336.9,552.7L338.0,546.5L339.1,540.3L340.2,534.1L341.3,528.0L342.4,521.9L343.5,515.8L344.6,509.8L345.7,503.8L346.8,497.9L347.9,492.0L349.0,486.3L350.0,480.6L351.1,474.9L352.2,469.4L353.3,464.0L354.4,458.7L355.5,453.4L356.6,448.3L357.7,443.3L358.8,438.5L359.9,433.8L361.0,429.2L362.1,424.7L363.1,420.4L364.2,416.2L365.3,412.0L366.4,407.8L367.5,403.8L368.6,399.7L369.7,395.8L370.8,391.9L371.9,388.1L373.0,384.3L374.1,380.7L375.2,377.0L376.2,373.5L377.3,370.1L378.4,366.7L379.5,363.4L380.6,360.1L381.7,357.0L382.8,354.0L383.9,351.0L385.0,348.1L386.1,345.3L387.2,342.6L388.3,340.0L389.3,337.5L390.4,335.1L391.5,332.7L392.6,330.3L393.7,328.1L394.8,325.8L395.9,323.7L397.0,321.5L398.1,319.5L399.2,317.4L400.3,315.4L401.4,313.5L402.4,311.6L403.5,309.7L404.6,307.8L405.7,306.0L406.8,304.2L407.9,302.5L409.0,300.7L410.1,299.0L411.2,297.3L412.3,295.6L413.4,294.0L414.5,292.3L415.5,290.7L416.6,289.0L417.7,287.4L418.8,285.8L419.9,284.2L421.0,282.7L422.1,281.1L423.2,279.6L424.3,278.1L425.4,276.7L426.5,275.3L427.6,273.9L428.6,272.6L429.7,271.3L430.8,270.0L431.9,268.8L433.0,267.6L434.1,266.5L435.2,265.4L436.3,264.4L437.4,263.4L438.5,262.4L439.6,261.4L440.7,260.4L441.7,259.5L442.8,258.5L443.9,257.6L445.0,256.7L446.1,255.8L447.2,254.9L448.3,254.1L449.4,253.2L450.5,252.4L451.6,251.6L452.7,250.7L453.8,249.9L454.8,249.2L455.9,248.4L457.0,247.6L458.1,246.9L459.2,246.1L460.3,245.4L461.4,244.7L462.5,244.0L463.6,243.3L464.7,242.6L465.8,241.9L466.9,241.2L467.9,240.6L469.0,239.9L470.1,239.3L471.2,238.6L472.3,238.0L473.4,237.3L474.5,236.7L475.6,236.1L476.7,235.5L477.8,234.9L478.9,234.3L480.0,233.7L481.0,233.1L482.1,232.5L483.2,231.9L484.3,231.3L485.4,230.7L486.5,230.1L487.6,229.6L488.7,229.0L489.8,228.5L490.9,227.9L492.0,227.4L493.1,226.9L494.1,226.4L495.2,225.9L496.3,225.5L497.4,225.1L498.5,224.6L499.6,224.3L500.7,223.9L501.8,223.5L502.9,223.2L504.0,222.9L505.1,222.6L506.2,222.3L507.2,222.1L508.3,221.8L509.4,221.5L510.5,221.2L511.6,220.9L512.7,220.7L513.8,220.4L514.9,220.1L516.0,219.9L517.1,219.6L518.2,219.4L519.3,219.1L520.3,218.9L521.4,218.7L522.5,218.4L523.6,218.2L524.7,217.9L525.8,217.7L526.9,217.5L528.0,217.3L529.1,217.1L530.2,216.8L531.3,216.6L532.4,216.4L533.4,216.2L534.5,216.0L535.6,215.8L536.7,215.6L537.8,215.4L538.9,215.2L540.0,215.0L541.1,214.8L542.2,214.7L543.3,214.5L544.4,214.3L545.5,214.1L546.5,214.0L547.6,213.8L548.7,213.6L549.8,213.5L550.9,213.3L552.0,213.1L553.1,213.0L554.2,212.8L555.3,212.7L556.4,212.5L557.5,212.4L558.6,212.2L559.7,212.1L560.7,212.0L561.8,211.8L562.9,211.7L564.0,211.6L565.1,211.4L566.2,211.3L567.3,211.2L568.4,211.1L569.5,210.9L570.6,210.8L571.7,210.7L572.8,210.6L573.8,210.5L574.9,210.4L576.0,210.3L577.1,210.2L578.2,210.1L579.3,210.0L580.4,209.9L581.5,209.8L582.6,209.7L583.7,209.6L584.8,209.5L585.9,209.4L586.9,209.3L588.0,209.2L589.1,209.1L596.4,208.4L603.7,207.8L611.0,207.3L618.2,206.8L625.5,206.3L632.8,205.8L640.1,205.4L647.4,205.0L654.6,204.7L661.9,204.4L669.2,204.1L676.5,203.8L683.7,203.6L691.0,203.3L698.3,203.1L705.6,202.8L712.9,202.6L720.1,202.4L727.4,202.1L730.6,202.1"/>
<path stroke="#ff00ff" stroke-width="7" d="M257.5,1269.1L268.8,1269.1L269.8,1252.8L270.9,1236.7L272.0,1220.7L273.1,1205.0L274.2,1189.5L275.3,1174.4L276.4,1159.7L277.5,1145.3L278.6,1131.1L279.7,1117.1L280.8,1103.2L281.9,1089.4L282.9,1075.8L284.0,1062.4L285.1,1049.1L286.2,1036.1L287.3,1023.1L288.4,1010.4L289.5,997.9L290.6,985.5L291.7,973.4L292.8,961.4L293.9,949.7L295.0,938.1L296.0,926.7L297.1,915.3L298.2,904.0L299.3,892.8L300.4,881.7L301.5,870.8L302.6,859.9L303.7,849.2L304.8,838.6L305.9,828.2L307.0,817.9L308.1,807.8L309.1,797.9L310.2,788.1L311.3,778.5L312.4,769.2L313.5,760.0L314.6,751.1L315.7,742.3L316.8,733.8L317.9,725.7L319.0,717.9L320.1,710.5L321.2,703.2L322.2,696.1L323.3,689.0L324.4,681.9L325.5,674.7L326.6,667.4L327.7,660.2L328.8,652.9L329.9,645.7L331.0,638.5L332.1,631.2L333.2,624.1L334.3,616.9L335.3,609.9L336.4,602.9L337.5,595.9L338.6,589.1L339.7,582.3L340.8,575.7L341.9,569.1L343.0,562.7L344.1,556.4L345.2,550.2L346.3,544.1L347.4,538.0L348.4,531.9L349.5,525.9L350.6,519.9L351.7,513.9L352.8,508.0L353.9,502.1L355.0,496.3L356.1,490.6L357.2,484.9L358.3,479.3L359.4,473.8L360.5,468.4L361.5,463.1L362.6,457.8L363.7,452.7L364.8,447.7L365.9,442.8L367.0,438.0L368.1,433.3L369.2,428.8L370.3,424.4L371.4,420.2L372.5,416.0L373.6,411.9L374.6,407.9L375.7,403.9L376.8,400.0L377.9,396.1L379.0,392.3L380.1,388.5L381.2,384.8L382.3,381.2L383.4,377.7L384.5,374.2L385.6,370.8L386.7,367.5L387.7,364.2L388.8,361.1L389.9,358.0L391.0,355.0L392.1,352.0L393.2,349.2L394.3,346.5L395.4,343.8L396.5,341.2L397.6,338.7L398.7,336.3L399.8,334.0L400.9,331.7L401.9,329.5L403.0,327.3L404.1,325.2L405.2,323.1L406.3,321.0L407.4,319.1L408.5,317.1L409.6,315.2L410.7,313.3L411.8,311.5L412.9,309.7L414.0,308.0L415.0,306.2L416.1,304.5L417.2,302.8L418.3,301.2L419.4,299.5L420.5,297.9L421.6,296.3L422.7,294.7L423.8,293.1L424.9,291.5L426.0,289.9L427.1,288.4L428.1,286.9L429.2,285.3L430.3,283.9L431.4,282.4L432.5,280.9L433.6,279.5L434.7,278.2L435.8,276.8L436.9,275.5L438.0,274.2L439.1,273.0L440.2,271.8L441.2,270.6L442.3,269.5L443.4,268.4L444.5,267.4L445.6,266.4L446.7,265.5L447.8,264.5L448.9,263.6L450.0,262.7L451.1,261.8L452.2,260.9L453.3,260.0L454.3,259.2L455.4,258.3L456.5,257.5L457.6,256.7L458.7,255.9L459.8,255.1L460.9,254.3L462.0,253.6L463.1,252.8L464.2,252.1L465.3,251.4L466.4,250.7L467.4,250.0L468.5,249.3L469.6,248.6L470.7,247.9L471.8,247.2L472.9,246.6L474.0,245.9L475.1,245.3L476.2,244.7L477.3,244.1L478.4,243.4L479.5,242.8L480.5,242.2L481.6,241.7L482.7,241.1L483.8,240.5L484.9,239.9L486.0,239.4L487.1,238.8L488.2,238.2L489.3,237.7L490.4,237.1L491.5,236.6L492.6,236.0L493.6,235.5L494.7,234.9L495.8,234.4L496.9,233.9L498.0,233.4L499.1,232.9L500.2,232.4L501.3,231.9L502.4,231.4L503.5,230.9L504.6,230.5L505.7,230.1L506.7,229.7L507.8,229.3L508.9,228.9L510.0,228.5L511.1,228.2L512.2,227.9L513.3,227.6L514.4,227.4L515.5,227.1L516.6,226.9L517.7,226.6L518.8,226.4L519.8,226.1L520.9,225.9L522.0,225.7L523.1,225.4L524.2,225.2L525.3,225.0L526.4,224.8L527.5,224.6L528.6,224.3L529.7,224.1L530.8,223.9L531.9,223.7L532.9,223.5L534.0,223.3L535.1,223.1L536.2,222.9L537.3,222.7L538.4,222.5L539.5,222.4L540.6,222.2L541.7,222.0L542.8,221.8L543.9,221.7L545.0,221.5L546.0,221.3L547.1,221.1L548.2,221.0L549.3,220.8L550.4,220.7L551.5,220.5L552.6,220.4L553.7,220.2L554.8,220.1L555.9,219.9L557.0,219.8L558.1,219.7L559.1,219.5L560.2,219.4L561.3,219.3L562.4,219.1L563.5,219.0L564.6,218.9L565.7,218.8L566.8,218.6L567.9,218.5L569.0,218.4L570.1,218.3L571.2,218.2L572.2,218.1L573.3,218.0L574.4,217.9L575.5,217.8L576.6,217.7L577.7,217.6L578.8,217.5L579.9,217.4L581.0,217.3L582.1,217.2L583.2,217.1L584.3,217.1L585.3,217.0L586.4,216.9L587.5,216.8L588.6,216.7L589.7,216.7L590.8,216.6L591.9,216.5L593.0,216.4L594.1,216.4L595.2,216.3L596.3,216.2L603.5,215.7L610.8,215.3L618.1,214.9L625.4,214.5L632.7,214.2L639.9,213.8L647.2,213.5L654.5,213.3L661.8,213.1L669.0,212.9L676.3,212.7L683.6,212.6L690.9,212.4L698.2,212.3L705.4,212.1L712.7,212.0L720.0,211.9L727.3,211.8L734.5,211.6L741.8,211.5L749.1,211.4L756.4,211.3L763.7,211.2L770.9,211.1L778.2,211.0L785.5,211.0L792.8,210.9L800.0,210.8L807.3,210.7L814.6,210.7L821.9,210.6L829.2,210.6L836.4,210.5L843.7,210.5L851.0,210.4L858.3,210.4L865.6,210.4L872.8,210.3L880.1,210.3L887.4,210.3L894.7,210.3L901.9,210.3L909.2,210.2L916.5,210.2L923.8,210.2L931.1,210.2L938.0,210.2"/>
<path stroke="#ff00ff" stroke-width="8" d="M257.5,1269.1L269.6,1269.1L270.7,1252.8L271.8,1236.7L272.9,1220.8L273.9,1205.1L275.0,1189.6L276.1,1174.5L277.2,1159.8L278.3,1145.4L279.4,1131.3L280.5,1117.2L281.6,1103.4L282.7,1089.6L283.8,1076.1L284.9,1062.7L286.0,1049.4L287.0,1036.4L288.1,1023.5L289.2,1010.8L290.3,998.3L291.4,985.9L292.5,973.8L293.6,961.9L294.7,950.2L295.8,938.6L296.9,927.2L298.0,915.9L299.1,904.6L300.1,893.4L301.2,882.4L302.3,871.4L303.4,860.6L304.5,849.9L305.6,839.4L306.7,829.0L307.8,818.7L308.9,808.7L310.0,798.8L311.1,789.0L312.2,779.5L313.2,770.2L314.3,761.0L315.4,752.1L316.5,743.4L317.6,735.0L318.7,726.9L319.8,719.2L320.9,711.7L322.0,704.5L323.1,697.4L324.2,690.4L325.3,683.2L326.4,676.0L327.4,668.8L328.5,661.6L329.6,654.3L330.7,647.1L331.8,639.9L332.9,632.7L334.0,625.6L335.1,618.5L336.2,611.4L337.3,604.5L338.4,597.5L339.5,590.7L340.5,584.0L341.6,577.4L342.7,570.8L343.8,564.4L344.9,558.2L346.0,552.0L347.1,545.9L348.2,539.9L349.3,533.8L350.4,527.8L351.5,521.8L352.6,515.9L353.6,510.0L354.7,504.2L355.8,498.4L356.9,492.7L358.0,487.0L359.1,481.5L360.2,476.0L361.3,470.6L362.4,465.3L363.5,460.1L364.6,455.0L365.7,450.0L366.7,445.2L367.8,440.4L368.9,435.8L370.0,431.3L371.1,427.0L372.2,422.7L373.3,418.6L374.4,414.5L375.5,410.5L376.6,406.5L377.7,402.6L378.8,398.8L379.8,395.0L380.9,391.3L382.0,387.6L383.1,384.0L384.2,380.5L385.3,377.1L386.4,373.7L387.5,370.4L388.6,367.2L389.7,364.1L390.8,361.0L391.9,358.0L392.9,355.1L394.0,352.3L395.1,349.6L396.2,347.0L397.3,344.4L398.4,342.0L399.5,339.6L400.6,337.3L401.7,335.0L402.8,332.8L403.9,330.6L405.0,328.5L406.0,326.5L407.1,324.5L408.2,322.5L409.3,320.6L410.4,318.7L411.5,316.9L412.6,315.1L413.7,313.3L414.8,311.5L415.9,309.8L417.0,308.1L418.1,306.4L419.1,304.8L420.2,303.2L421.3,301.6L422.4,300.0L423.5,298.4L424.6,296.8L425.7,295.2L426.8,293.7L427.9,292.2L429.0,290.6L430.1,289.1L431.2,287.7L432.2,286.2L433.3,284.8L434.4,283.4L435.5,282.0L436.6,280.7L437.7,279.4L438.8,278.2L439.9,276.9L441.0,275.8L442.1,274.6L443.2,273.5L444.3,272.5L445.3,271.5L446.4,270.5L447.5,269.6L448.6,268.6L449.7,267.7L450.8,266.8L451.9,266.0L453.0,265.1L454.1,264.2L455.2,263.4L456.3,262.6L457.4,261.7L458.4,260.9L459.5,260.2L460.6,259.4L461.7,258.6L462.8,257.9L463.9,257.1L465.0,256.4L466.1,255.7L467.2,255.0L468.3,254.3L469.4,253.6L470.5,253.0L471.5,252.3L472.6,251.6L473.7,251.0L474.8,250.4L475.9,249.7L477.0,249.1L478.1,248.5L479.2,247.9L480.3,247.3L481.4,246.7L482.5,246.2L483.6,245.6L484.6,245.0L485.7,244.5L486.8,243.9L487.9,243.4L489.0,242.8L490.1,242.3L491.2,241.7L492.3,241.2L493.4,240.6L494.5,240.1L495.6,239.6L496.7,239.0L497.7,238.5L498.8,238.0L499.9,237.5L501.0,237.0L502.1,236.6L503.2,236.1L504.3,235.6L505.4,235.2L506.5,234.8L507.6,234.4L508.7,234.0L509.8,233.7L510.8,233.3L511.9,233.0L513.0,232.7L514.1,232.5L515.2,232.2L516.3,232.0L517.4,231.7L518.5,231.5L519.6,231.3L520.7,231.0L521.8,230.8L522.9,230.6L523.9,230.4L525.0,230.1L526.1,229.9L527.2,229.7L528.3,229.5L529.4,229.3L530.5,229.1L531.6,228.9L532.7,228.7L533.8,228.5L534.9,228.3L536.0,228.1L537.0,227.9L538.1,227.7L539.2,227.6L540.3,227.4L541.4,227.2L542.5,227.0L543.6,226.9L544.7,226.7L545.8,226.5L546.9,226.4L548.0,226.2L549.1,226.1L550.1,225.9L551.2,225.8L552.3,225.6L553.4,225.5L554.5,225.3L555.6,225.2L556.7,225.1L557.8,224.9L558.9,224.8L560.0,224.7L561.1,224.5L562.2,224.4L563.2,224.3L564.3,224.2L565.4,224.0L566.5,223.9L567.6,223.8L568.7,223.7L569.8,223.6L570.9,223.5L572.0,223.4L573.1,223.3L574.2,223.2L575.3,223.1L576.3,223.0L577.4,222.9L578.5,222.8L579.6,222.7L580.7,222.7L581.8,222.6L582.9,222.5L584.0,222.4L585.1,222.3L586.2,222.3L587.3,222.2L588.4,222.1L589.5,222.0L590.5,222.0L591.6,221.9L592.7,221.8L593.8,221.8L594.9,221.7L596.0,221.6L597.1,221.6L604.4,221.1L611.6,220.7L618.9,220.3L626.2,220.0L633.5,219.7L640.8,219.4L648.0,219.1L655.3,218.9L662.6,218.7L669.9,218.5L677.1,218.4L684.4,218.2L691.7,218.1L699.0,218.0L706.3,217.9L713.5,217.8L720.8,217.6L728.1,217.5L735.4,217.4L742.7,217.4L749.9,217.3L757.2,217.2L764.5,217.1L771.8,217.0L779.0,216.9L786.3,216.9L793.6,216.8L800.9,216.8L808.2,216.7L815.4,216.6L822.7,216.6L830.0,216.6L837.3,216.5L844.5,216.5L851.8,216.5L859.1,216.4L866.4,216.4L873.7,216.4L880.9,216.4L888.2,216.4L895.5,216.4L902.8,216.4L910.0,216.3L917.3,216.3L924.6,216.3L931.9,216.3L939.2,216.3L946.4,216.3L953.7,216.3L961.0,216.3L968.3,216.3L975.5,216.2L982.8,216.2L990.1,216.2L997.4,216.2L1004.7,216.2L1011.9,216.2L1019.2,216.2L1026.5,216.2L1033.8,216.2L1041.0,216.2L1048.3,216.2L1055.6,216.1L1062.9,216.1L1070.2,216.1L1077.4,216.1L1084.7,216.1L1092.0,216.1L1099.3,216.1L1106.6,216.1L1113.8,216.1L1121.1,216.1L1128.4,216.1L1135.7,216.1L1142.9,216.1L1150.2,216.1L1157.5,216.1L1164.8,216.1L1172.1,216.1L1179.3,216.1L1186.6,216.1L1193.9,216.0L1201.2,216.0L1208.4,216.0L1215.7,216.0L1223.0,216.0L1223.3,216.0"/>
<path stroke="#ff00ff" stroke-width="8" d="M257.5,1269.1L270.5,1269.1L271.6,1252.8L272.7,1236.6L273.8,1220.6L274.9,1204.9L276.0,1189.5L277.0,1174.3L278.1,1159.6L279.2,1145.2L280.3,1131.0L281.4,1117.0L282.5,1103.1L283.6,1089.3L284.7,1075.7L285.8,1062.3L286.9,1049.1L288.0,1036.0L289.1,1023.1L290.1,1010.4L291.2,997.9L292.3,985.5L293.4,973.4L294.5,961.5L295.6,949.8L296.7,938.3L297.8,926.8L298.9,915.4L300.0,904.2L301.1,893.0L302.2,881.9L303.2,871.0L304.3,860.2L305.4,849.5L306.5,838.9L307.6,828.6L308.7,818.3L309.8,808.3L310.9,798.4L312.0,788.7L313.1,779.2L314.2,769.9L315.3,760.9L316.3,752.0L317.4,743.4L318.5,735.0L319.6,727.1L320.7,719.5L321.8,712.2L322.9,705.0L324.0,697.9L325.1,690.8L326.2,683.6L327.3,676.3L328.4,669.1L329.4,661.8L330.5,654.5L331.6,647.3L332.7,640.1L333.8,632.9L334.9,625.7L336.0,618.6L337.1,611.6L338.2,604.6L339.3,597.7L340.4,590.9L341.5,584.2L342.5,577.6L343.6,571.2L344.7,564.8L345.8,558.6L346.9,552.5L348.0,546.4L349.1,540.3L350.2,534.2L351.3,528.2L352.4,522.2L353.5,516.3L354.6,510.4L355.6,504.6L356.7,498.9L357.8,493.2L358.9,487.6L360.0,482.1L361.1,476.6L362.2,471.3L363.3,466.0L364.4,460.9L365.5,455.9L366.6,451.0L367.7,446.2L368.7,441.6L369.8,437.0L370.9,432.7L372.0,428.4L373.1,424.3L374.2,420.2L375.3,416.1L376.4,412.1L377.5,408.2L378.6,404.3L379.7,400.5L380.8,396.8L381.8,393.1L382.9,389.5L384.0,386.0L385.1,382.5L386.2,379.1L387.3,375.8L388.4,372.6L389.5,369.4L390.6,366.4L391.7,363.4L392.8,360.5L393.9,357.7L394.9,355.0L396.0,352.3L397.1,349.8L398.2,347.4L399.3,345.0L400.4,342.6L401.5,340.4L402.6,338.2L403.7,336.0L404.8,333.9L405.9,331.8L407.0,329.8L408.0,327.9L409.1,325.9L410.2,324.0L411.3,322.2L412.4,320.4L413.5,318.6L414.6,316.8L415.7,315.1L416.8,313.4L417.9,311.7L419.0,310.1L420.1,308.4L421.1,306.8L422.2,305.2L423.3,303.6L424.4,302.0L425.5,300.5L426.6,298.9L427.7,297.4L428.8,295.8L429.9,294.3L431.0,292.9L432.1,291.4L433.2,290.0L434.2,288.6L435.3,287.2L436.4,285.9L437.5,284.6L438.6,283.4L439.7,282.2L440.8,281.0L441.9,279.9L443.0,278.8L444.1,277.8L445.2,276.8L446.3,275.8L447.3,274.9L448.4,274.0L449.5,273.0L450.6,272.1L451.7,271.3L452.8,270.4L453.9,269.5L455.0,268.7L456.1,267.9L457.2,267.0L458.3,266.2L459.4,265.5L460.4,264.7L461.5,263.9L462.6,263.2L463.7,262.4L464.8,261.7L465.9,261.0L467.0,260.3L468.1,259.6L469.2,258.9L470.3,258.2L471.4,257.6L472.5,256.9L473.5,256.3L474.6,255.6L475.7,255.0L476.8,254.4L477.9,253.8L479.0,253.2L480.1,252.6L481.2,252.0L482.3,251.4L483.4,250.8L484.5,250.2L485.6,249.7L486.6,249.1L487.7,248.6L488.8,248.0L489.9,247.4L491.0,246.9L492.1,246.3L493.2,245.8L494.3,245.2L495.4,244.7L496.5,244.2L497.6,243.7L498.7,243.2L499.7,242.7L500.8,242.2L501.9,241.7L503.0,241.3L504.1,240.8L505.2,240.4L506.3,240.0L507.4,239.6L508.5,239.3L509.6,238.9L510.7,238.6L511.8,238.3L512.8,238.1L513.9,237.8L515.0,237.6L516.1,237.3L517.2,237.1L518.3,236.8L519.4,236.6L520.5,236.4L521.6,236.1L522.7,235.9L523.8,235.7L524.9,235.4L526.0,235.2L527.0,235.0L528.1,234.8L529.2,234.6L530.3,234.4L531.4,234.2L532.5,234.0L533.6,233.8L534.7,233.6L535.8,233.4L536.9,233.2L538.0,233.0L539.1,232.8L540.1,232.6L541.2,232.5L542.3,232.3L543.4,232.1L544.5,231.9L545.6,231.8L546.7,231.6L547.8,231.5L548.9,231.3L550.0,231.1L551.1,231.0L552.2,230.8L553.2,230.7L554.3,230.5L555.4,230.4L556.5,230.3L557.6,230.1L558.7,230.0L559.8,229.9L560.9,229.7L562.0,229.6L563.1,229.5L564.2,229.4L565.3,229.2L566.3,229.1L567.4,229.0L568.5,228.9L569.6,228.8L570.7,228.7L571.8,228.6L572.9,228.5L574.0,228.4L575.1,228.3L576.2,228.2L577.3,228.1L578.4,228.0L579.4,227.9L580.5,227.8L581.6,227.7L582.7,227.7L583.8,227.6L584.9,227.5L586.0,227.4L587.1,227.3L588.2,227.3L589.3,227.2L590.4,227.1L591.5,227.0L592.5,226.9L593.6,226.9L594.7,226.8L595.8,226.7L596.9,226.7L598.0,226.6L605.3,226.1L612.6,225.7L619.8,225.3L627.1,224.9L634.4,224.6L641.7,224.3L648.9,224.0L656.2,223.7L663.5,223.5L670.8,223.3L678.1,223.2L685.3,223.0L692.6,222.9L699.9,222.7L707.2,222.6L714.5,222.5L721.7,222.3L729.0,222.2L736.3,222.1L743.6,222.0L750.8,221.9L758.1,221.8L765.4,221.7L772.7,221.6L780.0,221.5L787.2,221.4L794.5,221.3L801.8,221.2L809.1,221.2L816.3,221.1L823.6,221.0L830.9,221.0L838.2,220.9L845.5,220.9L852.7,220.9L860.0,220.8L867.3,220.8L874.6,220.8L881.8,220.8L889.1,220.7L896.4,220.7L903.7,220.7L911.0,220.7L918.2,220.6L925.5,220.6L932.8,220.6L940.1,220.6L947.3,220.5L954.6,220.5L961.9,220.5L969.2,220.5L976.5,220.5L983.7,220.4L991.0,220.4L998.3,220.4L1005.6,220.4L1012.8,220.4L1020.1,220.4L1027.4,220.3L1034.7,220.3L1042.0,220.3L1049.2,220.3L1056.5,220.3L1063.8,220.3L1071.1,220.3L1078.4,220.2L1085.6,220.2L1092.9,220.2L1100.2,220.2L1107.5,220.2L1114.5,220.2"/>
<path stroke="#ff00ff" stroke-width="8" d="M257.5,1211.1L258.4,1269.1L259.3,1211.1L260.2,1269.1L261.1,1211.1L262.0,1269.1L263.0,1211.1L263.9,1269.1L264.8,1211.1L265.7,1269.1L266.6,1211.1L267.5,1269.1L268.4,1211.1L269.3,1269.1L270.2,1211.1L271.1,1269.1L272.1,1211.1L273.0,1269.1L273.9,1211.1L274.8,1269.1L275.7,1211.1L276.6,1269.1L277.5,1211.1L278.4,1269.1L279.3,1211.1L280.2,1269.1L281.2,1211.1L282.1,1269.1L273.7,1269.1L274.8,1253.5L275.9,1238.1L277.0,1222.9L278.1,1207.9L279.2,1193.1L280.3,1178.7L281.4,1164.6L282.5,1150.8L283.6,1137.3L284.7,1123.8L285.8,1110.5L286.8,1097.4L287.9,1084.4L289.0,1071.5L290.1,1058.8L291.2,1046.3L292.3,1033.9L293.4,1021.7L294.5,1009.6L295.6,997.8L296.7,986.1L297.8,974.6L298.9,963.3L299.9,952.2L301.0,941.3L302.1,930.3L303.2,919.5L304.3,908.8L305.4,898.1L306.5,887.6L307.6,877.1L308.7,866.8L309.8,856.6L310.9,846.6L312.0,836.7L313.0,826.9L314.1,817.3L315.2,807.9L316.3,798.6L317.4,789.6L318.5,780.7L319.6,772.0L320.7,763.5L321.8,755.3L322.9,747.3L324.0,739.7L325.1,732.4L326.1,725.4L327.2,718.5L328.3,711.7L329.4,704.8L330.5,697.9L331.6,690.9L332.7,683.9L333.8,676.9L334.9,670.0L336.0,663.0L337.1,656.0L338.2,649.1L339.2,642.2L340.3,635.3L341.4,628.5L342.5,621.8L343.6,615.2L344.7,608.6L345.8,602.1L346.9,595.7L348.0,589.4L349.1,583.3L350.2,577.2L351.3,571.3L352.3,565.4L353.4,559.5L354.5,553.6L355.6,547.8L356.7,542.0L357.8,536.3L358.9,530.6L360.0,524.9L361.1,519.3L362.2,513.8L363.3,508.3L364.4,502.9L365.4,497.6L366.5,492.4L367.6,487.3L368.7,482.2L369.8,477.3L370.9,472.4L372.0,467.7L373.1,463.1L374.2,458.6L375.3,454.2L376.4,450.0L377.5,445.9L378.5,441.9L379.6,437.9L380.7,433.9L381.8,430.1L382.9,426.3L384.0,422.5L385.1,418.8L386.2,415.1L387.3,411.6L388.4,408.1L389.5,404.6L390.6,401.2L391.6,397.9L392.7,394.7L393.8,391.5L394.9,388.4L396.0,385.4L397.1,382.5L398.2,379.6L399.3,376.8L400.4,374.2L401.5,371.5L402.6,369.0L403.7,366.6L404.7,364.2L405.8,361.9L406.9,359.7L408.0,357.5L409.1,355.3L410.2,353.2L411.3,351.2L412.4,349.2L413.5,347.2L414.6,345.3L415.7,343.4L416.8,341.6L417.8,339.7L418.9,338.0L420.0,336.2L421.1,334.5L422.2,332.8L423.3,331.1L424.4,329.5L425.5,327.9L426.6,326.2L427.7,324.6L428.8,323.1L429.9,321.5L430.9,319.9L432.0,318.3L433.1,316.8L434.2,315.3L435.3,313.8L436.4,312.3L437.5,310.8L438.6,309.4L439.7,308.0L440.8,306.6L441.9,305.2L443.0,303.9L444.0,302.6L445.1,301.4L446.2,300.2L447.3,299.0L448.4,297.9L449.5,296.8L450.6,295.7L451.7,294.7L452.8,293.8L453.9,292.8L455.0,291.9L456.1,290.9L457.1,290.0L458.2,289.1L459.3,288.2L460.4,287.4L461.5,286.5L462.6,285.7L463.7,284.8L464.8,284.0L465.9,283.2L467.0,282.4L468.1,281.6L469.2,280.9L470.2,280.1L471.3,279.4L472.4,278.6L473.5,277.9L474.6,277.2L475.7,276.5L476.8,275.8L477.9,275.1L479.0,274.4L480.1,273.8L481.2,273.1L482.3,272.5L483.3,271.8L484.4,271.2L485.5,270.6L486.6,270.0L487.7,269.3L488.8,268.7L489.9,268.1L491.0,267.5L492.1,267.0L493.2,266.4L494.3,265.8L495.4,265.2L496.4,264.7L497.5,264.1L498.6,263.5L499.7,263.0L500.8,262.4L501.9,261.8L503.0,261.3L504.1,260.7L505.2,260.2L506.3,259.7L507.4,259.2L508.5,258.7L509.5,258.2L510.6,257.7L511.7,257.2L512.8,256.8L513.9,256.4L515.0,256.0L516.1,255.6L517.2,255.2L518.3,254.8L519.4,254.5L520.5,254.2L521.6,253.9L522.6,253.7L523.7,253.4L524.8,253.1L525.9,252.8L527.0,252.6L528.1,252.3L529.2,252.1L530.3,251.8L531.4,251.6L532.5,251.3L533.6,251.1L534.7,250.8L535.7,250.6L536.8,250.3L537.9,250.1L539.0,249.9L540.1,249.7L541.2,249.4L542.3,249.2L543.4,249.0L544.5,248.8L545.6,248.6L546.7,248.4L547.8,248.2L548.9,248.0L549.9,247.8L551.0,247.6L552.1,247.4L553.2,247.2L554.3,247.0L555.4,246.8L556.5,246.6L557.6,246.4L558.7,246.2L559.8,246.1L560.9,245.9L562.0,245.7L563.0,245.6L564.1,245.4L565.2,245.2L566.3,245.1L567.4,244.9L568.5,244.8L569.6,244.6L570.7,244.5L571.8,244.3L572.9,244.2L574.0,244.0L575.1,243.9L576.1,243.7L577.2,243.6L578.3,243.5L579.4,243.3L580.5,243.2L581.6,243.1L582.7,243.0L583.8,242.8L584.9,242.7L586.0,242.6L587.1,242.5L588.2,242.4L589.2,242.3L590.3,242.2L591.4,242.1L592.5,242.0L593.6,241.9L594.7,241.8L595.8,241.7L596.9,241.6L598.0,241.5L599.1,241.4L600.2,241.3L601.3,241.2L608.5,240.5L615.8,239.9L623.1,239.4L630.4,238.8L637.6,238.4L644.9,237.9L652.2,237.5L659.5,237.1L666.8,236.7L674.0,236.4L681.3,236.1L688.6,235.8L695.9,235.6L703.1,235.3L710.4,235.1L717.7,234.8L719.7,234.8"/>
<path stroke="#0000ff" stroke-width="2.5" d="M527.7,224.5L528.8,224.3L529.9,224.2L531.0,224.1L532.1,223.9L533.2,223.8L534.3,223.7L535.4,223.5L536.4,223.4L537.5,223.3L538.6,223.2L539.7,223.0L540.8,222.9L541.9,222.8L543.0,222.7L544.1,222.6L545.2,222.4L546.3,222.3L547.4,222.2L548.5,222.1L549.5,222.0L550.6,221.9L551.7,221.8L552.8,221.6L553.9,221.5L555.0,221.4L556.1,221.3L557.2,221.2L558.3,221.1L559.4,221.0L560.5,220.9L561.6,220.8L562.6,220.7L563.7,220.6L564.8,220.5L565.9,220.4L567.0,220.3L568.1,220.2L569.2,220.2L570.3,220.1L571.4,220.0L572.5,219.9L573.6,219.8L574.7,219.7L575.7,219.6L576.8,219.6L577.9,219.5L579.0,219.4L580.1,219.3L581.2,219.2L582.3,219.2L583.4,219.1L584.5,219.0L585.6,218.9L586.7,218.9L587.8,218.8L588.8,218.7L589.9,218.7L591.0,218.6L592.1,218.5L593.2,218.5L594.3,218.4L595.4,218.3L596.5,218.3L597.6,218.2L598.7,218.2L599.8,218.1L600.9,218.1L601.9,218.0L603.0,217.9L604.1,217.9L605.2,217.8L606.3,217.8L607.4,217.7L614.7,217.4L622.0,217.0L629.2,216.7L636.5,216.3L643.8,216.0L651.1,215.7L658.4,215.4L665.6,215.2L672.9,214.9L680.2,214.6L687.5,214.4L694.7,214.2L702.0,213.9L709.3,213.7L716.6,213.5L723.9,213.4L731.1,213.2L738.4,213.0L745.7,212.9L753.0,212.7L760.2,212.6L767.5,212.5L774.8,212.3L782.1,212.2L789.4,212.1L796.6,212.0L803.9,211.8L811.2,211.7L818.5,211.6L825.7,211.5L833.0,211.4L840.3,211.3L847.6,211.2L854.9,211.1L862.1,211.0L869.4,210.9L876.7,210.9L884.0,210.8L891.2,210.7L898.5,210.6L905.8,210.5L913.1,210.5L920.4,210.4L927.6,210.3L934.9,210.3L942.2,210.2L949.5,210.1L956.8,210.1L964.0,210.0L971.3,209.9L978.6,209.9L985.9,209.8L988.9,209.8"/>
<path stroke="#800000" stroke-width="6.5" d="M257.5,1196.1L261.7,1196.1L262.8,1180.2L263.9,1164.4L265.0,1148.8L266.1,1133.5L267.2,1118.4L268.3,1103.7L269.4,1089.4L270.4,1075.4L271.5,1061.6L272.6,1047.9L273.7,1034.4L274.8,1021.0L275.9,1007.8L277.0,994.7L278.1,981.9L279.2,969.2L280.3,956.7L281.4,944.4L282.5,932.3L283.5,920.4L284.6,908.7L285.7,897.2L286.8,885.9L287.9,874.7L289.0,863.5L290.1,852.5L291.2,841.6L292.3,830.8L293.4,820.1L294.5,809.5L295.6,799.1L296.6,788.8L297.7,778.7L298.8,768.7L299.9,758.9L301.0,749.3L302.1,739.9L303.2,730.7L304.3,721.7L305.4,712.9L306.5,704.3L307.6,696.0L308.7,688.0L309.7,680.4L310.8,673.2L311.9,666.1L313.0,659.2L314.1,652.2L315.2,645.2L316.3,638.1L317.4,631.0L318.5,623.9L319.6,616.8L320.7,609.7L321.8,602.6L322.8,595.6L323.9,588.6L325.0,581.6L326.1,574.7L327.2,567.9L328.3,561.2L329.4,554.6L330.5,548.0L331.6,541.6L332.7,535.3L333.8,529.2L334.9,523.1L335.9,517.2L337.0,511.2L338.1,505.2L339.2,499.3L340.3,493.5L341.4,487.6L342.5,481.9L343.6,476.2L344.7,470.5L345.8,464.9L346.9,459.4L348.0,454.0L349.0,448.7L350.1,443.4L351.2,438.3L352.3,433.2L353.4,428.3L354.5,423.5L355.6,418.8L356.7,414.3L357.8,409.9L358.9,405.6L360.0,401.5L361.1,397.4L362.1,393.4L363.2,389.5L364.3,385.6L365.4,381.8L366.5,378.0L367.6,374.3L368.7,370.7L369.8,367.1L370.9,363.6L372.0,360.2L373.1,356.8L374.2,353.6L375.2,350.4L376.3,347.2L377.4,344.2L378.5,341.3L379.6,338.4L380.7,335.7L381.8,333.0L382.9,330.4L384.0,327.9L385.1,325.5L386.2,323.1L387.3,320.9L388.3,318.6L389.4,316.5L390.5,314.4L391.6,312.3L392.7,310.3L393.8,308.3L394.9,306.4L396.0,304.5L397.1,302.7L398.2,300.9L399.3,299.1L400.4,297.4L401.5,295.7L402.5,294.0L403.6,292.4L404.7,290.7L405.8,289.1L406.9,287.5L408.0,285.9L409.1,284.4L410.2,282.8L411.3,281.3L412.4,279.7L413.5,278.2L414.6,276.7L415.6,275.3L416.7,273.8L417.8,272.4L418.9,271.0L420.0,269.6L421.1,268.3L422.2,267.0L423.3,265.7L424.4,264.5L425.5,263.4L426.6,262.2L427.7,261.1L428.7,260.1L429.8,259.1L430.9,258.2L432.0,257.2L433.1,256.3L434.2,255.4L435.3,254.5L436.4,253.6L437.5,252.7L438.6,251.9L439.7,251.1L440.8,250.3L441.8,249.4L442.9,248.7L444.0,247.9L445.1,247.1L446.2,246.4L447.3,245.6L448.4,244.9L449.5,244.2L450.6,243.5L451.7,242.8L452.8,242.1L453.9,241.4L454.9,240.8L456.0,240.1L457.1,239.5L458.2,238.8L459.3,238.2L460.4,237.6L461.5,237.0L462.6,236.4L463.7,235.8L464.8,235.2L465.9,234.6L467.0,234.1L468.0,233.5L469.1,233.0L470.2,232.4L471.3,231.8L472.4,231.3L473.5,230.7L474.6,230.2L475.7,229.7L476.8,229.1L477.9,228.6L479.0,228.1L480.1,227.5L481.1,227.0L482.2,226.5L483.3,226.0L484.4,225.6L485.5,225.1L486.6,224.7L487.7,224.2L488.8,223.8L489.9,223.4L491.0,223.1L492.1,222.7L493.2,222.4L494.2,222.1L495.3,221.8L496.4,221.6L497.5,221.3L498.6,221.1L499.7,220.8L500.8,220.6L501.9,220.4L503.0,220.1L504.1,219.9L505.2,219.7L506.3,219.4L507.3,219.2L508.4,219.0L509.5,218.8L510.6,218.6L511.7,218.4L512.8,218.1L513.9,217.9L515.0,217.7L516.1,217.5L517.2,217.4L518.3,217.2L519.4,217.0L520.4,216.8L521.5,216.6L522.6,216.4L523.7,216.3L524.8,216.1L525.9,215.9L527.0,215.7L528.1,215.6L529.2,215.4L530.3,215.3L531.4,215.1L532.5,214.9L533.5,214.8L534.6,214.6L535.7,214.5L536.8,214.4L537.9,214.2L539.0,214.1L540.1,213.9L541.2,213.8L542.3,213.7L543.4,213.6L544.5,213.4L545.6,213.3L546.6,213.2L547.7,213.1L548.8,213.0L549.9,212.9L551.0,212.7L552.1,212.6L553.2,212.5L554.3,212.4L555.4,212.3L556.5,212.2L557.6,212.1L558.7,212.0L559.7,211.9L560.8,211.9L561.9,211.8L563.0,211.7L564.1,211.6L565.2,211.5L566.3,211.4L567.4,211.4L568.5,211.3L569.6,211.2L570.7,211.1L571.8,211.1L572.8,211.0L573.9,210.9L575.0,210.8L576.1,210.7L577.2,210.7L578.3,210.6L579.4,210.5L580.5,210.5L581.6,210.4L582.7,210.3L583.8,210.2L584.9,210.2L585.9,210.1L587.0,210.0L588.1,210.0L589.2,209.9L596.5,209.5L603.8,209.1L611.1,208.7L618.3,208.4L625.6,208.1L632.9,207.8L640.2,207.6L647.4,207.4L654.7,207.2L662.0,207.1L669.3,206.9L676.6,206.8L683.8,206.6L691.1,206.5L698.4,206.3L705.7,206.2L712.9,206.1L720.2,206.0L727.5,205.8L734.8,205.7L742.1,205.6L749.3,205.5L756.6,205.4L763.9,205.3L771.2,205.3L778.5,205.2L785.7,205.1L793.0,205.0L800.3,205.0L807.6,204.9L814.8,204.9L822.1,204.8L829.4,204.8L836.7,204.7L844.0,204.7L851.2,204.7L858.5,204.7L865.8,204.6L873.1,204.6L880.3,204.6L887.6,204.5L894.9,204.5L902.2,204.5L909.5,204.4L916.7,204.4L924.0,204.4L931.3,204.4L938.6,204.3L945.8,204.3L953.1,204.3L960.4,204.3L967.7,204.3L975.0,204.2L982.2,204.2L989.5,204.2L996.8,204.2L1004.1,204.2L1011.3,204.2L1018.6,204.1L1025.9,204.1L1033.2,204.1L1040.5,204.1L1047.7,204.1L1055.0,204.1L1062.3,204.1L1069.6,204.1L1076.8,204.0L1084.1,204.0L1091.4,204.0L1098.7,204.0L1106.0,204.0L1113.2,204.0L1120.5,204.0L1127.8,204.0L1135.1,204.1L1142.4,204.1L1149.6,204.1L1156.9,204.1L1164.2,204.1L1171.5,204.1L1178.7,204.2L1186.0,204.2L1193.3,204.2L1200.6,204.3L1207.9,204.3L1215.1,204.3L1222.4,204.4L1229.7,204.4L1237.0,204.5L1244.2,204.5L1251.5,204.6L1258.8,204.7L1266.1,204.7L1273.4,204.8L1280.6,204.9L1287.9,204.9L1295.2,205.0L1302.5,205.1L1309.7,205.1L1317.0,205.2L1324.3,205.3L1331.6,205.4L1338.9,205.4L1346.1,205.5L1353.4,205.6L1360.7,205.6L1368.0,205.7L1375.2,205.8L1382.5,205.8L1389.8,205.9L1397.1,205.9L1404.4,205.9L1411.6,206.0L1418.9,206.0L1426.2,206.0L1433.5,206.0L1440.7,206.0L1448.0,206.0L1455.3,206.0L1462.6,206.0L1469.9,205.9L1477.1,205.9L1484.4,205.9L1491.7,205.8L1499.0,205.8L1506.3,205.7L1513.5,205.7L1520.8,205.6L1528.1,205.5L1535.4,205.4L1542.6,205.3L1549.9,205.2L1557.2,205.1L1564.5,205.0L1571.8,204.9L1579.0,204.8L1586.3,204.7L1593.6,204.6L1600.9,204.5L1608.1,204.4L1615.4,204.3L1622.7,204.2L1630.0,204.1L1637.3,204.0L1644.5,204.0L1651.8,203.9L1659.1,203.8L1666.4,203.7L1673.6,203.7L1680.9,203.6L1688.2,203.5L1695.5,203.5L1702.8,203.4L1710.0,203.3L1717.3,203.3L1724.6,203.2L1731.9,203.2L1739.1,203.1L1746.4,203.1L1753.7,203.1L1761.0,203.0L1768.3,203.0L1775.5,202.9L1782.8,202.9L1790.1,202.9L1797.4,202.8L1804.6,202.8L1811.9,202.8L1819.2,202.7L1826.5,202.7L1833.8,202.7L1841.0,202.6L1848.3,202.6L1855.6,202.6L1862.9,202.6L1870.2,202.5L1877.4,202.5L1884.7,202.5L1892.0,202.5L1899.3,202.4L1906.5,202.4L1913.8,202.4L1921.1,202.4L1928.4,202.3L1935.7,202.3L1942.9,202.3L1950.2,202.2L1957.5,202.2L1964.8,202.2L1972.0,202.2L1979.3,202.1L1986.6,202.1L1993.9,202.1L2001.2,202.1L2008.4,202.0L2015.7,202.0L2023.0,202.0L2030.3,202.0L2037.5,201.9L2044.8,201.9L2052.1,201.9L2059.4,201.9L2066.7,201.8L2073.9,201.8L2078.8,201.8"/>
<path stroke="#800000" stroke-width="7" d="M257.5,1196.1L261.8,1196.1L262.9,1179.8L264.0,1163.6L265.1,1147.6L266.2,1131.9L267.3,1116.5L268.4,1101.5L269.5,1086.9L270.6,1072.6L271.7,1058.4L272.8,1044.4L273.9,1030.6L274.9,1016.9L276.0,1003.4L277.1,990.1L278.2,977.0L279.3,964.1L280.4,951.3L281.5,938.8L282.6,926.5L283.7,914.3L284.8,902.5L285.9,890.8L287.0,879.2L288.0,867.8L289.1,856.4L290.2,845.2L291.3,834.0L292.4,823.0L293.5,812.1L294.6,801.4L295.7,790.8L296.8,780.3L297.9,770.1L299.0,760.0L300.1,750.1L301.1,740.5L302.2,731.0L303.3,721.8L304.4,712.8L305.5,704.0L306.6,695.5L307.7,687.4L308.8,679.7L309.9,672.3L311.0,665.1L312.1,657.9L313.2,650.7L314.2,643.5L315.3,636.1L316.4,628.8L317.5,621.5L318.6,614.2L319.7,606.8L320.8,599.6L321.9,592.3L323.0,585.2L324.1,578.0L325.2,571.0L326.3,564.0L327.3,557.2L328.4,550.4L329.5,543.8L330.6,537.3L331.7,530.9L332.8,524.7L333.9,518.5L335.0,512.3L336.1,506.2L337.2,500.1L338.3,494.0L339.4,488.0L340.4,482.1L341.5,476.2L342.6,470.3L343.7,464.6L344.8,458.9L345.9,453.3L347.0,447.9L348.1,442.5L349.2,437.2L350.3,432.1L351.4,427.0L352.5,422.1L353.5,417.4L354.6,412.7L355.7,408.3L356.8,403.9L357.9,399.7L359.0,395.6L360.1,391.4L361.2,387.4L362.3,383.4L363.4,379.5L364.5,375.7L365.6,371.9L366.6,368.2L367.7,364.5L368.8,361.0L369.9,357.5L371.0,354.1L372.1,350.8L373.2,347.6L374.3,344.5L375.4,341.4L376.5,338.5L377.6,335.6L378.7,332.9L379.7,330.2L380.8,327.6L381.9,325.2L383.0,322.7L384.1,320.4L385.2,318.1L386.3,315.9L387.4,313.7L388.5,311.6L389.6,309.5L390.7,307.5L391.8,305.5L392.8,303.6L393.9,301.7L395.0,299.8L396.1,298.0L397.2,296.2L398.3,294.4L399.4,292.7L400.5,291.0L401.6,289.3L402.7,287.6L403.8,286.0L404.9,284.3L405.9,282.7L407.0,281.1L408.1,279.5L409.2,277.9L410.3,276.3L411.4,274.8L412.5,273.3L413.6,271.8L414.7,270.3L415.8,268.9L416.9,267.5L418.0,266.2L419.0,264.9L420.1,263.6L421.2,262.4L422.3,261.2L423.4,260.1L424.5,259.0L425.6,258.0L426.7,257.0L427.8,256.0L428.9,255.0L430.0,254.1L431.1,253.2L432.2,252.2L433.2,251.3L434.3,250.5L435.4,249.6L436.5,248.7L437.6,247.9L438.7,247.1L439.8,246.2L440.9,245.4L442.0,244.7L443.1,243.9L444.2,243.1L445.3,242.4L446.3,241.6L447.4,240.9L448.5,240.2L449.6,239.5L450.7,238.8L451.8,238.1L452.9,237.4L454.0,236.8L455.1,236.1L456.2,235.5L457.3,234.8L458.4,234.2L459.4,233.6L460.5,233.0L461.6,232.3L462.7,231.7L463.8,231.1L464.9,230.6L466.0,230.0L467.1,229.4L468.2,228.8L469.3,228.2L470.4,227.6L471.5,227.0L472.5,226.5L473.6,225.9L474.7,225.4L475.8,224.8L476.9,224.3L478.0,223.8L479.1,223.3L480.2,222.8L481.3,222.4L482.4,221.9L483.5,221.5L484.6,221.1L485.6,220.7L486.7,220.4L487.8,220.1L488.9,219.8L490.0,219.5L491.1,219.2L492.2,218.9L493.3,218.7L494.4,218.4L495.5,218.1L496.6,217.9L497.7,217.6L498.7,217.4L499.8,217.1L500.9,216.9L502.0,216.6L503.1,216.4L504.2,216.1L505.3,215.9L506.4,215.7L507.5,215.4L508.6,215.2L509.7,215.0L510.8,214.8L511.8,214.6L512.9,214.4L514.0,214.1L515.1,213.9L516.2,213.7L517.3,213.5L518.4,213.3L519.5,213.2L520.6,213.0L521.7,212.8L522.8,212.6L523.9,212.4L524.9,212.2L526.0,212.1L527.1,211.9L528.2,211.7L529.3,211.6L530.4,211.4L531.5,211.2L532.6,211.1L533.7,210.9L534.8,210.8L535.9,210.6L537.0,210.5L538.0,210.4L539.1,210.2L540.2,210.1L541.3,209.9L542.4,209.8L543.5,209.7L544.6,209.6L545.7,209.4L546.8,209.3L547.9,209.2L549.0,209.1L550.1,209.0L551.1,208.9L552.2,208.7L553.3,208.6L554.4,208.5L555.5,208.4L556.6,208.3L557.7,208.2L558.8,208.1L559.9,208.0L561.0,207.9L562.1,207.8L563.2,207.7L564.2,207.6L565.3,207.5L566.4,207.5L567.5,207.4L568.6,207.3L569.7,207.2L570.8,207.1L571.9,207.0L573.0,206.9L574.1,206.8L575.2,206.7L576.3,206.6L577.3,206.6L578.4,206.5L579.5,206.4L580.6,206.3L581.7,206.2L582.8,206.1L583.9,206.1L585.0,206.0L586.1,205.9L587.2,205.8L588.3,205.7L589.4,205.7L596.6,205.2L603.9,204.7L611.2,204.3L618.5,203.9L625.7,203.6L633.0,203.3L640.3,203.0L647.6,202.8L654.9,202.5L662.1,202.3L669.4,202.0L676.7,201.8L684.0,201.6L691.2,201.4L698.5,201.2L705.8,201.0L713.1,200.8L720.4,200.6L727.6,200.5L734.9,200.3L742.2,200.2L749.5,200.0L756.7,199.9L764.0,199.7L771.3,199.6L778.6,199.5L785.9,199.4L793.1,199.3L800.4,199.2L807.7,199.1L815.0,199.0L822.3,198.9L829.5,198.9L836.8,198.8L844.1,198.7L851.4,198.7L858.6,198.6L865.9,198.5L873.2,198.5L880.5,198.4L887.8,198.3L895.0,198.3L902.3,198.2L909.6,198.2L916.9,198.1L924.1,198.1L931.4,198.0L938.7,198.0L946.0,197.9L953.3,197.9L960.5,197.8L967.8,197.8L975.1,197.7L982.4,197.7L989.6,197.7L996.9,197.6L1004.2,197.6L1011.5,197.5L1018.8,197.5L1026.0,197.5L1033.3,197.4L1040.6,197.4L1047.9,197.4L1055.1,197.3L1062.4,197.3L1069.7,197.3L1077.0,197.3L1084.3,197.2L1091.5,197.2L1098.8,197.2L1106.1,197.2L1110.1,197.1"/>
<path stroke="#800000" stroke-width="8" d="M257.5,1196.1L271.6,1196.1L272.7,1181.5L273.8,1166.9L274.9,1152.6L275.9,1138.4L277.0,1124.5L278.1,1110.8L279.2,1097.5L280.3,1084.5L281.4,1071.7L282.5,1059.0L283.6,1046.5L284.7,1034.0L285.8,1021.8L286.9,1009.6L288.0,997.6L289.0,985.7L290.1,974.0L291.2,962.5L292.3,951.1L293.4,939.8L294.5,928.8L295.6,917.8L296.7,907.1L297.8,896.6L298.9,886.2L300.0,875.9L301.1,865.6L302.1,855.5L303.2,845.4L304.3,835.4L305.4,825.6L306.5,815.8L307.6,806.1L308.7,796.6L309.8,787.1L310.9,777.8L312.0,768.6L313.1,759.6L314.2,750.7L315.2,742.0L316.3,733.5L317.4,725.1L318.5,716.9L319.6,708.9L320.7,701.0L321.8,693.4L322.9,686.1L324.0,679.1L325.1,672.4L326.2,665.8L327.3,659.4L328.3,653.1L329.4,646.7L330.5,640.2L331.6,633.7L332.7,627.2L333.8,620.7L334.9,614.2L336.0,607.7L337.1,601.3L338.2,594.8L339.3,588.4L340.4,582.0L341.4,575.7L342.5,569.4L343.6,563.2L344.7,557.0L345.8,551.0L346.9,545.0L348.0,539.1L349.1,533.3L350.2,527.6L351.3,522.1L352.4,516.6L353.5,511.1L354.5,505.7L355.6,500.2L356.7,494.8L357.8,489.5L358.9,484.2L360.0,478.9L361.1,473.6L362.2,468.5L363.3,463.3L364.4,458.3L365.5,453.3L366.6,448.3L367.6,443.5L368.7,438.7L369.8,434.0L370.9,429.4L372.0,424.9L373.1,420.5L374.2,416.2L375.3,412.0L376.4,407.9L377.5,404.0L378.6,400.1L379.7,396.4L380.7,392.7L381.8,389.0L382.9,385.4L384.0,381.9L385.1,378.4L386.2,374.9L387.3,371.5L388.4,368.2L389.5,364.9L390.6,361.7L391.7,358.5L392.8,355.4L393.8,352.4L394.9,349.4L396.0,346.5L397.1,343.6L398.2,340.8L399.3,338.1L400.4,335.5L401.5,332.9L402.6,330.5L403.7,328.1L404.8,325.7L405.9,323.5L406.9,321.3L408.0,319.2L409.1,317.1L410.2,315.0L411.3,313.1L412.4,311.1L413.5,309.2L414.6,307.4L415.7,305.6L416.8,303.8L417.9,302.1L419.0,300.4L420.0,298.7L421.1,297.1L422.2,295.5L423.3,293.9L424.4,292.3L425.5,290.8L426.6,289.3L427.7,287.8L428.8,286.3L429.9,284.8L431.0,283.4L432.1,282.0L433.1,280.5L434.2,279.1L435.3,277.7L436.4,276.3L437.5,274.9L438.6,273.6L439.7,272.2L440.8,270.9L441.9,269.6L443.0,268.3L444.1,267.1L445.2,265.8L446.2,264.6L447.3,263.4L448.4,262.3L449.5,261.2L450.6,260.1L451.7,259.0L452.8,258.0L453.9,257.1L455.0,256.1L456.1,255.3L457.2,254.4L458.3,253.5L459.3,252.7L460.4,251.9L461.5,251.1L462.6,250.3L463.7,249.5L464.8,248.7L465.9,248.0L467.0,247.2L468.1,246.5L469.2,245.8L470.3,245.1L471.4,244.4L472.4,243.7L473.5,243.0L474.6,242.3L475.7,241.7L476.8,241.0L477.9,240.4L479.0,239.7L480.1,239.1L481.2,238.5L482.3,237.9L483.4,237.3L484.5,236.7L485.5,236.2L486.6,235.6L487.7,235.0L488.8,234.5L489.9,233.9L491.0,233.4L492.1,232.8L493.2,232.3L494.3,231.8L495.4,231.3L496.5,230.8L497.6,230.3L498.6,229.7L499.7,229.3L500.8,228.8L501.9,228.3L503.0,227.8L504.1,227.3L505.2,226.8L506.3,226.3L507.4,225.8L508.5,225.3L509.6,224.9L510.7,224.4L511.7,223.9L512.8,223.5L513.9,223.1L515.0,222.6L516.1,222.2L517.2,221.8L518.3,221.4L519.4,221.0L520.5,220.7L521.6,220.3L522.7,220.0L523.8,219.7L524.8,219.4L525.9,219.1L527.0,218.8L528.1,218.6L529.2,218.4L530.3,218.2L531.4,218.0L532.5,217.7L533.6,217.5L534.7,217.3L535.8,217.1L536.9,216.9L537.9,216.7L539.0,216.5L540.1,216.3L541.2,216.1L542.3,215.9L543.4,215.7L544.5,215.6L545.6,215.4L546.7,215.2L547.8,215.0L548.9,214.8L550.0,214.7L551.1,214.5L552.1,214.3L553.2,214.2L554.3,214.0L555.4,213.9L556.5,213.7L557.6,213.5L558.7,213.4L559.8,213.2L560.9,213.1L562.0,212.9L563.1,212.8L564.2,212.7L565.2,212.5L566.3,212.4L567.4,212.3L568.5,212.1L569.6,212.0L570.7,211.9L571.8,211.7L572.9,211.6L574.0,211.5L575.1,211.4L576.2,211.3L577.3,211.2L578.3,211.0L579.4,210.9L580.5,210.8L581.6,210.7L582.7,210.6L583.8,210.5L584.9,210.4L586.0,210.3L587.1,210.2L588.2,210.1L589.3,210.0L590.4,210.0L591.4,209.9L592.5,209.8L593.6,209.7L594.7,209.6L595.8,209.5L596.9,209.5L598.0,209.4L599.1,209.3L606.4,208.9L613.6,208.4L620.9,208.0L628.2,207.7L635.5,207.3L642.8,207.0L650.0,206.7L657.3,206.4L664.6,206.2L671.9,205.9L679.1,205.7L686.4,205.6L693.7,205.4L701.0,205.3L708.3,205.2L715.5,205.1L722.8,205.0L730.1,204.9L737.4,204.8L744.6,204.7L751.9,204.6L759.2,204.5L766.5,204.4L773.8,204.3L781.0,204.3L788.3,204.2L795.6,204.1L802.9,204.0L803.4,204.0"/>
<path stroke="#800000" stroke-width="8" d="M257.5,1196.1L273.2,1196.1L274.3,1181.5L275.4,1167.0L276.5,1152.7L277.6,1138.6L278.7,1124.7L279.8,1111.1L280.9,1097.8L282.0,1084.8L283.0,1072.0L284.1,1059.4L285.2,1046.9L286.3,1034.5L287.4,1022.2L288.5,1010.1L289.6,998.1L290.7,986.3L291.8,974.6L292.9,963.1L294.0,951.7L295.1,940.5L296.1,929.4L297.2,918.5L298.3,907.8L299.4,897.3L300.5,886.9L301.6,876.7L302.7,866.5L303.8,856.3L304.9,846.3L306.0,836.3L307.1,826.5L308.2,816.7L309.2,807.0L310.3,797.5L311.4,788.1L312.5,778.8L313.6,769.6L314.7,760.6L315.8,751.8L316.9,743.1L318.0,734.5L319.1,726.2L320.2,718.0L321.3,710.0L322.3,702.1L323.4,694.5L324.5,687.2L325.6,680.2L326.7,673.4L327.8,666.9L328.9,660.5L330.0,654.2L331.1,647.8L332.2,641.4L333.3,634.9L334.4,628.4L335.4,621.9L336.5,615.4L337.6,609.0L338.7,602.5L339.8,596.0L340.9,589.6L342.0,583.3L343.1,576.9L344.2,570.7L345.3,564.5L346.4,558.3L347.5,552.3L348.5,546.3L349.6,540.4L350.7,534.6L351.8,529.0L352.9,523.4L354.0,517.9L355.1,512.5L356.2,507.0L357.3,501.6L358.4,496.2L359.5,490.9L360.6,485.5L361.6,480.3L362.7,475.0L363.8,469.9L364.9,464.7L366.0,459.7L367.1,454.7L368.2,449.7L369.3,444.9L370.4,440.1L371.5,435.4L372.6,430.8L373.7,426.3L374.7,421.9L375.8,417.6L376.9,413.4L378.0,409.3L379.1,405.3L380.2,401.5L381.3,397.7L382.4,394.0L383.5,390.4L384.6,386.8L385.7,383.2L386.8,379.7L387.8,376.3L388.9,372.9L390.0,369.5L391.1,366.2L392.2,363.0L393.3,359.8L394.4,356.7L395.5,353.7L396.6,350.7L397.7,347.8L398.8,344.9L399.9,342.2L400.9,339.4L402.0,336.8L403.1,334.2L404.2,331.7L405.3,329.3L406.4,327.0L407.5,324.7L408.6,322.5L409.7,320.4L410.8,318.3L411.9,316.3L413.0,314.3L414.0,312.3L415.1,310.4L416.2,308.6L417.3,306.8L418.4,305.0L419.5,303.3L420.6,301.6L421.7,299.9L422.8,298.2L423.9,296.6L425.0,295.0L426.1,293.5L427.1,291.9L428.2,290.4L429.3,288.9L430.4,287.5L431.5,286.0L432.6,284.6L433.7,283.1L434.8,281.7L435.9,280.3L437.0,278.9L438.1,277.5L439.2,276.1L440.2,274.7L441.3,273.4L442.4,272.1L443.5,270.7L444.6,269.5L445.7,268.2L446.8,266.9L447.9,265.7L449.0,264.5L450.1,263.4L451.2,262.3L452.3,261.2L453.3,260.1L454.4,259.1L455.5,258.1L456.6,257.2L457.7,256.3L458.8,255.4L459.9,254.6L461.0,253.8L462.1,252.9L463.2,252.1L464.3,251.3L465.4,250.5L466.4,249.8L467.5,249.0L468.6,248.2L469.7,247.5L470.8,246.8L471.9,246.1L473.0,245.4L474.1,244.7L475.2,244.0L476.3,243.3L477.4,242.7L478.5,242.0L479.5,241.4L480.6,240.7L481.7,240.1L482.8,239.5L483.9,238.9L485.0,238.3L486.1,237.7L487.2,237.1L488.3,236.6L489.4,236.0L490.5,235.4L491.6,234.9L492.6,234.3L493.7,233.8L494.8,233.3L495.9,232.7L497.0,232.2L498.1,231.7L499.2,231.2L500.3,230.7L501.4,230.2L502.5,229.7L503.6,229.2L504.7,228.7L505.7,228.2L506.8,227.7L507.9,227.2L509.0,226.8L510.1,226.3L511.2,225.8L512.3,225.3L513.4,224.9L514.5,224.4L515.6,224.0L516.7,223.5L517.8,223.1L518.8,222.7L519.9,222.3L521.0,221.9L522.1,221.6L523.2,221.2L524.3,220.9L525.4,220.5L526.5,220.2L527.6,220.0L528.7,219.7L529.8,219.5L530.9,219.2L531.9,219.0L533.0,218.8L534.1,218.6L535.2,218.4L536.3,218.1L537.4,217.9L538.5,217.7L539.6,217.5L540.7,217.3L541.8,217.1L542.9,216.9L544.0,216.7L545.1,216.6L546.1,216.4L547.2,216.2L548.3,216.0L549.4,215.8L550.5,215.6L551.6,215.5L552.7,215.3L553.8,215.1L554.9,215.0L556.0,214.8L557.1,214.6L558.2,214.5L559.2,214.3L560.3,214.2L561.4,214.0L562.5,213.9L563.6,213.7L564.7,213.6L565.8,213.4L566.9,213.3L568.0,213.2L569.1,213.0L570.2,212.9L571.3,212.8L572.3,212.6L573.4,212.5L574.5,212.4L575.6,212.3L576.7,212.1L577.8,212.0L578.9,211.9L580.0,211.8L581.1,211.7L582.2,211.6L583.3,211.5L584.4,211.4L585.4,211.3L586.5,211.2L587.6,211.1L588.7,211.0L589.8,210.9L590.9,210.8L592.0,210.7L593.1,210.6L594.2,210.5L595.3,210.4L596.4,210.3L597.5,210.3L598.5,210.2L599.6,210.1L600.7,210.0L608.0,209.6L615.3,209.1L622.6,208.7L629.8,208.3L637.1,208.0L644.4,207.6L651.7,207.3L659.0,207.1L666.2,206.8L673.5,206.6L680.8,206.4L688.1,206.2L695.3,206.0L702.6,205.9L709.9,205.8L717.2,205.7L724.5,205.6L731.7,205.5L739.0,205.4L746.3,205.3L753.6,205.2L760.8,205.1L768.1,205.0L775.4,204.9L782.7,204.8L790.0,204.7L797.2,204.7L803.4,204.6"/>
<path stroke="#800000" stroke-width="8" d="M257.5,1250.3L273.4,1250.3L274.5,1234.0L275.6,1217.9L276.7,1202.0L277.8,1186.4L278.9,1171.0L280.0,1156.0L281.1,1141.4L282.2,1127.2L283.3,1113.0L284.4,1099.1L285.4,1085.3L286.5,1071.6L287.6,1058.1L288.7,1044.8L289.8,1031.7L290.9,1018.7L292.0,1006.0L293.1,993.4L294.2,981.0L295.3,968.9L296.4,956.9L297.5,945.2L298.5,933.7L299.6,922.2L300.7,910.8L301.8,899.5L302.9,888.3L304.0,877.2L305.1,866.3L306.2,855.5L307.3,844.8L308.4,834.3L309.5,824.0L310.6,813.8L311.6,803.8L312.7,794.0L313.8,784.4L314.9,775.1L316.0,765.9L317.1,757.0L318.2,748.4L319.3,740.0L320.4,732.1L321.5,724.6L322.6,717.2L323.7,710.0L324.7,702.8L325.8,695.5L326.9,688.1L328.0,680.7L329.1,673.4L330.2,666.0L331.3,658.6L332.4,651.2L333.5,643.9L334.6,636.7L335.7,629.4L336.8,622.3L337.8,615.2L338.9,608.2L340.0,601.3L341.1,594.5L342.2,587.9L343.3,581.3L344.4,574.9L345.5,568.7L346.6,562.4L347.7,556.2L348.8,550.0L349.9,543.8L350.9,537.7L352.0,531.6L353.1,525.6L354.2,519.7L355.3,513.8L356.4,508.0L357.5,502.3L358.6,496.6L359.7,491.1L360.8,485.6L361.9,480.3L363.0,475.1L364.0,470.0L365.1,465.0L366.2,460.2L367.3,455.5L368.4,451.0L369.5,446.6L370.6,442.3L371.7,438.1L372.8,433.9L373.9,429.7L375.0,425.7L376.1,421.7L377.2,417.8L378.2,413.9L379.3,410.1L380.4,406.4L381.5,402.8L382.6,399.2L383.7,395.7L384.8,392.4L385.9,389.0L387.0,385.8L388.1,382.7L389.2,379.7L390.3,376.7L391.3,373.9L392.4,371.1L393.5,368.5L394.6,365.9L395.7,363.4L396.8,360.9L397.9,358.6L399.0,356.3L400.1,354.0L401.2,351.8L402.3,349.6L403.4,347.5L404.4,345.5L405.5,343.4L406.6,341.5L407.7,339.5L408.8,337.6L409.9,335.7L411.0,333.9L412.1,332.1L413.2,330.3L414.3,328.5L415.4,326.8L416.5,325.0L417.5,323.3L418.6,321.6L419.7,319.9L420.8,318.2L421.9,316.6L423.0,314.9L424.1,313.3L425.2,311.7L426.3,310.1L427.4,308.6L428.5,307.1L429.6,305.6L430.6,304.2L431.7,302.8L432.8,301.4L433.9,300.1L435.0,298.8L436.1,297.6L437.2,296.5L438.3,295.4L439.4,294.3L440.5,293.2L441.6,292.2L442.7,291.1L443.7,290.1L444.8,289.1L445.9,288.2L447.0,287.2L448.1,286.3L449.2,285.3L450.3,284.4L451.4,283.5L452.5,282.6L453.6,281.8L454.7,280.9L455.8,280.1L456.8,279.2L457.9,278.4L459.0,277.6L460.1,276.8L461.2,276.0L462.3,275.3L463.4,274.5L464.5,273.7L465.6,273.0L466.7,272.3L467.8,271.6L468.9,270.8L469.9,270.1L471.0,269.4L472.1,268.8L473.2,268.1L474.3,267.4L475.4,266.7L476.5,266.1L477.6,265.4L478.7,264.8L479.8,264.1L480.9,263.5L482.0,262.8L483.0,262.2L484.1,261.6L485.2,260.9L486.3,260.3L487.4,259.7L488.5,259.1L489.6,258.5L490.7,257.9L491.8,257.4L492.9,256.8L494.0,256.3L495.1,255.8L496.1,255.3L497.2,254.8L498.3,254.3L499.4,253.9L500.5,253.5L501.6,253.1L502.7,252.8L503.8,252.5L504.9,252.1L506.0,251.8L507.1,251.5L508.2,251.2L509.2,250.8L510.3,250.5L511.4,250.2L512.5,249.9L513.6,249.6L514.7,249.3L515.8,249.0L516.9,248.8L518.0,248.5L519.1,248.2L520.2,247.9L521.3,247.6L522.3,247.4L523.4,247.1L524.5,246.8L525.6,246.6L526.7,246.3L527.8,246.1L528.9,245.8L530.0,245.6L531.1,245.3L532.2,245.1L533.3,244.8L534.4,244.6L535.4,244.4L536.5,244.2L537.6,243.9L538.7,243.7L539.8,243.5L540.9,243.3L542.0,243.1L543.1,242.9L544.2,242.7L545.3,242.5L546.4,242.3L547.5,242.1L548.5,241.9L549.6,241.7L550.7,241.5L551.8,241.3L552.9,241.1L554.0,241.0L555.1,240.8L556.2,240.6L557.3,240.4L558.4,240.3L559.5,240.1L560.6,239.9L561.6,239.8L562.7,239.6L563.8,239.5L564.9,239.3L566.0,239.2L567.1,239.0L568.2,238.9L569.3,238.7L570.4,238.6L571.5,238.5L572.6,238.3L573.7,238.2L574.7,238.1L575.8,237.9L576.9,237.8L578.0,237.7L579.1,237.5L580.2,237.4L581.3,237.3L582.4,237.1L583.5,237.0L584.6,236.9L585.7,236.8L586.8,236.6L587.8,236.5L588.9,236.4L590.0,236.3L591.1,236.2L592.2,236.0L593.3,235.9L594.4,235.8L595.5,235.7L596.6,235.6L597.7,235.5L598.8,235.3L599.9,235.2L600.9,235.1L608.2,234.4L615.5,233.7L622.8,233.1L630.1,232.5L637.3,231.9L644.6,231.4L651.9,231.0L659.2,230.5L666.5,230.1L673.7,229.7L681.0,229.3L688.3,228.9L695.6,228.6L702.8,228.2L710.1,227.9L717.4,227.5L724.7,227.2L732.0,226.9L739.2,226.6L746.5,226.3L753.8,226.0L761.1,225.8L768.3,225.5L775.6,225.3L782.9,225.0L790.2,224.8L797.5,224.6L804.7,224.4L812.0,224.2L819.3,224.0L826.6,223.8L833.8,223.7L841.1,223.5L848.4,223.3L855.7,223.2L863.0,223.0L870.2,222.9L877.5,222.8L884.8,222.6L892.1,222.5L899.3,222.4L906.6,222.2L913.9,222.1L921.2,222.0L928.5,221.9L935.7,221.8L943.0,221.7L950.3,221.6L957.6,221.5L964.8,221.4L972.1,221.3L979.4,221.2L986.7,221.1L994.0,221.0L1001.2,220.9L1008.5,220.8L1015.8,220.7L1017.7,220.7"/>
<path stroke="#800000" stroke-width="8" d="M257.5,1250.3L275.3,1250.3L276.4,1234.0L277.5,1217.8L278.6,1201.9L279.7,1186.2L280.8,1170.8L281.9,1155.8L282.9,1141.2L284.0,1126.9L285.1,1112.8L286.2,1098.8L287.3,1084.9L288.4,1071.3L289.5,1057.7L290.6,1044.4L291.7,1031.3L292.8,1018.3L293.9,1005.5L295.0,992.9L296.0,980.6L297.1,968.4L298.2,956.5L299.3,944.7L300.4,933.2L301.5,921.7L302.6,910.2L303.7,898.9L304.8,887.7L305.9,876.7L307.0,865.7L308.1,854.9L309.1,844.2L310.2,833.7L311.3,823.4L312.4,813.2L313.5,803.2L314.6,793.5L315.7,783.9L316.8,774.5L317.9,765.4L319.0,756.5L320.1,747.9L321.2,739.6L322.2,731.7L323.3,724.2L324.4,716.8L325.5,709.6L326.6,702.4L327.7,695.1L328.8,687.7L329.9,680.3L331.0,672.9L332.1,665.5L333.2,658.2L334.3,650.8L335.3,643.5L336.4,636.2L337.5,629.0L338.6,621.9L339.7,614.8L340.8,607.8L341.9,600.9L343.0,594.2L344.1,587.5L345.2,581.0L346.3,574.6L347.4,568.4L348.4,562.1L349.5,555.9L350.6,549.7L351.7,543.5L352.8,537.4L353.9,531.4L355.0,525.4L356.1,519.4L357.2,513.6L358.3,507.8L359.4,502.1L360.5,496.4L361.6,490.9L362.6,485.5L363.7,480.2L364.8,475.0L365.9,469.9L367.0,465.0L368.1,460.2L369.2,455.6L370.3,451.1L371.4,446.7L372.5,442.4L373.6,438.2L374.7,434.0L375.7,429.9L376.8,425.9L377.9,421.9L379.0,418.0L380.1,414.2L381.2,410.4L382.3,406.7L383.4,403.1L384.5,399.6L385.6,396.1L386.7,392.7L387.8,389.5L388.8,386.3L389.9,383.2L391.0,380.2L392.1,377.2L393.2,374.4L394.3,371.7L395.4,369.1L396.5,366.5L397.6,364.1L398.7,361.6L399.8,359.3L400.9,357.0L401.9,354.8L403.0,352.6L404.1,350.4L405.2,348.3L406.3,346.3L407.4,344.3L408.5,342.3L409.6,340.4L410.7,338.5L411.8,336.7L412.9,334.8L414.0,333.0L415.0,331.3L416.1,329.5L417.2,327.8L418.3,326.1L419.4,324.3L420.5,322.6L421.6,321.0L422.7,319.3L423.8,317.6L424.9,316.0L426.0,314.4L427.1,312.8L428.1,311.3L429.2,309.7L430.3,308.3L431.4,306.8L432.5,305.4L433.6,304.0L434.7,302.7L435.8,301.4L436.9,300.2L438.0,299.0L439.1,297.8L440.2,296.7L441.2,295.7L442.3,294.6L443.4,293.6L444.5,292.6L445.6,291.6L446.7,290.6L447.8,289.7L448.9,288.7L450.0,287.8L451.1,286.9L452.2,286.0L453.3,285.1L454.3,284.2L455.4,283.3L456.5,282.5L457.6,281.7L458.7,280.9L459.8,280.0L460.9,279.3L462.0,278.5L463.1,277.7L464.2,276.9L465.3,276.2L466.4,275.4L467.4,274.7L468.5,274.0L469.6,273.3L470.7,272.6L471.8,271.9L472.9,271.2L474.0,270.5L475.1,269.9L476.2,269.2L477.3,268.5L478.4,267.9L479.5,267.3L480.5,266.6L481.6,266.0L482.7,265.3L483.8,264.7L484.9,264.1L486.0,263.4L487.1,262.8L488.2,262.2L489.3,261.6L490.4,261.0L491.5,260.4L492.6,259.9L493.6,259.3L494.7,258.8L495.8,258.3L496.9,257.8L498.0,257.3L499.1,256.8L500.2,256.4L501.3,256.0L502.4,255.6L503.5,255.3L504.6,254.9L505.7,254.6L506.7,254.3L507.8,254.0L508.9,253.7L510.0,253.3L511.1,253.0L512.2,252.7L513.3,252.4L514.4,252.1L515.5,251.9L516.6,251.6L517.7,251.3L518.8,251.0L519.8,250.7L520.9,250.4L522.0,250.2L523.1,249.9L524.2,249.7L525.3,249.4L526.4,249.1L527.5,248.9L528.6,248.6L529.7,248.4L530.8,248.1L531.9,247.9L532.9,247.7L534.0,247.4L535.1,247.2L536.2,247.0L537.3,246.8L538.4,246.5L539.5,246.3L540.6,246.1L541.7,245.9L542.8,245.7L543.9,245.5L545.0,245.3L546.0,245.1L547.1,244.9L548.2,244.7L549.3,244.5L550.4,244.3L551.5,244.2L552.6,244.0L553.7,243.8L554.8,243.6L555.9,243.5L557.0,243.3L558.1,243.1L559.1,243.0L560.2,242.8L561.3,242.7L562.4,242.5L563.5,242.3L564.6,242.2L565.7,242.1L566.8,241.9L567.9,241.8L569.0,241.6L570.1,241.5L571.2,241.4L572.2,241.2L573.3,241.1L574.4,241.0L575.5,240.8L576.6,240.7L577.7,240.6L578.8,240.4L579.9,240.3L581.0,240.2L582.1,240.1L583.2,239.9L584.3,239.8L585.3,239.7L586.4,239.6L587.5,239.5L588.6,239.3L589.7,239.2L590.8,239.1L591.9,239.0L593.0,238.9L594.1,238.8L595.2,238.7L596.3,238.5L597.4,238.4L598.4,238.3L599.5,238.2L600.6,238.1L601.7,238.0L602.8,237.9L610.1,237.2L617.4,236.6L624.7,236.0L631.9,235.4L639.2,234.9L646.5,234.4L653.8,234.0L661.0,233.6L668.3,233.2L675.6,232.8L682.9,232.4L690.2,232.1L697.4,231.7L704.7,231.4L712.0,231.1L719.3,230.7L726.5,230.4L733.8,230.2L741.1,229.9L748.4,229.6L755.7,229.3L762.9,229.1L770.2,228.9L777.5,228.6L784.8,228.4L792.0,228.2L799.3,228.0L806.6,227.8L813.9,227.6L821.2,227.5L828.4,227.3L835.7,227.1L843.0,227.0L850.3,226.9L857.5,226.7L864.8,226.6L872.1,226.5L879.4,226.3L886.7,226.2L893.9,226.1L901.2,226.0L908.5,225.8L915.8,225.7L923.0,225.6L930.3,225.5L937.6,225.4L944.9,225.3L948.9,225.3"/>
<path stroke="#ff0000" stroke-width="4" d="M257.5,1285.0L264.0,1285.0"/>
<path stroke="#800000" stroke-width="7" d="M257.5,1290.0L263.5,1290.0"/>
<path stroke="#ff00ff" stroke-width="4" d="M257.5,1293.5L266.0,1293.5"/>
<path stroke="#00ff00" stroke-width="3" d="M257.5,1296.5L264.0,1296.5"/>
<path stroke="#00ff00" stroke-width="5" d="M257.5,1394.0L262.0,1392.0"/>
</g>
<g fill="#000"><path d="M 447,605.5 L 516.2,587.8 L 521,587.8 Q 525.9,588.5 525.9,593 L 525.9,595.4 L 513.7,605.5 L 525.9,615.6 L 525.9,618 Q 525.9,622.5 521,623.2 L 516.2,623.2 Z"/><path transform="translate(786.7,0) scale(-1,1)" d="M 447,605.5 L 516.2,587.8 L 521,587.8 Q 525.9,588.5 525.9,593 L 525.9,595.4 L 513.7,605.5 L 525.9,615.6 L 525.9,618 Q 525.9,622.5 521,623.2 L 516.2,623.2 Z"/><rect x="314.3" y="600" width="10" height="11"/><rect x="331.9" y="600" width="10" height="11"/><rect x="349.5" y="600" width="10" height="11"/><rect x="367.1" y="600" width="10" height="11"/><rect x="384.7" y="600" width="10" height="11"/><rect x="402.3" y="600" width="10" height="11"/><rect x="419.9" y="600" width="10" height="11"/><rect x="437.5" y="600" width="10" height="11"/><rect x="455.1" y="600" width="10" height="11"/></g>
<g fill="#000" style="font-kerning:none" font-family="'Liberation Sans', Arial, Helvetica, sans-serif" font-weight="bold"><text transform="translate(213.50,1412.00) scale(0.9350,1)" text-anchor="end" font-size="65.25">0</text><text transform="translate(212.60,1111.00) scale(0.9350,1)" text-anchor="end" font-size="65.25" letter-spacing="-1.10">40</text><text transform="translate(212.60,810.00) scale(0.9350,1)" text-anchor="end" font-size="65.25" letter-spacing="-1.10">80</text><text transform="translate(212.60,509.00) scale(0.9350,1)" text-anchor="end" font-size="65.25" letter-spacing="-1.10">120</text><text transform="translate(212.60,208.00) scale(0.9350,1)" text-anchor="end" font-size="65.25" letter-spacing="-1.10">160</text><text transform="translate(257.50,1485.00) scale(0.9350,1)" text-anchor="middle" font-size="65.25">0</text><text transform="translate(621.90,1485.00) scale(0.9350,1)" text-anchor="middle" font-size="65.25" letter-spacing="-1.10">1000</text><text transform="translate(985.80,1485.00) scale(0.9350,1)" text-anchor="middle" font-size="65.25" letter-spacing="-1.10">2000</text><text transform="translate(1349.70,1485.00) scale(0.9350,1)" text-anchor="middle" font-size="65.25" letter-spacing="-1.10">3000</text><text transform="translate(1713.60,1485.00) scale(0.9350,1)" text-anchor="middle" font-size="65.25" letter-spacing="-1.10">4000</text><text transform="translate(2076.50,1485.00) scale(0.9350,1)" text-anchor="middle" font-size="65.25" letter-spacing="-1.10">5000</text><text transform="translate(1167.00,1609.00) scale(0.9826,1)" text-anchor="middle" font-size="80.30">Time (s)</text><text transform="translate(81.20,1020.70) rotate(-90) scale(1.0300,1)" text-anchor="start" font-size="80.30">Temperature</text><text transform="translate(81.20,502.20) rotate(-90) scale(0.9790,1)" text-anchor="start" font-size="80.30">°C</text><text transform="translate(552.50,632.00) scale(0.9757,1)" text-anchor="start" font-size="68.80">28 heating curves</text></g>
</svg>
</body>
</html>
